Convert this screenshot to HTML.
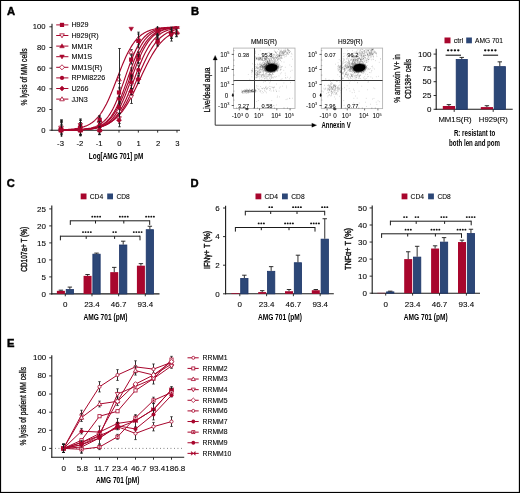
<!DOCTYPE html>
<html><head><meta charset="utf-8"><style>
html,body{margin:0;padding:0;background:#fff;width:520px;height:493px;overflow:hidden}
svg{display:block;will-change:transform;font-family:"Liberation Sans",sans-serif}
</style></head><body>
<svg width="520" height="493" viewBox="0 0 520 493">
<rect width="520" height="493" fill="#fff"/>
<rect x="0" y="0" width="520" height="1" fill="#000"/>
<rect x="0" y="0" width="1.1" height="493" fill="#000"/>
<rect x="518.85" y="0" width="1.15" height="493" fill="#000"/>
<rect x="0" y="491.9" width="520" height="1.1" fill="#000"/>
<text x="7" y="14.9" font-size="11.2" stroke="#000" stroke-width="0.45" font-weight="bold" fill="#000">A</text>
<text x="190.9" y="15.3" font-size="11.2" stroke="#000" stroke-width="0.45" font-weight="bold" fill="#000">B</text>
<text x="6.8" y="187" font-size="11.2" stroke="#000" stroke-width="0.45" font-weight="bold" fill="#000">C</text>
<text x="190.6" y="186.7" font-size="11.2" stroke="#000" stroke-width="0.45" font-weight="bold" fill="#000">D</text>
<text x="7" y="347.3" font-size="11.2" stroke="#000" stroke-width="0.45" font-weight="bold" fill="#000">E</text>
<line x1="52" y1="23.8" x2="52" y2="130.7" stroke="#1a1a1a" stroke-width="1.1"/>
<line x1="51.5" y1="130.2" x2="180" y2="130.2" stroke="#1a1a1a" stroke-width="1.1"/>
<line x1="49.4" y1="130.2" x2="52" y2="130.2" stroke="#1a1a1a" stroke-width="0.9"/>
<text x="45.6" y="132.55" font-size="7.7" stroke="#1a1a1a" stroke-width="0.1" text-anchor="end">0</text>
<line x1="49.4" y1="109.52" x2="52" y2="109.52" stroke="#1a1a1a" stroke-width="0.9"/>
<text x="45.6" y="111.87" font-size="7.7" stroke="#1a1a1a" stroke-width="0.1" text-anchor="end">20</text>
<line x1="49.4" y1="88.84" x2="52" y2="88.84" stroke="#1a1a1a" stroke-width="0.9"/>
<text x="45.6" y="91.19" font-size="7.7" stroke="#1a1a1a" stroke-width="0.1" text-anchor="end">40</text>
<line x1="49.4" y1="68.16" x2="52" y2="68.16" stroke="#1a1a1a" stroke-width="0.9"/>
<text x="45.6" y="70.51" font-size="7.7" stroke="#1a1a1a" stroke-width="0.1" text-anchor="end">60</text>
<line x1="49.4" y1="47.48" x2="52" y2="47.48" stroke="#1a1a1a" stroke-width="0.9"/>
<text x="45.6" y="49.83" font-size="7.7" stroke="#1a1a1a" stroke-width="0.1" text-anchor="end">80</text>
<line x1="49.4" y1="26.8" x2="52" y2="26.8" stroke="#1a1a1a" stroke-width="0.9"/>
<text x="45.6" y="29.15" font-size="7.7" stroke="#1a1a1a" stroke-width="0.1" text-anchor="end">100</text>
<line x1="61.01" y1="130.2" x2="61.01" y2="132.6" stroke="#1a1a1a" stroke-width="0.9"/>
<text x="60.51" y="146.25" font-size="7.7" stroke="#1a1a1a" stroke-width="0.1" text-anchor="middle">-3</text>
<line x1="80.34" y1="130.2" x2="80.34" y2="132.6" stroke="#1a1a1a" stroke-width="0.9"/>
<text x="79.84" y="146.25" font-size="7.7" stroke="#1a1a1a" stroke-width="0.1" text-anchor="middle">-2</text>
<line x1="99.67" y1="130.2" x2="99.67" y2="132.6" stroke="#1a1a1a" stroke-width="0.9"/>
<text x="99.17" y="146.25" font-size="7.7" stroke="#1a1a1a" stroke-width="0.1" text-anchor="middle">-1</text>
<line x1="119" y1="130.2" x2="119" y2="132.6" stroke="#1a1a1a" stroke-width="0.9"/>
<text x="119.4" y="146.25" font-size="7.7" stroke="#1a1a1a" stroke-width="0.1" text-anchor="middle">0</text>
<line x1="138.33" y1="130.2" x2="138.33" y2="132.6" stroke="#1a1a1a" stroke-width="0.9"/>
<text x="138.73" y="146.25" font-size="7.7" stroke="#1a1a1a" stroke-width="0.1" text-anchor="middle">1</text>
<line x1="157.66" y1="130.2" x2="157.66" y2="132.6" stroke="#1a1a1a" stroke-width="0.9"/>
<text x="158.06" y="146.25" font-size="7.7" stroke="#1a1a1a" stroke-width="0.1" text-anchor="middle">2</text>
<line x1="176.99" y1="130.2" x2="176.99" y2="132.6" stroke="#1a1a1a" stroke-width="0.9"/>
<text x="177.39" y="146.25" font-size="7.7" stroke="#1a1a1a" stroke-width="0.1" text-anchor="middle">3</text>
<text x="88.8" y="158.9" font-size="9" font-weight="bold" textLength="54.5" lengthAdjust="spacingAndGlyphs">Log[AMG 701] pM</text>
<text x="26.72" y="77" font-size="8.2" stroke="#1a1a1a" stroke-width="0.3" text-anchor="middle" textLength="57" lengthAdjust="spacingAndGlyphs" transform="rotate(-90 26.72 77)">% lysis of MM cells</text>
<clipPath id="cA"><rect x="52" y="26.3" width="130" height="110"/></clipPath>
<g clip-path="url(#cA)">
<path d="M61.01 129.85L61.98 129.81L62.94 129.77L63.91 129.73L64.88 129.68L65.84 129.63L66.81 129.57L67.78 129.5L68.74 129.43L69.71 129.35L70.68 129.27L71.64 129.17L72.61 129.07L73.57 128.95L74.54 128.82L75.51 128.68L76.47 128.53L77.44 128.36L78.41 128.18L79.37 127.97L80.34 127.75L81.31 127.51L82.27 127.24L83.24 126.94L84.21 126.62L85.17 126.26L86.14 125.88L87.11 125.45L88.07 124.99L89.04 124.48L90 123.93L90.97 123.33L91.94 122.67L92.9 121.96L93.87 121.19L94.84 120.35L95.8 119.44L96.77 118.46L97.74 117.4L98.7 116.26L99.67 115.04L100.64 113.73L101.6 112.33L102.57 110.84L103.54 109.25L104.5 107.57L105.47 105.79L106.44 103.92L107.4 101.95L108.37 99.9L109.34 97.76L110.3 95.55L111.27 93.26L112.23 90.9L113.2 88.49L114.17 86.03L115.13 83.54L116.1 81.03L117.07 78.5L118.03 75.97L119 73.46L119.97 70.97L120.93 68.51L121.9 66.1L122.87 63.74L123.83 61.45L124.8 59.24L125.77 57.1L126.73 55.05L127.7 53.08L128.66 51.21L129.63 49.43L130.6 47.75L131.56 46.16L132.53 44.67L133.5 43.27L134.46 41.96L135.43 40.74L136.4 39.6L137.36 38.54L138.33 37.56L139.3 36.65L140.26 35.81L141.23 35.04L142.2 34.33L143.16 33.67L144.13 33.07L145.1 32.52L146.06 32.01L147.03 31.55L148 31.12L148.96 30.74L149.93 30.38L150.89 30.06L151.86 29.76L152.83 29.49L153.79 29.25L154.76 29.03L155.73 28.82L156.69 28.64L157.66 28.47L158.63 28.32L159.59 28.18L160.56 28.05L161.53 27.93L162.49 27.83L163.46 27.73L164.43 27.65L165.39 27.57L166.36 27.5L167.32 27.43L168.29 27.37L169.26 27.32L170.22 27.27L171.19 27.23L172.16 27.19L173.12 27.15L174.09 27.12L175.06 27.09L176.02 27.06L176.99 27.04" stroke="#a8062d" stroke-width="1.15" fill="none"/>
<path d="M61.01 130.12L61.98 130.12L62.94 130.11L63.91 130.09L64.88 130.08L65.84 130.07L66.81 130.05L67.78 130.04L68.74 130.02L69.71 130L70.68 129.97L71.64 129.95L72.61 129.92L73.57 129.89L74.54 129.85L75.51 129.81L76.47 129.77L77.44 129.72L78.41 129.66L79.37 129.6L80.34 129.53L81.31 129.45L82.27 129.37L83.24 129.27L84.21 129.16L85.17 129.05L86.14 128.91L87.11 128.77L88.07 128.6L89.04 128.42L90 128.22L90.97 128L91.94 127.75L92.9 127.47L93.87 127.17L94.84 126.83L95.8 126.45L96.77 126.04L97.74 125.58L98.7 125.07L99.67 124.51L100.64 123.89L101.6 123.22L102.57 122.47L103.54 121.65L104.5 120.75L105.47 119.77L106.44 118.7L107.4 117.53L108.37 116.26L109.34 114.89L110.3 113.41L111.27 111.81L112.23 110.1L113.2 108.27L114.17 106.32L115.13 104.26L116.1 102.07L117.07 99.78L118.03 97.38L119 94.88L119.97 92.29L120.93 89.63L121.9 86.91L122.87 84.13L123.83 81.32L124.8 78.5L125.77 75.68L126.73 72.87L127.7 70.09L128.66 67.37L129.63 64.71L130.6 62.12L131.56 59.62L132.53 57.22L133.5 54.93L134.46 52.74L135.43 50.68L136.4 48.73L137.36 46.9L138.33 45.19L139.3 43.59L140.26 42.11L141.23 40.74L142.2 39.47L143.16 38.3L144.13 37.23L145.1 36.25L146.06 35.35L147.03 34.53L148 33.78L148.96 33.11L149.93 32.49L150.89 31.93L151.86 31.42L152.83 30.96L153.79 30.55L154.76 30.17L155.73 29.83L156.69 29.53L157.66 29.25L158.63 29L159.59 28.78L160.56 28.58L161.53 28.4L162.49 28.23L163.46 28.09L164.43 27.95L165.39 27.84L166.36 27.73L167.32 27.63L168.29 27.55L169.26 27.47L170.22 27.4L171.19 27.34L172.16 27.28L173.12 27.23L174.09 27.19L175.06 27.15L176.02 27.11L176.99 27.08" stroke="#a8062d" stroke-width="1.15" fill="none"/>
<path d="M61.01 130.15L61.98 130.14L62.94 130.13L63.91 130.12L64.88 130.12L65.84 130.11L66.81 130.09L67.78 130.08L68.74 130.07L69.71 130.05L70.68 130.04L71.64 130.02L72.61 130L73.57 129.97L74.54 129.95L75.51 129.92L76.47 129.89L77.44 129.85L78.41 129.81L79.37 129.77L80.34 129.72L81.31 129.66L82.27 129.6L83.24 129.53L84.21 129.45L85.17 129.37L86.14 129.27L87.11 129.16L88.07 129.05L89.04 128.91L90 128.77L90.97 128.6L91.94 128.42L92.9 128.22L93.87 128L94.84 127.75L95.8 127.47L96.77 127.17L97.74 126.83L98.7 126.45L99.67 126.04L100.64 125.58L101.6 125.07L102.57 124.51L103.54 123.89L104.5 123.22L105.47 122.47L106.44 121.65L107.4 120.75L108.37 119.77L109.34 118.7L110.3 117.53L111.27 116.26L112.23 114.89L113.2 113.41L114.17 111.81L115.13 110.1L116.1 108.27L117.07 106.32L118.03 104.26L119 102.07L119.97 99.78L120.93 97.38L121.9 94.88L122.87 92.29L123.83 89.63L124.8 86.91L125.77 84.13L126.73 81.32L127.7 78.5L128.66 75.68L129.63 72.87L130.6 70.09L131.56 67.37L132.53 64.71L133.5 62.12L134.46 59.62L135.43 57.22L136.4 54.93L137.36 52.74L138.33 50.68L139.3 48.73L140.26 46.9L141.23 45.19L142.2 43.59L143.16 42.11L144.13 40.74L145.1 39.47L146.06 38.3L147.03 37.23L148 36.25L148.96 35.35L149.93 34.53L150.89 33.78L151.86 33.11L152.83 32.49L153.79 31.93L154.76 31.42L155.73 30.96L156.69 30.55L157.66 30.17L158.63 29.83L159.59 29.53L160.56 29.25L161.53 29L162.49 28.78L163.46 28.58L164.43 28.4L165.39 28.23L166.36 28.09L167.32 27.95L168.29 27.84L169.26 27.73L170.22 27.63L171.19 27.55L172.16 27.47L173.12 27.4L174.09 27.34L175.06 27.28L176.02 27.23L176.99 27.19" stroke="#a8062d" stroke-width="1.15" fill="none"/>
<path d="M61.01 130.13L61.98 130.13L62.94 130.12L63.91 130.11L64.88 130.1L65.84 130.09L66.81 130.08L67.78 130.06L68.74 130.05L69.71 130.03L70.68 130.01L71.64 129.99L72.61 129.97L73.57 129.95L74.54 129.92L75.51 129.89L76.47 129.85L77.44 129.82L78.41 129.78L79.37 129.73L80.34 129.68L81.31 129.62L82.27 129.56L83.24 129.49L84.21 129.41L85.17 129.33L86.14 129.23L87.11 129.13L88.07 129.01L89.04 128.88L90 128.74L90.97 128.59L91.94 128.41L92.9 128.22L93.87 128.01L94.84 127.78L95.8 127.52L96.77 127.24L97.74 126.92L98.7 126.58L99.67 126.2L100.64 125.78L101.6 125.32L102.57 124.81L103.54 124.26L104.5 123.65L105.47 122.99L106.44 122.26L107.4 121.47L108.37 120.6L109.34 119.66L110.3 118.64L111.27 117.53L112.23 116.33L113.2 115.04L114.17 113.65L115.13 112.16L116.1 110.56L117.07 108.86L118.03 107.05L119 105.14L119.97 103.12L120.93 101L121.9 98.78L122.87 96.47L123.83 94.07L124.8 91.6L125.77 89.06L126.73 86.47L127.7 83.84L128.66 81.18L129.63 78.5L130.6 75.82L131.56 73.16L132.53 70.53L133.5 67.94L134.46 65.4L135.43 62.93L136.4 60.53L137.36 58.22L138.33 56L139.3 53.88L140.26 51.86L141.23 49.95L142.2 48.14L143.16 46.44L144.13 44.84L145.1 43.35L146.06 41.96L147.03 40.67L148 39.47L148.96 38.36L149.93 37.34L150.89 36.4L151.86 35.53L152.83 34.74L153.79 34.01L154.76 33.35L155.73 32.74L156.69 32.19L157.66 31.68L158.63 31.22L159.59 30.8L160.56 30.42L161.53 30.08L162.49 29.76L163.46 29.48L164.43 29.22L165.39 28.99L166.36 28.78L167.32 28.59L168.29 28.41L169.26 28.26L170.22 28.12L171.19 27.99L172.16 27.87L173.12 27.77L174.09 27.67L175.06 27.59L176.02 27.51L176.99 27.44" stroke="#a8062d" stroke-width="1.15" fill="none"/>
<path d="M61.01 130.15L61.98 130.14L62.94 130.13L63.91 130.13L64.88 130.12L65.84 130.11L66.81 130.1L67.78 130.09L68.74 130.08L69.71 130.06L70.68 130.05L71.64 130.03L72.61 130.01L73.57 129.99L74.54 129.97L75.51 129.95L76.47 129.92L77.44 129.89L78.41 129.85L79.37 129.82L80.34 129.78L81.31 129.73L82.27 129.68L83.24 129.62L84.21 129.56L85.17 129.49L86.14 129.41L87.11 129.33L88.07 129.23L89.04 129.13L90 129.01L90.97 128.88L91.94 128.74L92.9 128.59L93.87 128.41L94.84 128.22L95.8 128.01L96.77 127.78L97.74 127.52L98.7 127.24L99.67 126.92L100.64 126.58L101.6 126.2L102.57 125.78L103.54 125.32L104.5 124.81L105.47 124.26L106.44 123.65L107.4 122.99L108.37 122.26L109.34 121.47L110.3 120.6L111.27 119.66L112.23 118.64L113.2 117.53L114.17 116.33L115.13 115.04L116.1 113.65L117.07 112.16L118.03 110.56L119 108.86L119.97 107.05L120.93 105.14L121.9 103.12L122.87 101L123.83 98.78L124.8 96.47L125.77 94.07L126.73 91.6L127.7 89.06L128.66 86.47L129.63 83.84L130.6 81.18L131.56 78.5L132.53 75.82L133.5 73.16L134.46 70.53L135.43 67.94L136.4 65.4L137.36 62.93L138.33 60.53L139.3 58.22L140.26 56L141.23 53.88L142.2 51.86L143.16 49.95L144.13 48.14L145.1 46.44L146.06 44.84L147.03 43.35L148 41.96L148.96 40.67L149.93 39.47L150.89 38.36L151.86 37.34L152.83 36.4L153.79 35.53L154.76 34.74L155.73 34.01L156.69 33.35L157.66 32.74L158.63 32.19L159.59 31.68L160.56 31.22L161.53 30.8L162.49 30.42L163.46 30.08L164.43 29.76L165.39 29.48L166.36 29.22L167.32 28.99L168.29 28.78L169.26 28.59L170.22 28.41L171.19 28.26L172.16 28.12L173.12 27.99L174.09 27.87L175.06 27.77L176.02 27.67L176.99 27.59" stroke="#a8062d" stroke-width="1.15" fill="none"/>
<path d="M61.01 130.14L61.98 130.13L62.94 130.13L63.91 130.12L64.88 130.11L65.84 130.1L66.81 130.09L67.78 130.08L68.74 130.07L69.71 130.05L70.68 130.04L71.64 130.02L72.61 130L73.57 129.98L74.54 129.96L75.51 129.94L76.47 129.91L77.44 129.88L78.41 129.85L79.37 129.81L80.34 129.77L81.31 129.73L82.27 129.68L83.24 129.63L84.21 129.57L85.17 129.5L86.14 129.43L87.11 129.35L88.07 129.27L89.04 129.17L90 129.07L90.97 128.95L91.94 128.82L92.9 128.68L93.87 128.53L94.84 128.36L95.8 128.18L96.77 127.97L97.74 127.75L98.7 127.51L99.67 127.24L100.64 126.94L101.6 126.62L102.57 126.26L103.54 125.88L104.5 125.45L105.47 124.99L106.44 124.48L107.4 123.93L108.37 123.33L109.34 122.67L110.3 121.96L111.27 121.19L112.23 120.35L113.2 119.44L114.17 118.46L115.13 117.4L116.1 116.26L117.07 115.04L118.03 113.73L119 112.33L119.97 110.84L120.93 109.25L121.9 107.57L122.87 105.79L123.83 103.92L124.8 101.95L125.77 99.9L126.73 97.76L127.7 95.55L128.66 93.26L129.63 90.9L130.6 88.49L131.56 86.03L132.53 83.54L133.5 81.03L134.46 78.5L135.43 75.97L136.4 73.46L137.36 70.97L138.33 68.51L139.3 66.1L140.26 63.74L141.23 61.45L142.2 59.24L143.16 57.1L144.13 55.05L145.1 53.08L146.06 51.21L147.03 49.43L148 47.75L148.96 46.16L149.93 44.67L150.89 43.27L151.86 41.96L152.83 40.74L153.79 39.6L154.76 38.54L155.73 37.56L156.69 36.65L157.66 35.81L158.63 35.04L159.59 34.33L160.56 33.67L161.53 33.07L162.49 32.52L163.46 32.01L164.43 31.55L165.39 31.12L166.36 30.74L167.32 30.38L168.29 30.06L169.26 29.76L170.22 29.49L171.19 29.25L172.16 29.03L173.12 28.82L174.09 28.64L175.06 28.47L176.02 28.32L176.99 28.18" stroke="#a8062d" stroke-width="1.15" fill="none"/>
<path d="M61.01 130.11L61.98 130.11L62.94 130.1L63.91 130.09L64.88 130.08L65.84 130.07L66.81 130.05L67.78 130.04L68.74 130.02L69.71 130.01L70.68 129.99L71.64 129.97L72.61 129.95L73.57 129.92L74.54 129.9L75.51 129.87L76.47 129.84L77.44 129.81L78.41 129.77L79.37 129.73L80.34 129.69L81.31 129.64L82.27 129.58L83.24 129.53L84.21 129.46L85.17 129.4L86.14 129.32L87.11 129.24L88.07 129.15L89.04 129.05L90 128.95L90.97 128.83L91.94 128.7L92.9 128.56L93.87 128.41L94.84 128.25L95.8 128.07L96.77 127.87L97.74 127.66L98.7 127.43L99.67 127.18L100.64 126.9L101.6 126.6L102.57 126.28L103.54 125.92L104.5 125.54L105.47 125.12L106.44 124.67L107.4 124.18L108.37 123.65L109.34 123.08L110.3 122.46L111.27 121.79L112.23 121.07L113.2 120.3L114.17 119.46L115.13 118.57L116.1 117.61L117.07 116.58L118.03 115.48L119 114.31L119.97 113.07L120.93 111.74L121.9 110.34L122.87 108.86L123.83 107.3L124.8 105.66L125.77 103.94L126.73 102.14L127.7 100.27L128.66 98.32L129.63 96.31L130.6 94.23L131.56 92.1L132.53 89.92L133.5 87.69L134.46 85.42L135.43 83.13L136.4 80.82L137.36 78.5L138.33 76.18L139.3 73.87L140.26 71.58L141.23 69.31L142.2 67.08L143.16 64.9L144.13 62.77L145.1 60.69L146.06 58.68L147.03 56.73L148 54.86L148.96 53.06L149.93 51.34L150.89 49.7L151.86 48.14L152.83 46.66L153.79 45.26L154.76 43.93L155.73 42.69L156.69 41.52L157.66 40.42L158.63 39.39L159.59 38.43L160.56 37.54L161.53 36.7L162.49 35.93L163.46 35.21L164.43 34.54L165.39 33.92L166.36 33.35L167.32 32.82L168.29 32.33L169.26 31.88L170.22 31.46L171.19 31.08L172.16 30.72L173.12 30.4L174.09 30.1L175.06 29.82L176.02 29.57L176.99 29.34" stroke="#a8062d" stroke-width="1.15" fill="none"/>
<path d="M61.01 130.06L61.98 130.05L62.94 130.04L63.91 130.02L64.88 130.01L65.84 129.99L66.81 129.97L67.78 129.96L68.74 129.93L69.71 129.91L70.68 129.89L71.64 129.86L72.61 129.83L73.57 129.8L74.54 129.77L75.51 129.73L76.47 129.7L77.44 129.65L78.41 129.61L79.37 129.56L80.34 129.51L81.31 129.45L82.27 129.39L83.24 129.32L84.21 129.24L85.17 129.16L86.14 129.08L87.11 128.99L88.07 128.88L89.04 128.78L90 128.66L90.97 128.53L91.94 128.39L92.9 128.24L93.87 128.08L94.84 127.91L95.8 127.72L96.77 127.52L97.74 127.3L98.7 127.07L99.67 126.81L100.64 126.54L101.6 126.24L102.57 125.92L103.54 125.58L104.5 125.21L105.47 124.81L106.44 124.39L107.4 123.93L108.37 123.44L109.34 122.91L110.3 122.34L111.27 121.74L112.23 121.09L113.2 120.4L114.17 119.66L115.13 118.87L116.1 118.03L117.07 117.14L118.03 116.19L119 115.19L119.97 114.13L120.93 113L121.9 111.81L122.87 110.56L123.83 109.25L124.8 107.87L125.77 106.43L126.73 104.92L127.7 103.35L128.66 101.72L129.63 100.02L130.6 98.27L131.56 96.47L132.53 94.61L133.5 92.71L134.46 90.76L135.43 88.78L136.4 86.76L137.36 84.72L138.33 82.66L139.3 80.58L140.26 78.5L141.23 76.42L142.2 74.34L143.16 72.28L144.13 70.24L145.1 68.22L146.06 66.24L147.03 64.29L148 62.39L148.96 60.53L149.93 58.73L150.89 56.98L151.86 55.28L152.83 53.65L153.79 52.08L154.76 50.57L155.73 49.13L156.69 47.75L157.66 46.44L158.63 45.19L159.59 44L160.56 42.87L161.53 41.81L162.49 40.81L163.46 39.86L164.43 38.97L165.39 38.13L166.36 37.34L167.32 36.6L168.29 35.91L169.26 35.26L170.22 34.66L171.19 34.09L172.16 33.56L173.12 33.07L174.09 32.61L175.06 32.19L176.02 31.79L176.99 31.42" stroke="#a8062d" stroke-width="1.15" fill="none"/>
<line x1="61.5" y1="122.7" x2="61.5" y2="137.44" stroke="#1a1a1a" stroke-width="0.9"/>
<line x1="60.2" y1="122.7" x2="62.8" y2="122.7" stroke="#1a1a1a" stroke-width="0.8"/>
<line x1="60.2" y1="137.44" x2="62.8" y2="137.44" stroke="#1a1a1a" stroke-width="0.8"/>
<path d="M61.01 127.89L63.32 131.88L58.7 131.88Z" stroke="#a8062d" stroke-width="0.8" fill="#fff"/>
<line x1="80.5" y1="124.17" x2="80.5" y2="136.23" stroke="#1a1a1a" stroke-width="0.9"/>
<line x1="79.2" y1="124.17" x2="81.8" y2="124.17" stroke="#1a1a1a" stroke-width="0.8"/>
<line x1="79.2" y1="136.23" x2="81.8" y2="136.23" stroke="#1a1a1a" stroke-width="0.8"/>
<path d="M80.34 127.89L82.65 131.88L78.03 131.88Z" stroke="#a8062d" stroke-width="0.8" fill="#fff"/>
<line x1="99.5" y1="115.83" x2="99.5" y2="125.22" stroke="#1a1a1a" stroke-width="0.9"/>
<line x1="98.2" y1="115.83" x2="100.8" y2="115.83" stroke="#1a1a1a" stroke-width="0.8"/>
<line x1="98.2" y1="125.22" x2="100.8" y2="125.22" stroke="#1a1a1a" stroke-width="0.8"/>
<path d="M99.67 118.22L101.98 122.21L97.36 122.21Z" stroke="#a8062d" stroke-width="0.8" fill="#fff"/>
<line x1="119.5" y1="74.89" x2="119.5" y2="83.51" stroke="#1a1a1a" stroke-width="0.9"/>
<line x1="118.2" y1="74.89" x2="120.8" y2="74.89" stroke="#1a1a1a" stroke-width="0.8"/>
<line x1="118.2" y1="83.51" x2="120.8" y2="83.51" stroke="#1a1a1a" stroke-width="0.8"/>
<path d="M119 76.89L121.31 80.88L116.69 80.88Z" stroke="#a8062d" stroke-width="0.8" fill="#fff"/>
<line x1="131.5" y1="49.59" x2="131.5" y2="54.66" stroke="#1a1a1a" stroke-width="0.9"/>
<line x1="130.2" y1="49.59" x2="132.8" y2="49.59" stroke="#1a1a1a" stroke-width="0.8"/>
<line x1="130.2" y1="54.66" x2="132.8" y2="54.66" stroke="#1a1a1a" stroke-width="0.8"/>
<path d="M131.18 49.81L133.49 53.8L128.87 53.8Z" stroke="#a8062d" stroke-width="0.8" fill="#fff"/>
<line x1="138.5" y1="32.15" x2="138.5" y2="44.84" stroke="#1a1a1a" stroke-width="0.9"/>
<line x1="137.2" y1="32.15" x2="139.8" y2="32.15" stroke="#1a1a1a" stroke-width="0.8"/>
<line x1="137.2" y1="44.84" x2="139.8" y2="44.84" stroke="#1a1a1a" stroke-width="0.8"/>
<path d="M138.33 36.19L140.64 40.18L136.02 40.18Z" stroke="#a8062d" stroke-width="0.8" fill="#fff"/>
<line x1="157.5" y1="29.91" x2="157.5" y2="36.36" stroke="#1a1a1a" stroke-width="0.9"/>
<line x1="156.2" y1="29.91" x2="158.8" y2="29.91" stroke="#1a1a1a" stroke-width="0.8"/>
<line x1="156.2" y1="36.36" x2="158.8" y2="36.36" stroke="#1a1a1a" stroke-width="0.8"/>
<path d="M157.66 30.83L159.97 34.82L155.35 34.82Z" stroke="#a8062d" stroke-width="0.8" fill="#fff"/>
<line x1="176.5" y1="19.83" x2="176.5" y2="33.77" stroke="#1a1a1a" stroke-width="0.9"/>
<line x1="175.2" y1="19.83" x2="177.8" y2="19.83" stroke="#1a1a1a" stroke-width="0.8"/>
<line x1="175.2" y1="33.77" x2="177.8" y2="33.77" stroke="#1a1a1a" stroke-width="0.8"/>
<path d="M176.99 24.49L179.3 28.48L174.68 28.48Z" stroke="#a8062d" stroke-width="0.8" fill="#fff"/>
<line x1="61.5" y1="120.01" x2="61.5" y2="137.44" stroke="#1a1a1a" stroke-width="0.9"/>
<line x1="60.2" y1="120.01" x2="62.8" y2="120.01" stroke="#1a1a1a" stroke-width="0.8"/>
<line x1="60.2" y1="137.44" x2="62.8" y2="137.44" stroke="#1a1a1a" stroke-width="0.8"/>
<path d="M61.01 126.67L63.53 129.19L61.01 131.71L58.49 129.19Z" stroke="#a8062d" stroke-width="0.8" fill="#fff"/>
<line x1="80.5" y1="124.57" x2="80.5" y2="135.83" stroke="#1a1a1a" stroke-width="0.9"/>
<line x1="79.2" y1="124.57" x2="81.8" y2="124.57" stroke="#1a1a1a" stroke-width="0.8"/>
<line x1="79.2" y1="135.83" x2="81.8" y2="135.83" stroke="#1a1a1a" stroke-width="0.8"/>
<path d="M80.34 127.68L82.86 130.2L80.34 132.72L77.82 130.2Z" stroke="#a8062d" stroke-width="0.8" fill="#fff"/>
<line x1="99.5" y1="127.52" x2="99.5" y2="132.88" stroke="#1a1a1a" stroke-width="0.9"/>
<line x1="98.2" y1="127.52" x2="100.8" y2="127.52" stroke="#1a1a1a" stroke-width="0.8"/>
<line x1="98.2" y1="132.88" x2="100.8" y2="132.88" stroke="#1a1a1a" stroke-width="0.8"/>
<path d="M99.67 127.68L102.19 130.2L99.67 132.72L97.15 130.2Z" stroke="#a8062d" stroke-width="0.8" fill="#fff"/>
<line x1="119.5" y1="104.95" x2="119.5" y2="117.53" stroke="#1a1a1a" stroke-width="0.9"/>
<line x1="118.2" y1="104.95" x2="120.8" y2="104.95" stroke="#1a1a1a" stroke-width="0.8"/>
<line x1="118.2" y1="117.53" x2="120.8" y2="117.53" stroke="#1a1a1a" stroke-width="0.8"/>
<path d="M119 108.72L121.52 111.24L119 113.76L116.48 111.24Z" stroke="#a8062d" stroke-width="0.8" fill="#fff"/>
<line x1="131.5" y1="78.46" x2="131.5" y2="88.61" stroke="#1a1a1a" stroke-width="0.9"/>
<line x1="130.2" y1="78.46" x2="132.8" y2="78.46" stroke="#1a1a1a" stroke-width="0.8"/>
<line x1="130.2" y1="88.61" x2="132.8" y2="88.61" stroke="#1a1a1a" stroke-width="0.8"/>
<path d="M131.18 81.01L133.7 83.53L131.18 86.05L128.66 83.53Z" stroke="#a8062d" stroke-width="0.8" fill="#fff"/>
<line x1="138.5" y1="54.81" x2="138.5" y2="62.8" stroke="#1a1a1a" stroke-width="0.9"/>
<line x1="137.2" y1="54.81" x2="139.8" y2="54.81" stroke="#1a1a1a" stroke-width="0.8"/>
<line x1="137.2" y1="62.8" x2="139.8" y2="62.8" stroke="#1a1a1a" stroke-width="0.8"/>
<path d="M138.33 56.29L140.85 58.81L138.33 61.33L135.81 58.81Z" stroke="#a8062d" stroke-width="0.8" fill="#fff"/>
<line x1="157.5" y1="29.76" x2="157.5" y2="34.54" stroke="#1a1a1a" stroke-width="0.9"/>
<line x1="156.2" y1="29.76" x2="158.8" y2="29.76" stroke="#1a1a1a" stroke-width="0.8"/>
<line x1="156.2" y1="34.54" x2="158.8" y2="34.54" stroke="#1a1a1a" stroke-width="0.8"/>
<path d="M157.66 29.63L160.18 32.15L157.66 34.67L155.14 32.15Z" stroke="#a8062d" stroke-width="0.8" fill="#fff"/>
<line x1="176.5" y1="29.92" x2="176.5" y2="36.18" stroke="#1a1a1a" stroke-width="0.9"/>
<line x1="175.2" y1="29.92" x2="177.8" y2="29.92" stroke="#1a1a1a" stroke-width="0.8"/>
<line x1="175.2" y1="36.18" x2="177.8" y2="36.18" stroke="#1a1a1a" stroke-width="0.8"/>
<path d="M176.99 30.53L179.51 33.05L176.99 35.57L174.47 33.05Z" stroke="#a8062d" stroke-width="0.8" fill="#fff"/>
<line x1="61.5" y1="122.06" x2="61.5" y2="133.58" stroke="#1a1a1a" stroke-width="0.9"/>
<line x1="60.2" y1="122.06" x2="62.8" y2="122.06" stroke="#1a1a1a" stroke-width="0.8"/>
<line x1="60.2" y1="133.58" x2="62.8" y2="133.58" stroke="#1a1a1a" stroke-width="0.8"/>
<path d="M61.01 130.13L63.32 126.14L58.7 126.14Z" stroke="#a8062d" stroke-width="0.8" fill="#fff"/>
<line x1="80.5" y1="122.76" x2="80.5" y2="134.13" stroke="#1a1a1a" stroke-width="0.9"/>
<line x1="79.2" y1="122.76" x2="81.8" y2="122.76" stroke="#1a1a1a" stroke-width="0.8"/>
<line x1="79.2" y1="134.13" x2="81.8" y2="134.13" stroke="#1a1a1a" stroke-width="0.8"/>
<path d="M80.34 130.75L82.65 126.76L78.03 126.76Z" stroke="#a8062d" stroke-width="0.8" fill="#fff"/>
<line x1="99.5" y1="117.48" x2="99.5" y2="128.84" stroke="#1a1a1a" stroke-width="0.9"/>
<line x1="98.2" y1="117.48" x2="100.8" y2="117.48" stroke="#1a1a1a" stroke-width="0.8"/>
<line x1="98.2" y1="128.84" x2="100.8" y2="128.84" stroke="#1a1a1a" stroke-width="0.8"/>
<path d="M99.67 125.47L101.98 121.48L97.36 121.48Z" stroke="#a8062d" stroke-width="0.8" fill="#fff"/>
<line x1="119.5" y1="113.33" x2="119.5" y2="123.4" stroke="#1a1a1a" stroke-width="0.9"/>
<line x1="118.2" y1="113.33" x2="120.8" y2="113.33" stroke="#1a1a1a" stroke-width="0.8"/>
<line x1="118.2" y1="123.4" x2="120.8" y2="123.4" stroke="#1a1a1a" stroke-width="0.8"/>
<path d="M119 120.67L121.31 116.68L116.69 116.68Z" stroke="#a8062d" stroke-width="0.8" fill="#fff"/>
<line x1="131.5" y1="90.29" x2="131.5" y2="103.48" stroke="#1a1a1a" stroke-width="0.9"/>
<line x1="130.2" y1="90.29" x2="132.8" y2="90.29" stroke="#1a1a1a" stroke-width="0.8"/>
<line x1="130.2" y1="103.48" x2="132.8" y2="103.48" stroke="#1a1a1a" stroke-width="0.8"/>
<path d="M131.18 99.19L133.49 95.2L128.87 95.2Z" stroke="#a8062d" stroke-width="0.8" fill="#fff"/>
<line x1="138.5" y1="76.25" x2="138.5" y2="83.37" stroke="#1a1a1a" stroke-width="0.9"/>
<line x1="137.2" y1="76.25" x2="139.8" y2="76.25" stroke="#1a1a1a" stroke-width="0.8"/>
<line x1="137.2" y1="83.37" x2="139.8" y2="83.37" stroke="#1a1a1a" stroke-width="0.8"/>
<path d="M138.33 82.12L140.64 78.13L136.02 78.13Z" stroke="#a8062d" stroke-width="0.8" fill="#fff"/>
<line x1="157.5" y1="37.8" x2="157.5" y2="43.16" stroke="#1a1a1a" stroke-width="0.9"/>
<line x1="156.2" y1="37.8" x2="158.8" y2="37.8" stroke="#1a1a1a" stroke-width="0.8"/>
<line x1="156.2" y1="43.16" x2="158.8" y2="43.16" stroke="#1a1a1a" stroke-width="0.8"/>
<path d="M157.66 42.79L159.97 38.8L155.35 38.8Z" stroke="#a8062d" stroke-width="0.8" fill="#fff"/>
<line x1="171.5" y1="29.12" x2="171.5" y2="41.09" stroke="#1a1a1a" stroke-width="0.9"/>
<line x1="170.2" y1="29.12" x2="172.8" y2="29.12" stroke="#1a1a1a" stroke-width="0.8"/>
<line x1="170.2" y1="41.09" x2="172.8" y2="41.09" stroke="#1a1a1a" stroke-width="0.8"/>
<path d="M171.19 37.42L173.5 33.43L168.88 33.43Z" stroke="#a8062d" stroke-width="0.8" fill="#fff"/>
<line x1="61.5" y1="125.86" x2="61.5" y2="134.54" stroke="#1a1a1a" stroke-width="0.9"/>
<line x1="60.2" y1="125.86" x2="62.8" y2="125.86" stroke="#1a1a1a" stroke-width="0.8"/>
<line x1="60.2" y1="134.54" x2="62.8" y2="134.54" stroke="#1a1a1a" stroke-width="0.8"/>
<rect x="58.91" y="128.1" width="4.2" height="4.2" fill="#a8062d"/>
<line x1="80.5" y1="120.34" x2="80.5" y2="134.54" stroke="#1a1a1a" stroke-width="0.9"/>
<line x1="79.2" y1="120.34" x2="81.8" y2="120.34" stroke="#1a1a1a" stroke-width="0.8"/>
<line x1="79.2" y1="134.54" x2="81.8" y2="134.54" stroke="#1a1a1a" stroke-width="0.8"/>
<rect x="78.24" y="125.34" width="4.2" height="4.2" fill="#a8062d"/>
<line x1="99.5" y1="116.16" x2="99.5" y2="123.54" stroke="#1a1a1a" stroke-width="0.9"/>
<line x1="98.2" y1="116.16" x2="100.8" y2="116.16" stroke="#1a1a1a" stroke-width="0.8"/>
<line x1="98.2" y1="123.54" x2="100.8" y2="123.54" stroke="#1a1a1a" stroke-width="0.8"/>
<rect x="97.57" y="117.75" width="4.2" height="4.2" fill="#a8062d"/>
<line x1="119.5" y1="87.32" x2="119.5" y2="97.6" stroke="#1a1a1a" stroke-width="0.9"/>
<line x1="118.2" y1="87.32" x2="120.8" y2="87.32" stroke="#1a1a1a" stroke-width="0.8"/>
<line x1="118.2" y1="97.6" x2="120.8" y2="97.6" stroke="#1a1a1a" stroke-width="0.8"/>
<rect x="116.9" y="90.36" width="4.2" height="4.2" fill="#a8062d"/>
<line x1="131.5" y1="55.19" x2="131.5" y2="64.05" stroke="#1a1a1a" stroke-width="0.9"/>
<line x1="130.2" y1="55.19" x2="132.8" y2="55.19" stroke="#1a1a1a" stroke-width="0.8"/>
<line x1="130.2" y1="64.05" x2="132.8" y2="64.05" stroke="#1a1a1a" stroke-width="0.8"/>
<rect x="129.08" y="57.52" width="4.2" height="4.2" fill="#a8062d"/>
<line x1="138.5" y1="34.02" x2="138.5" y2="47.92" stroke="#1a1a1a" stroke-width="0.9"/>
<line x1="137.2" y1="34.02" x2="139.8" y2="34.02" stroke="#1a1a1a" stroke-width="0.8"/>
<line x1="137.2" y1="47.92" x2="139.8" y2="47.92" stroke="#1a1a1a" stroke-width="0.8"/>
<rect x="136.23" y="38.87" width="4.2" height="4.2" fill="#a8062d"/>
<line x1="157.5" y1="24.07" x2="157.5" y2="35.07" stroke="#1a1a1a" stroke-width="0.9"/>
<line x1="156.2" y1="24.07" x2="158.8" y2="24.07" stroke="#1a1a1a" stroke-width="0.8"/>
<line x1="156.2" y1="35.07" x2="158.8" y2="35.07" stroke="#1a1a1a" stroke-width="0.8"/>
<rect x="155.56" y="27.47" width="4.2" height="4.2" fill="#a8062d"/>
<line x1="171.5" y1="27.1" x2="171.5" y2="38.49" stroke="#1a1a1a" stroke-width="0.9"/>
<line x1="170.2" y1="27.1" x2="172.8" y2="27.1" stroke="#1a1a1a" stroke-width="0.8"/>
<line x1="170.2" y1="38.49" x2="172.8" y2="38.49" stroke="#1a1a1a" stroke-width="0.8"/>
<rect x="169.09" y="30.69" width="4.2" height="4.2" fill="#a8062d"/>
<line x1="61.5" y1="119.93" x2="61.5" y2="136.71" stroke="#1a1a1a" stroke-width="0.9"/>
<line x1="60.2" y1="119.93" x2="62.8" y2="119.93" stroke="#1a1a1a" stroke-width="0.8"/>
<line x1="60.2" y1="136.71" x2="62.8" y2="136.71" stroke="#1a1a1a" stroke-width="0.8"/>
<path d="M61.01 126.01L63.32 130L58.7 130Z" stroke="#a8062d" stroke-width="0.5" fill="#a8062d"/>
<line x1="80.5" y1="122.61" x2="80.5" y2="137.44" stroke="#1a1a1a" stroke-width="0.9"/>
<line x1="79.2" y1="122.61" x2="81.8" y2="122.61" stroke="#1a1a1a" stroke-width="0.8"/>
<line x1="79.2" y1="137.44" x2="81.8" y2="137.44" stroke="#1a1a1a" stroke-width="0.8"/>
<path d="M80.34 127.89L82.65 131.88L78.03 131.88Z" stroke="#a8062d" stroke-width="0.5" fill="#a8062d"/>
<line x1="99.5" y1="125.75" x2="99.5" y2="134.65" stroke="#1a1a1a" stroke-width="0.9"/>
<line x1="98.2" y1="125.75" x2="100.8" y2="125.75" stroke="#1a1a1a" stroke-width="0.8"/>
<line x1="98.2" y1="134.65" x2="100.8" y2="134.65" stroke="#1a1a1a" stroke-width="0.8"/>
<path d="M99.67 127.89L101.98 131.88L97.36 131.88Z" stroke="#a8062d" stroke-width="0.5" fill="#a8062d"/>
<line x1="119.5" y1="103.52" x2="119.5" y2="108.86" stroke="#1a1a1a" stroke-width="0.9"/>
<line x1="118.2" y1="103.52" x2="120.8" y2="103.52" stroke="#1a1a1a" stroke-width="0.8"/>
<line x1="118.2" y1="108.86" x2="120.8" y2="108.86" stroke="#1a1a1a" stroke-width="0.8"/>
<path d="M119 103.88L121.31 107.87L116.69 107.87Z" stroke="#a8062d" stroke-width="0.5" fill="#a8062d"/>
<line x1="131.5" y1="67.88" x2="131.5" y2="79.96" stroke="#1a1a1a" stroke-width="0.9"/>
<line x1="130.2" y1="67.88" x2="132.8" y2="67.88" stroke="#1a1a1a" stroke-width="0.8"/>
<line x1="130.2" y1="79.96" x2="132.8" y2="79.96" stroke="#1a1a1a" stroke-width="0.8"/>
<path d="M131.18 71.61L133.49 75.6L128.87 75.6Z" stroke="#a8062d" stroke-width="0.5" fill="#a8062d"/>
<line x1="138.5" y1="51.93" x2="138.5" y2="58.62" stroke="#1a1a1a" stroke-width="0.9"/>
<line x1="137.2" y1="51.93" x2="139.8" y2="51.93" stroke="#1a1a1a" stroke-width="0.8"/>
<line x1="137.2" y1="58.62" x2="139.8" y2="58.62" stroke="#1a1a1a" stroke-width="0.8"/>
<path d="M138.33 52.97L140.64 56.96L136.02 56.96Z" stroke="#a8062d" stroke-width="0.5" fill="#a8062d"/>
<line x1="157.5" y1="24.95" x2="157.5" y2="38.1" stroke="#1a1a1a" stroke-width="0.9"/>
<line x1="156.2" y1="24.95" x2="158.8" y2="24.95" stroke="#1a1a1a" stroke-width="0.8"/>
<line x1="156.2" y1="38.1" x2="158.8" y2="38.1" stroke="#1a1a1a" stroke-width="0.8"/>
<path d="M157.66 29.21L159.97 33.2L155.35 33.2Z" stroke="#a8062d" stroke-width="0.5" fill="#a8062d"/>
<line x1="176.5" y1="28" x2="176.5" y2="36.78" stroke="#1a1a1a" stroke-width="0.9"/>
<line x1="175.2" y1="28" x2="177.8" y2="28" stroke="#1a1a1a" stroke-width="0.8"/>
<line x1="175.2" y1="36.78" x2="177.8" y2="36.78" stroke="#1a1a1a" stroke-width="0.8"/>
<path d="M176.99 30.08L179.3 34.07L174.68 34.07Z" stroke="#a8062d" stroke-width="0.5" fill="#a8062d"/>
<line x1="61.5" y1="121.15" x2="61.5" y2="137.44" stroke="#1a1a1a" stroke-width="0.9"/>
<line x1="60.2" y1="121.15" x2="62.8" y2="121.15" stroke="#1a1a1a" stroke-width="0.8"/>
<line x1="60.2" y1="137.44" x2="62.8" y2="137.44" stroke="#1a1a1a" stroke-width="0.8"/>
<path d="M61.01 131.83L63.32 127.84L58.7 127.84Z" stroke="#a8062d" stroke-width="0.5" fill="#a8062d"/>
<line x1="80.5" y1="118.88" x2="80.5" y2="131.45" stroke="#1a1a1a" stroke-width="0.9"/>
<line x1="79.2" y1="118.88" x2="81.8" y2="118.88" stroke="#1a1a1a" stroke-width="0.8"/>
<line x1="79.2" y1="131.45" x2="81.8" y2="131.45" stroke="#1a1a1a" stroke-width="0.8"/>
<path d="M80.34 127.47L82.65 123.48L78.03 123.48Z" stroke="#a8062d" stroke-width="0.5" fill="#a8062d"/>
<line x1="99.5" y1="121.31" x2="99.5" y2="134.59" stroke="#1a1a1a" stroke-width="0.9"/>
<line x1="98.2" y1="121.31" x2="100.8" y2="121.31" stroke="#1a1a1a" stroke-width="0.8"/>
<line x1="98.2" y1="134.59" x2="100.8" y2="134.59" stroke="#1a1a1a" stroke-width="0.8"/>
<path d="M99.67 130.26L101.98 126.27L97.36 126.27Z" stroke="#a8062d" stroke-width="0.5" fill="#a8062d"/>
<line x1="119.5" y1="96.61" x2="119.5" y2="102.31" stroke="#1a1a1a" stroke-width="0.9"/>
<line x1="118.2" y1="96.61" x2="120.8" y2="96.61" stroke="#1a1a1a" stroke-width="0.8"/>
<line x1="118.2" y1="102.31" x2="120.8" y2="102.31" stroke="#1a1a1a" stroke-width="0.8"/>
<path d="M119 101.77L121.31 97.78L116.69 97.78Z" stroke="#a8062d" stroke-width="0.5" fill="#a8062d"/>
<line x1="131.5" y1="74.97" x2="131.5" y2="81.51" stroke="#1a1a1a" stroke-width="0.9"/>
<line x1="130.2" y1="74.97" x2="132.8" y2="74.97" stroke="#1a1a1a" stroke-width="0.8"/>
<line x1="130.2" y1="81.51" x2="132.8" y2="81.51" stroke="#1a1a1a" stroke-width="0.8"/>
<path d="M131.18 80.55L133.49 76.56L128.87 76.56Z" stroke="#a8062d" stroke-width="0.5" fill="#a8062d"/>
<line x1="138.5" y1="54.73" x2="138.5" y2="63.89" stroke="#1a1a1a" stroke-width="0.9"/>
<line x1="137.2" y1="54.73" x2="139.8" y2="54.73" stroke="#1a1a1a" stroke-width="0.8"/>
<line x1="137.2" y1="63.89" x2="139.8" y2="63.89" stroke="#1a1a1a" stroke-width="0.8"/>
<path d="M138.33 61.62L140.64 57.63L136.02 57.63Z" stroke="#a8062d" stroke-width="0.5" fill="#a8062d"/>
<line x1="157.5" y1="27.15" x2="157.5" y2="34" stroke="#1a1a1a" stroke-width="0.9"/>
<line x1="156.2" y1="27.15" x2="158.8" y2="27.15" stroke="#1a1a1a" stroke-width="0.8"/>
<line x1="156.2" y1="34" x2="158.8" y2="34" stroke="#1a1a1a" stroke-width="0.8"/>
<path d="M157.66 32.89L159.97 28.9L155.35 28.9Z" stroke="#a8062d" stroke-width="0.5" fill="#a8062d"/>
<line x1="171.5" y1="29.91" x2="171.5" y2="38.37" stroke="#1a1a1a" stroke-width="0.9"/>
<line x1="170.2" y1="29.91" x2="172.8" y2="29.91" stroke="#1a1a1a" stroke-width="0.8"/>
<line x1="170.2" y1="38.37" x2="172.8" y2="38.37" stroke="#1a1a1a" stroke-width="0.8"/>
<path d="M171.19 36.45L173.5 32.46L168.88 32.46Z" stroke="#a8062d" stroke-width="0.5" fill="#a8062d"/>
<line x1="61.5" y1="121.14" x2="61.5" y2="137.44" stroke="#1a1a1a" stroke-width="0.9"/>
<line x1="60.2" y1="121.14" x2="62.8" y2="121.14" stroke="#1a1a1a" stroke-width="0.8"/>
<line x1="60.2" y1="137.44" x2="62.8" y2="137.44" stroke="#1a1a1a" stroke-width="0.8"/>
<circle cx="61.01" cy="130.2" r="2.1" fill="#a8062d"/>
<line x1="80.5" y1="120.08" x2="80.5" y2="134.74" stroke="#1a1a1a" stroke-width="0.9"/>
<line x1="79.2" y1="120.08" x2="81.8" y2="120.08" stroke="#1a1a1a" stroke-width="0.8"/>
<line x1="79.2" y1="134.74" x2="81.8" y2="134.74" stroke="#1a1a1a" stroke-width="0.8"/>
<circle cx="80.34" cy="127.41" r="2.1" fill="#a8062d"/>
<line x1="99.5" y1="122.7" x2="99.5" y2="127.4" stroke="#1a1a1a" stroke-width="0.9"/>
<line x1="98.2" y1="122.7" x2="100.8" y2="122.7" stroke="#1a1a1a" stroke-width="0.8"/>
<line x1="98.2" y1="127.4" x2="100.8" y2="127.4" stroke="#1a1a1a" stroke-width="0.8"/>
<circle cx="99.67" cy="125.05" r="2.1" fill="#a8062d"/>
<line x1="119.5" y1="101.27" x2="119.5" y2="113.47" stroke="#1a1a1a" stroke-width="0.9"/>
<line x1="118.2" y1="101.27" x2="120.8" y2="101.27" stroke="#1a1a1a" stroke-width="0.8"/>
<line x1="118.2" y1="113.47" x2="120.8" y2="113.47" stroke="#1a1a1a" stroke-width="0.8"/>
<circle cx="119" cy="107.37" r="2.1" fill="#a8062d"/>
<line x1="131.5" y1="76.18" x2="131.5" y2="88.57" stroke="#1a1a1a" stroke-width="0.9"/>
<line x1="130.2" y1="76.18" x2="132.8" y2="76.18" stroke="#1a1a1a" stroke-width="0.8"/>
<line x1="130.2" y1="88.57" x2="132.8" y2="88.57" stroke="#1a1a1a" stroke-width="0.8"/>
<circle cx="131.18" cy="82.38" r="2.1" fill="#a8062d"/>
<line x1="138.5" y1="65.71" x2="138.5" y2="73.97" stroke="#1a1a1a" stroke-width="0.9"/>
<line x1="137.2" y1="65.71" x2="139.8" y2="65.71" stroke="#1a1a1a" stroke-width="0.8"/>
<line x1="137.2" y1="73.97" x2="139.8" y2="73.97" stroke="#1a1a1a" stroke-width="0.8"/>
<circle cx="138.33" cy="69.84" r="2.1" fill="#a8062d"/>
<line x1="157.5" y1="35.39" x2="157.5" y2="46.08" stroke="#1a1a1a" stroke-width="0.9"/>
<line x1="156.2" y1="35.39" x2="158.8" y2="35.39" stroke="#1a1a1a" stroke-width="0.8"/>
<line x1="156.2" y1="46.08" x2="158.8" y2="46.08" stroke="#1a1a1a" stroke-width="0.8"/>
<circle cx="157.66" cy="40.73" r="2.1" fill="#a8062d"/>
<line x1="171.5" y1="32.27" x2="171.5" y2="37.1" stroke="#1a1a1a" stroke-width="0.9"/>
<line x1="170.2" y1="32.27" x2="172.8" y2="32.27" stroke="#1a1a1a" stroke-width="0.8"/>
<line x1="170.2" y1="37.1" x2="172.8" y2="37.1" stroke="#1a1a1a" stroke-width="0.8"/>
<circle cx="171.19" cy="34.68" r="2.1" fill="#a8062d"/>
<line x1="61.5" y1="124.31" x2="61.5" y2="136.09" stroke="#1a1a1a" stroke-width="0.9"/>
<line x1="60.2" y1="124.31" x2="62.8" y2="124.31" stroke="#1a1a1a" stroke-width="0.8"/>
<line x1="60.2" y1="136.09" x2="62.8" y2="136.09" stroke="#1a1a1a" stroke-width="0.8"/>
<path d="M61.01 127.68L63.53 130.2L61.01 132.72L58.49 130.2Z" stroke="#a8062d" stroke-width="0.5" fill="#a8062d"/>
<line x1="80.5" y1="125.28" x2="80.5" y2="135.12" stroke="#1a1a1a" stroke-width="0.9"/>
<line x1="79.2" y1="125.28" x2="81.8" y2="125.28" stroke="#1a1a1a" stroke-width="0.8"/>
<line x1="79.2" y1="135.12" x2="81.8" y2="135.12" stroke="#1a1a1a" stroke-width="0.8"/>
<path d="M80.34 127.68L82.86 130.2L80.34 132.72L77.82 130.2Z" stroke="#a8062d" stroke-width="0.5" fill="#a8062d"/>
<line x1="99.5" y1="126.25" x2="99.5" y2="134.15" stroke="#1a1a1a" stroke-width="0.9"/>
<line x1="98.2" y1="126.25" x2="100.8" y2="126.25" stroke="#1a1a1a" stroke-width="0.8"/>
<line x1="98.2" y1="134.15" x2="100.8" y2="134.15" stroke="#1a1a1a" stroke-width="0.8"/>
<path d="M99.67 127.68L102.19 130.2L99.67 132.72L97.15 130.2Z" stroke="#a8062d" stroke-width="0.5" fill="#a8062d"/>
<line x1="119.5" y1="113.61" x2="119.5" y2="126.79" stroke="#1a1a1a" stroke-width="0.9"/>
<line x1="118.2" y1="113.61" x2="120.8" y2="113.61" stroke="#1a1a1a" stroke-width="0.8"/>
<line x1="118.2" y1="126.79" x2="120.8" y2="126.79" stroke="#1a1a1a" stroke-width="0.8"/>
<path d="M119 117.68L121.52 120.2L119 122.72L116.48 120.2Z" stroke="#a8062d" stroke-width="0.5" fill="#a8062d"/>
<line x1="131.5" y1="88.71" x2="131.5" y2="94.38" stroke="#1a1a1a" stroke-width="0.9"/>
<line x1="130.2" y1="88.71" x2="132.8" y2="88.71" stroke="#1a1a1a" stroke-width="0.8"/>
<line x1="130.2" y1="94.38" x2="132.8" y2="94.38" stroke="#1a1a1a" stroke-width="0.8"/>
<path d="M131.18 89.03L133.7 91.55L131.18 94.07L128.66 91.55Z" stroke="#a8062d" stroke-width="0.5" fill="#a8062d"/>
<line x1="138.5" y1="75.39" x2="138.5" y2="83.12" stroke="#1a1a1a" stroke-width="0.9"/>
<line x1="137.2" y1="75.39" x2="139.8" y2="75.39" stroke="#1a1a1a" stroke-width="0.8"/>
<line x1="137.2" y1="83.12" x2="139.8" y2="83.12" stroke="#1a1a1a" stroke-width="0.8"/>
<path d="M138.33 76.73L140.85 79.25L138.33 81.77L135.81 79.25Z" stroke="#a8062d" stroke-width="0.5" fill="#a8062d"/>
<line x1="157.5" y1="39.4" x2="157.5" y2="44.81" stroke="#1a1a1a" stroke-width="0.9"/>
<line x1="156.2" y1="39.4" x2="158.8" y2="39.4" stroke="#1a1a1a" stroke-width="0.8"/>
<line x1="156.2" y1="44.81" x2="158.8" y2="44.81" stroke="#1a1a1a" stroke-width="0.8"/>
<path d="M157.66 39.59L160.18 42.11L157.66 44.63L155.14 42.11Z" stroke="#a8062d" stroke-width="0.5" fill="#a8062d"/>
<line x1="176.5" y1="19.6" x2="176.5" y2="34" stroke="#1a1a1a" stroke-width="0.9"/>
<line x1="175.2" y1="19.6" x2="177.8" y2="19.6" stroke="#1a1a1a" stroke-width="0.8"/>
<line x1="175.2" y1="34" x2="177.8" y2="34" stroke="#1a1a1a" stroke-width="0.8"/>
<path d="M176.99 24.28L179.51 26.8L176.99 29.32L174.47 26.8Z" stroke="#a8062d" stroke-width="0.5" fill="#a8062d"/>
</g>
<line x1="119.5" y1="48.51" x2="119.5" y2="88.84" stroke="#1a1a1a" stroke-width="0.9"/>
<line x1="118.2" y1="48.51" x2="120.8" y2="48.51" stroke="#1a1a1a" stroke-width="0.8"/>
<line x1="118.2" y1="88.84" x2="120.8" y2="88.84" stroke="#1a1a1a" stroke-width="0.8"/>
<path d="M131.18 31.18L133.49 27.19L128.87 27.19Z" stroke="#a8062d" stroke-width="0.5" fill="#a8062d"/>
<line x1="56.2" y1="24.9" x2="68.4" y2="24.9" stroke="#a8062d" stroke-width="1"/>
<rect x="59.9" y="22.8" width="4.2" height="4.2" fill="#a8062d"/>
<text x="71.4" y="27.38" font-size="7.2" stroke="#1a1a1a" stroke-width="0.1">H929</text>
<line x1="56.2" y1="35.5" x2="68.4" y2="35.5" stroke="#a8062d" stroke-width="1"/>
<path d="M62 37.81L64.31 33.82L59.69 33.82Z" stroke="#a8062d" stroke-width="0.8" fill="#fff"/>
<text x="71.4" y="37.98" font-size="7.2" stroke="#1a1a1a" stroke-width="0.1">H929(R)</text>
<line x1="56.2" y1="46.1" x2="68.4" y2="46.1" stroke="#a8062d" stroke-width="1"/>
<path d="M62 43.79L64.31 47.78L59.69 47.78Z" stroke="#a8062d" stroke-width="0.5" fill="#a8062d"/>
<text x="71.4" y="48.58" font-size="7.2" stroke="#1a1a1a" stroke-width="0.1">MM1R</text>
<line x1="56.2" y1="56.7" x2="68.4" y2="56.7" stroke="#a8062d" stroke-width="1"/>
<path d="M62 59.01L64.31 55.02L59.69 55.02Z" stroke="#a8062d" stroke-width="0.5" fill="#a8062d"/>
<text x="71.4" y="59.18" font-size="7.2" stroke="#1a1a1a" stroke-width="0.1">MM1S</text>
<line x1="56.2" y1="67.3" x2="68.4" y2="67.3" stroke="#a8062d" stroke-width="1"/>
<path d="M62 64.78L64.52 67.3L62 69.82L59.48 67.3Z" stroke="#a8062d" stroke-width="0.8" fill="#fff"/>
<text x="71.4" y="69.78" font-size="7.2" stroke="#1a1a1a" stroke-width="0.1">MM1S(R)</text>
<line x1="56.2" y1="77.9" x2="68.4" y2="77.9" stroke="#a8062d" stroke-width="1"/>
<circle cx="62" cy="77.9" r="2.1" fill="#a8062d"/>
<text x="71.4" y="80.38" font-size="7.2" stroke="#1a1a1a" stroke-width="0.1">RPMI8226</text>
<line x1="56.2" y1="88.5" x2="68.4" y2="88.5" stroke="#a8062d" stroke-width="1"/>
<path d="M62 85.98L64.52 88.5L62 91.02L59.48 88.5Z" stroke="#a8062d" stroke-width="0.5" fill="#a8062d"/>
<text x="71.4" y="90.98" font-size="7.2" stroke="#1a1a1a" stroke-width="0.1">U266</text>
<line x1="56.2" y1="99.1" x2="68.4" y2="99.1" stroke="#a8062d" stroke-width="1"/>
<path d="M62 96.79L64.31 100.78L59.69 100.78Z" stroke="#a8062d" stroke-width="0.8" fill="#fff"/>
<text x="71.4" y="101.58" font-size="7.2" stroke="#1a1a1a" stroke-width="0.1">JJN3</text>
<path d="M264.1 68.53h0.55M274.31 65.86h0.55M263.62 67.2h0.55M271.93 70.69h0.55M264.14 63.52h0.55M272.98 68.82h0.55M276.79 70.35h0.55M269.26 66.58h0.55M281.55 66.53h0.55M266.12 63.98h0.55M270.17 67.84h0.55M268.14 67.21h0.55M270.99 69.48h0.55M274.78 68.03h0.55M261.5 69.51h0.55M263.2 66.89h0.55M262.95 67.41h0.55M266.15 68.04h0.55M284.91 67.25h0.55M273.6 63.43h0.55M268.4 69.39h0.55M269.3 68.51h0.55M270.21 64.38h0.55M272.32 64.96h0.55M278.34 65.88h0.55M272.89 67.41h0.55M274.11 65.59h0.55M274.32 67.03h0.55M275.54 69.27h0.55M270.38 65.06h0.55M273.26 68.8h0.55M277.28 66.27h0.55M272.28 68.92h0.55M271.03 68.03h0.55M270.57 65.6h0.55M265.06 66.21h0.55M272.45 71.93h0.55M274.22 70.56h0.55M273.31 69.5h0.55M270.57 69.71h0.55M277.89 66.42h0.55M266.54 73.28h0.55M270.86 70.31h0.55M273.75 63.99h0.55M280.92 72.73h0.55M270.54 69.66h0.55M270.31 64.75h0.55M269.21 68.52h0.55M274.86 69.53h0.55M270 71.46h0.55M266.23 69.78h0.55M274.85 66.52h0.55M261.49 64.68h0.55M270.82 68.98h0.55M276.85 64.39h0.55M269.74 69.35h0.55M269 60.29h0.55M273.44 74.34h0.55M274.35 64.65h0.55M267.83 68.07h0.55M281.18 69.25h0.55M270.25 72.07h0.55M269.35 72.98h0.55M266.58 65.98h0.55M273.05 71.67h0.55M272.74 68.3h0.55M261.35 65.26h0.55M266.92 65.8h0.55M272.43 66.39h0.55M273.35 67.65h0.55M268.2 67.75h0.55M271.7 69.97h0.55M267.53 66.7h0.55M263.46 72.21h0.55M276.41 66.86h0.55M267.53 63.69h0.55M270.51 68.02h0.55M279.77 68.14h0.55M266.15 60.07h0.55M276.21 67.97h0.55M262.33 67.94h0.55M262.33 77.84h0.55M274.88 69.12h0.55M268.92 60.98h0.55M269.15 62.74h0.55M272.47 60.98h0.55M265.55 71.06h0.55M277.29 63.86h0.55M262.67 70.04h0.55M273.65 64.44h0.55M266.54 65.32h0.55M264.26 65.36h0.55M275.48 69.47h0.55M279.19 67.14h0.55M269.11 64.45h0.55M269.16 63.46h0.55M261.55 69.49h0.55M276.35 69.91h0.55M275.86 68.16h0.55M266.43 67.66h0.55M268.01 64.07h0.55M261.94 62.95h0.55M269.7 67.85h0.55M267.55 71.69h0.55M270.55 69.15h0.55M275.34 64.94h0.55M260.67 69.66h0.55M266.56 71.33h0.55M271.28 70.42h0.55M273.24 61.16h0.55M273.04 65.38h0.55M266.25 66.09h0.55M273.26 70.05h0.55M274.38 62.42h0.55M267.01 60.27h0.55M269.26 69.2h0.55M266.22 68.13h0.55M270.79 70.42h0.55M265.95 64.91h0.55M266.22 72.66h0.55M274.75 67.03h0.55M270.77 67.74h0.55M270.66 66.77h0.55M268.19 63.63h0.55M266.78 72.35h0.55M272.2 67.59h0.55M268.74 67.59h0.55M271.36 65.46h0.55M270.63 68.12h0.55M266.29 65.03h0.55M265.13 64.21h0.55M273.82 60.32h0.55M268.5 65.57h0.55M266.88 67.69h0.55M274.92 67.63h0.55M269.08 65.56h0.55M269.14 70.14h0.55M267.92 63.96h0.55M263.91 64.08h0.55M263.34 70.7h0.55M271.36 66.69h0.55M276.44 65.43h0.55M273.19 69.8h0.55M262.62 62.73h0.55M265.46 70.12h0.55M275.69 63.72h0.55M274.55 66.25h0.55M267.92 65.75h0.55M268.24 61.95h0.55M265.12 63.69h0.55M271.99 73.67h0.55M282.3 66.39h0.55M261.81 66.18h0.55M265.41 73.35h0.55M272.36 65.21h0.55M274.03 69.01h0.55M262.25 65.81h0.55M268.63 67.46h0.55M270.34 66.38h0.55M270.6 65.64h0.55M265.61 71.95h0.55M271.39 68.71h0.55M262.39 66.9h0.55M273.5 63.53h0.55M274.78 66.23h0.55M271.58 67h0.55M270.74 71.01h0.55M267.87 72.09h0.55M266.13 64.6h0.55M273 64.2h0.55M268.03 70.12h0.55M275.3 62.08h0.55M272.06 73.05h0.55M275.23 66.68h0.55M266.97 66.51h0.55M264.43 66.61h0.55M268.87 66.96h0.55M275.17 66.71h0.55M263.02 70.55h0.55M264.8 66.06h0.55M269.11 66.37h0.55M265.12 66.65h0.55M279.78 65.58h0.55M269.1 70.77h0.55M273.16 69.69h0.55M273.7 61.5h0.55M265.76 67.79h0.55M272.02 71.28h0.55M271.89 66.69h0.55M269.91 66.77h0.55M270.87 69.42h0.55M268.17 64.96h0.55M265.8 70.69h0.55M275.62 70.38h0.55M273.67 69.9h0.55M269.72 69.39h0.55M264.89 66.79h0.55M266.35 69.58h0.55M267.06 67.08h0.55M271.57 71.46h0.55M266.09 64.58h0.55M273.49 64.08h0.55M271.81 65.69h0.55M269.24 61.94h0.55M273.01 65.9h0.55M265.6 73.63h0.55M273 77.93h0.55M271.61 66.36h0.55M270.23 72.22h0.55M269.61 68.75h0.55M272.11 64.67h0.55M270.32 65.89h0.55M264 70.02h0.55M272.79 67.62h0.55M265.56 61.38h0.55M271.96 67.11h0.55M261.98 67.22h0.55M262.73 67.32h0.55M270.39 68.46h0.55M270.73 67.91h0.55M264.49 66.25h0.55M267.38 66.69h0.55M270.97 69.26h0.55M277.25 59.69h0.55M271.57 66.8h0.55M280.2 70.2h0.55M262.13 68.6h0.55M267.33 70.38h0.55M264.87 67.09h0.55M269.12 67.11h0.55M267.04 61.89h0.55M271.85 70.4h0.55M269.42 64.35h0.55M270.66 69.1h0.55M268.92 67.36h0.55M276.21 64.04h0.55M267.16 61.68h0.55M266.51 65.18h0.55M265.31 65.32h0.55M278 66.81h0.55M269.2 73.99h0.55M269.45 62.2h0.55M271.58 64.59h0.55M277.27 63.66h0.55M267.06 62.58h0.55M270.18 64.35h0.55M269.43 66.27h0.55M266.91 70.23h0.55M274.03 67.59h0.55M265.59 64.19h0.55M270.97 74.57h0.55M267.63 65.05h0.55M266.52 64.11h0.55M265.26 66.78h0.55M276.33 67.4h0.55M267.38 62.56h0.55M270.71 67.32h0.55M264.09 64.14h0.55M269.54 70.44h0.55M272.61 68.02h0.55M268.24 68.36h0.55M269.67 73.92h0.55M264.52 66.29h0.55M275.56 66.6h0.55M276.28 67.27h0.55M270.4 66.29h0.55M263.38 64.49h0.55M279.92 69.34h0.55M272.52 70.26h0.55M272.35 70.47h0.55M268.51 66.73h0.55M274.26 66.34h0.55M263.61 66.72h0.55M267.22 69.24h0.55M266.42 64.22h0.55M268.2 72.06h0.55M269.51 67.88h0.55M269.77 68.29h0.55M274 71.59h0.55M262.17 71.48h0.55M269.71 66.44h0.55M280.76 66.89h0.55M278.68 70.3h0.55M264.99 68.87h0.55M273.12 67.02h0.55M259.02 66.37h0.55M268.85 64.08h0.55M278.13 66.67h0.55M267.92 66.5h0.55M266.13 65.07h0.55M270.16 68.34h0.55M267.4 67.13h0.55M263.34 68.96h0.55M266.28 68.04h0.55M265.56 65.85h0.55M270.72 63.77h0.55M281.09 67.29h0.55M269.4 65.2h0.55M277.07 71.56h0.55M271.11 63.3h0.55M267.41 69.25h0.55M267.37 63.85h0.55M264.27 65.09h0.55M269.79 65.45h0.55M269.81 75.78h0.55M277.89 64.29h0.55M271.31 67.66h0.55M269.09 70.53h0.55M268.2 66.42h0.55M268.01 67.1h0.55M275.64 69.73h0.55M263.56 66.07h0.55M266.06 69.85h0.55M270.76 70.07h0.55M269.44 61.67h0.55M271.8 68.08h0.55M272.07 63.49h0.55M270.1 65.34h0.55M266.57 68.46h0.55M271.35 64.72h0.55M261.85 59.98h0.55M267.08 70.77h0.55M269.48 60.65h0.55M265.76 68.66h0.55M277.42 70.9h0.55M271.42 67.99h0.55M264.86 66.04h0.55M268.2 65.08h0.55M270.02 66.22h0.55M271.28 71.7h0.55M273.14 68.65h0.55M268.62 62.84h0.55M269.21 69.03h0.55M265.09 71.16h0.55M268.19 68.52h0.55M268.22 63.63h0.55M279.24 63.92h0.55M273.95 65.73h0.55M271.01 64.98h0.55M267.81 70.16h0.55M278.68 64.86h0.55M269.78 70.24h0.55M266.83 69.53h0.55M266.12 69.21h0.55M271.74 71.04h0.55M271.4 63.82h0.55M272.79 64.1h0.55M273.18 71.93h0.55M272.47 65.74h0.55M275.21 67.9h0.55M264 66.34h0.55M276.26 66.49h0.55M270.29 66.37h0.55M261.98 65.87h0.55M271.37 68.02h0.55M268.93 61h0.55M275.35 69.56h0.55M274.44 71.3h0.55M267.68 65.59h0.55M271.18 72.42h0.55M261.98 66.71h0.55M266.44 69.08h0.55M276.47 66.51h0.55M264.02 67.55h0.55M268.42 62.77h0.55M273.8 65.83h0.55M272.87 63.45h0.55M274.77 63.08h0.55M274.57 61.97h0.55M276.08 66.28h0.55M262.57 66.7h0.55M271.28 64.43h0.55M267.46 68.21h0.55M268.95 58.2h0.55M267.75 68.68h0.55M271.1 70.43h0.55M266.55 75.06h0.55M273.41 68.34h0.55M274.72 70.26h0.55M270.2 65.54h0.55M274.44 68.67h0.55M261.03 64.09h0.55M271.88 67.73h0.55M271.02 69.33h0.55M270.4 72.15h0.55M267.02 66.2h0.55M271.21 69.64h0.55M273.35 71.86h0.55M267.54 70.9h0.55M271.88 64.27h0.55M269.1 73.66h0.55M273.34 65.99h0.55M258.7 65.19h0.55M266.5 67.63h0.55M280.36 69.64h0.55M271.17 64.6h0.55M264.27 66.78h0.55M267.58 76.42h0.55M267.87 65.55h0.55M274.92 67.63h0.55M264.05 71.27h0.55M268.29 63.41h0.55M271.21 68.86h0.55M268.18 69.49h0.55M273.51 64.75h0.55M260.27 60.22h0.55M269.14 71.09h0.55M274.34 71.58h0.55M278.27 67.45h0.55M274.59 62.81h0.55M272.9 68.58h0.55M269.3 66.07h0.55M264.6 67.82h0.55M275.61 66.3h0.55M272.17 65.41h0.55M270.9 64.38h0.55M271.47 66.75h0.55M271.18 65.58h0.55M264.32 66.41h0.55M274.5 72.14h0.55M264.73 64.77h0.55M265.37 66.14h0.55M270.19 60.78h0.55M276.53 53.84h0.55M255.69 68.47h0.55M288.44 51.25h0.55M282.66 52.52h0.55M267.13 63.16h0.55M278.99 55.74h0.55M272.33 64.55h0.55M255.93 77.72h0.55M260.93 67.59h0.55M275.25 57.12h0.55M274.6 61.75h0.55M263.63 64.21h0.55M278.78 58.54h0.55M263.78 67.72h0.55M268.18 68.34h0.55M264.69 63.14h0.55M283.48 53.9h0.55M257.18 71.6h0.55M277.47 55.86h0.55M267.23 61.4h0.55M282.44 51.7h0.55M261.44 66.73h0.55M260.38 70.87h0.55M256.96 73.22h0.55M277.59 58.23h0.55M281.43 55.2h0.55M264.23 62.49h0.55M270.25 65.01h0.55M278.65 55.97h0.55M288.39 50.14h0.55M273.04 54.49h0.55M252.63 72.11h0.55M278.15 58.79h0.55M255.74 68.5h0.55M282.82 55.66h0.55M281.91 51.77h0.55M280.09 53.29h0.55M283.74 48.94h0.55M271.22 59.8h0.55M257.47 67.96h0.55M267.48 53.26h0.55M279.57 56.18h0.55M285.64 48.76h0.55M276.25 57.76h0.55M263.16 67.77h0.55M273.82 57.95h0.55M265.94 62.68h0.55M287.71 49.75h0.55M260.04 72.19h0.55M272.59 57.32h0.55M273.42 58.55h0.55M291.73 54.24h0.55M281.72 52.04h0.55M282.14 52.12h0.55M265.12 67.11h0.55M273.46 57.64h0.55M283.66 53.89h0.55M257.84 74.16h0.55M256.07 75.73h0.55M290.82 56.59h0.55M276.21 55.45h0.55M282.06 58.18h0.55M265 59.76h0.55M251.63 70.9h0.55M259.91 66.71h0.55M267.86 63.51h0.55M274.99 60.14h0.55M265 68.9h0.55M272.84 57.16h0.55M256.33 75.52h0.55M280.08 60.11h0.55M278.41 62.84h0.55M268.65 58.37h0.55M279.35 57.74h0.55M280.45 54.41h0.55M284.13 54.04h0.55M268.02 60.14h0.55M275.62 61.3h0.55M271.4 58.24h0.55M270.5 63.84h0.55M254.18 70.85h0.55M281.52 58.27h0.55M273.45 55.87h0.55M279.48 53.45h0.55M257.74 74.6h0.55M256.04 67.38h0.55M268.68 63.91h0.55M254.2 71.13h0.55M260.41 64.23h0.55M263.82 63.86h0.55M256.34 72.7h0.55M287.88 54.32h0.55M283.51 51.16h0.55M269.31 62.96h0.55M278.95 53.06h0.55M274.59 59.76h0.55M281.14 52.97h0.55M253.92 64.37h0.55M251.47 72.47h0.55M262.04 66.2h0.55M256.75 73.81h0.55M285.62 52.2h0.55M265.08 61.79h0.55M275.01 59h0.55M285.19 51.33h0.55M260.99 59.66h0.55M287.68 49.43h0.55M271.09 61.67h0.55M287.19 52.53h0.55M286.07 52.73h0.55M269.49 68.33h0.55M272.31 63.45h0.55M291.23 53.3h0.55M260.18 66.9h0.55M283.67 50.43h0.55M256.89 75.19h0.55M266.68 67.45h0.55M286.91 53.69h0.55M256.4 67h0.55M280.01 58.22h0.55M255.36 70.34h0.55M260.8 66.07h0.55M263.14 71.6h0.55M260.33 68.82h0.55M283.94 57.14h0.55M265.37 60.99h0.55M271.84 54.11h0.55M260.74 65.52h0.55M280.97 61.67h0.55M263.25 65.34h0.55M267.58 59.03h0.55M254.24 71.81h0.55M274.83 57.7h0.55M283.16 55.11h0.55M255.77 70.21h0.55M265.27 70.7h0.55M262.78 64.48h0.55M284.7 50.74h0.55M289.78 51.74h0.55M280.57 55.11h0.55M269.37 65.82h0.55M259.23 67.32h0.55M272.64 57.75h0.55M275.85 54.93h0.55M279.31 51h0.55M283.12 52.08h0.55M273.92 50.29h0.55M259.31 67.94h0.55M282.3 55.54h0.55M264.12 69.88h0.55M270 62.52h0.55M278.65 49.48h0.55M261.02 65.37h0.55M274.51 58.67h0.55M273.81 63.63h0.55M279.47 56.1h0.55M274.9 59.78h0.55M258.23 68.21h0.55M251.57 70.66h0.55M269.67 61.95h0.55M263.39 66.63h0.55M284.74 50.08h0.55M271.22 54.76h0.55M261.48 65.87h0.55M258.57 69.18h0.55M265.53 65.69h0.55M274.55 55.74h0.55M274.51 58.05h0.55M256.87 71.68h0.55M261.98 65.24h0.55M258.15 67.43h0.55M278.48 49.54h0.55M253.95 69.93h0.55M262.29 68.77h0.55M289.27 52.2h0.55M281.04 55.03h0.55M289.05 50.79h0.55M281.43 56.76h0.55M254.53 72.81h0.55M262.04 74.56h0.55M267.39 62.34h0.55M257.6 73.79h0.55M256.91 76.71h0.55M279.56 54.84h0.55M261.92 67.15h0.55M264.5 69.92h0.55M271.76 63.47h0.55M265.25 63.54h0.55M287.41 48.77h0.55M267.96 62.4h0.55M278.21 58.95h0.55M278.86 56.64h0.55M268.5 58.7h0.55M268.8 64.37h0.55M279.85 51.9h0.55M260.81 66.72h0.55M274.24 60.52h0.55M259.77 69.43h0.55M271.64 62.84h0.55M259.92 58.07h0.55M279.5 58.68h0.55M284.35 52.64h0.55M257.34 73.75h0.55M277.34 54.69h0.55M254.38 74.63h0.55M260.02 68.29h0.55M287.54 52.97h0.55M278.82 55.12h0.55M260.6 71.48h0.55M281.45 58.32h0.55M286.8 53.05h0.55M267.79 63.56h0.55M257.3 72.76h0.55M279.86 52.67h0.55M273.89 62.25h0.55M262.84 67.8h0.55M255.7 74.33h0.55M255.8 75.35h0.55M263.16 62.45h0.55M259.3 71.09h0.55M278.54 55.33h0.55M280.01 60.35h0.55M259.17 69.95h0.55M280.21 57.29h0.55M265.84 59.17h0.55M263.99 70.43h0.55M263.62 64.68h0.55M255.35 73.84h0.55M252.19 70.88h0.55M280.55 50.97h0.55M288.09 54.08h0.55M260.53 66.25h0.55M284.31 52.18h0.55M258.82 74.36h0.55M268.68 61.57h0.55M267.93 63.84h0.55M264.24 62.77h0.55M259.26 69.14h0.55M267.26 61.43h0.55M277.47 56.77h0.55M263.59 68.77h0.55M269.78 63.56h0.55M256.7 66.1h0.55M272.23 57.36h0.55M280.13 58.08h0.55M267.12 64.14h0.55M254.9 71.13h0.55M271.83 61.03h0.55M273.18 56.34h0.55M263.12 67.01h0.55M251.61 70.13h0.55M276.79 63.01h0.55M262.63 65.63h0.55M269.67 59.88h0.55M277.13 59.89h0.55M273.85 58.01h0.55M286.81 50.62h0.55M273.51 54.27h0.55M267.4 60.99h0.55M283.48 53.71h0.55M256.73 76.08h0.55M256.93 67.68h0.55M266.68 63.8h0.55M288.26 50.3h0.55M262.78 68.51h0.55M277.83 56.21h0.55M273.25 59.52h0.55M268.07 63.24h0.55M278.74 59.67h0.55M271.82 57.15h0.55M281.36 50.55h0.55M285.99 53.34h0.55M264.5 64.29h0.55M275.55 52.46h0.55M287.64 50.31h0.55M274.97 56.32h0.55M269.88 58.59h0.55M263.41 64.88h0.55M278.94 52.88h0.55M262.43 66.34h0.55M266.34 66.03h0.55M259.74 72.56h0.55M256.07 72.79h0.55M278.97 56.08h0.55M254.71 66.45h0.55M271.85 62.16h0.55M261.62 72.2h0.55M252.47 68.5h0.55M259.91 62.34h0.55M267.74 62.9h0.55M278.99 55.32h0.55M268.16 68.51h0.55M265.97 64.82h0.55M271.72 55.58h0.55M277.13 59.32h0.55M283.12 53.09h0.55M266.52 62.31h0.55M277.58 56.63h0.55M254.18 74.85h0.55M278.7 64.32h0.55M256.67 67.49h0.55M276.03 53.08h0.55M269.17 64.62h0.55M286.73 51.12h0.55M278.9 55.37h0.55M258.96 72.09h0.55M279.89 55.52h0.55M289.25 50.56h0.55M254.76 74.38h0.55M271.55 57.16h0.55M265.06 65.42h0.55M282.55 54.43h0.55M266.71 61.46h0.55M276.16 58.31h0.55M263.14 56.5h0.55M275.44 51.77h0.55M257.94 68.2h0.55M262.89 72.99h0.55M265.16 70.11h0.55M272.32 62.29h0.55M254.41 74.6h0.55M275.38 60.96h0.55M265.42 68.69h0.55M260.3 65.01h0.55M263.24 66.7h0.55M258.07 76.77h0.55M266.27 67.15h0.55M256.8 72.47h0.55M290.02 51.43h0.55M262.19 69.78h0.55M267.26 60.52h0.55M281.6 52.6h0.55M273.76 59.76h0.55M276.08 55.37h0.55M285.46 48.91h0.55M285.74 54.51h0.55M282.87 52.55h0.55M279.5 55.4h0.55M259.98 69.32h0.55M259.06 72.2h0.55M280.99 55.5h0.55M264.68 64.81h0.55M261.2 67.7h0.55M289.07 52.7h0.55M282.3 53.39h0.55M281.42 53.37h0.55M280.26 50.95h0.55M283.28 53.55h0.55M252.14 63.78h0.55M264.22 68.82h0.55M287.58 54h0.55M262.18 67.74h0.55M266.09 60.82h0.55M283.95 55.72h0.55M265.9 62.34h0.55M262.61 64.24h0.55M284.97 50.55h0.55M266.48 65.48h0.55M280.54 55.71h0.55M275.91 63.17h0.55M278.17 56.69h0.55M259.33 70.54h0.55M266.17 63.84h0.55M271.85 60.55h0.55M267.38 61.54h0.55M288.67 52.61h0.55M262.07 69.4h0.55M279.31 53.05h0.55M258.99 73h0.55M287.02 49.51h0.55M259.41 64.35h0.55M261.39 70.62h0.55M261.8 63.53h0.55M261.76 59.65h0.55M257.09 63.95h0.55M262.73 75h0.55M274.57 54.79h0.55M262.95 70.04h0.55M278.14 61.27h0.55M273.97 54.36h0.55M271.09 59.29h0.55M282.73 52.07h0.55M275.81 52.6h0.55M269.55 63.45h0.55M267.89 63.69h0.55M276.4 61.93h0.55M274.47 63.38h0.55M270.28 62.43h0.55M271.71 53.67h0.55M256.83 66.19h0.55M273.28 65.12h0.55M264.91 64.91h0.55M281.39 57.29h0.55M283.94 51.71h0.55M259.9 72.74h0.55M262 66.93h0.55M280.85 49.17h0.55M255.06 71.19h0.55M283.84 51.38h0.55M280.84 51.49h0.55M266.84 56.94h0.55M259.93 67.02h0.55M263.41 65.35h0.55M273.06 58.42h0.55M280.17 51.94h0.55M281.89 53.52h0.55M283.91 52.55h0.55M282.63 54.81h0.55M258.21 72.57h0.55M252.34 69.89h0.55M285.67 56.57h0.55M258.29 71.21h0.55M284.94 54.44h0.55M276.21 58.43h0.55M287.61 48.61h0.55M258.76 64.46h0.55M276.96 51.55h0.55M259.86 66.83h0.55M251.68 71.08h0.55M265.06 63.07h0.55M265.91 69.03h0.55M274.86 57.5h0.55M257.05 68.52h0.55M277.43 54.65h0.55M257.74 70.53h0.55M259.69 66.67h0.55M264.22 60.26h0.55M264.15 64.03h0.55M276.68 58.07h0.55M269.76 63.34h0.55M268.62 59.31h0.55M273.32 62.37h0.55M278.06 54.86h0.55M260.96 65.36h0.55M283.57 50.82h0.55M265.58 67.94h0.55M268.12 58.73h0.55M276.92 60.6h0.55M271.45 64.01h0.55M264.55 66.86h0.55M270.92 63.81h0.55M277.93 55.29h0.55M277.61 56.47h0.55M259.9 72.27h0.55M284.95 51.21h0.55M267.79 66.85h0.55M283.81 54.82h0.55M271.47 56.8h0.55M257.45 71.55h0.55M266.43 63.19h0.55M266.83 62.94h0.55M263.72 60.81h0.55M285.39 51.67h0.55M276.12 57.14h0.55M269.4 59.5h0.55M266.55 67.04h0.55M274.05 51.43h0.55M278.71 59.64h0.55M279.14 56.59h0.55M270.34 61.37h0.55M267.56 61.95h0.55M260.56 66.84h0.55M268.64 64.01h0.55M280.75 56.01h0.55M277.27 57.65h0.55M275.83 57.45h0.55M280.93 51.34h0.55M279.66 55.21h0.55M269.75 60.04h0.55M255.77 76.91h0.55M252.42 71.24h0.55M274.48 62.04h0.55M257.7 70.9h0.55M270.56 58.34h0.55M257.1 68.89h0.55M256.07 70.53h0.55M271.31 59.05h0.55M265.35 70.74h0.55M269.74 64.14h0.55M270.37 62.2h0.55M270.55 54.58h0.55M257.9 71.77h0.55M285.95 55.82h0.55M276.16 65.09h0.55M265.87 59.13h0.55M269.58 63.95h0.55M282.5 53.09h0.55M279.42 54.61h0.55M271.8 58.37h0.55M254.92 74.4h0.55M288.17 50.92h0.55M276.86 57.49h0.55M268.31 61.91h0.55M256.17 58.57h0.55M266.26 59.09h0.55M259.18 57.15h0.55M265.87 58.7h0.55M266.59 57.53h0.55M266.08 58.11h0.55M259.96 58.1h0.55M258.33 60.16h0.55M259.64 57.57h0.55M259.53 59.09h0.55M260.4 58.3h0.55M265.26 58.7h0.55M255.97 57.36h0.55M260.03 58.38h0.55M257.9 59.38h0.55M259 59.16h0.55M261.04 58.81h0.55M261.08 60.25h0.55M255.34 56.43h0.55M255.31 60.04h0.55M262.35 59.53h0.55M262.41 58.37h0.55M259.66 58.17h0.55M262.3 59.9h0.55M259.01 57.4h0.55M264.28 58.62h0.55M255.87 59.24h0.55M258.47 59.02h0.55M264.78 56.83h0.55M260.06 59.49h0.55M258.66 58.42h0.55M267.04 58.22h0.55M265.21 58.19h0.55M265.06 59.37h0.55M264.69 58.39h0.55M264.39 58.33h0.55M255.81 57.7h0.55M266.36 57.71h0.55M262.89 60.91h0.55M264.26 58.93h0.55M262.19 60.23h0.55M260.25 58.66h0.55M263.39 60.82h0.55M256.13 58.37h0.55M264.61 57.05h0.55M259.76 59.21h0.55M260.6 58.14h0.55M259.07 58.79h0.55M264.05 59.05h0.55M265.24 58.82h0.55M263.22 58.13h0.55M256.65 58.45h0.55M258.95 59.83h0.55M266.3 58.23h0.55M257.76 57.53h0.55M265.3 59.23h0.55M256.71 59.39h0.55M255.61 57.79h0.55M260.41 57.52h0.55M266.37 59.64h0.55M261.15 58.23h0.55M264.57 57.68h0.55M256.49 58.57h0.55M262.26 58h0.55M257.66 58.26h0.55M259.43 59.09h0.55M262.33 57.62h0.55M262.12 58.48h0.55M265.34 57.77h0.55M261 59.63h0.55M267 57.87h0.55M258.03 59.96h0.55M258.37 58.44h0.55M258.31 57.3h0.55M256 59.04h0.55M263.83 57.73h0.55M260.42 57.65h0.55M266.94 57.74h0.55M266.15 57.49h0.55M258.01 58.92h0.55M264.27 59.28h0.55M265.4 59.11h0.55M255.65 58.19h0.55M261.85 57.37h0.55M259.23 60.02h0.55M264.41 60.6h0.55M264.9 60.03h0.55M257.85 59.61h0.55M257.62 57.26h0.55M256.68 58.3h0.55M280.32 67.22h0.55M287.22 77.26h0.55M276.69 60.8h0.55M290.01 71.23h0.55M261.11 75.31h0.55M278.47 57.88h0.55M259.89 50.7h0.55M270 57.55h0.55M261.18 57.53h0.55M257.02 64.36h0.55M260.57 58.48h0.55M260.71 65.07h0.55M285.86 54.81h0.55M285.12 75.23h0.55M273.07 66.09h0.55M278.81 65.82h0.55M275.33 77.13h0.55M280.83 57.74h0.55M255.7 77.64h0.55M263.42 73.25h0.55M259.46 63.41h0.55M263.69 71.54h0.55M289.6 64.97h0.55M271.2 60.35h0.55M259.43 78.03h0.55M256.6 77.75h0.55M275.21 52.21h0.55M287.34 53.1h0.55M271.17 53.62h0.55M292.1 59.19h0.55M285.77 51.91h0.55M275.63 52.1h0.55M255.42 66.89h0.55M291.77 70.24h0.55M284.89 73.17h0.55M269.34 52.37h0.55M269.58 55.53h0.55M269.56 60.51h0.55M268.45 55.91h0.55M277.43 62.37h0.55M267.93 52.41h0.55M267.97 66.49h0.55M291.2 66.61h0.55M257.09 58.93h0.55M262.52 70.74h0.55M289.35 78.8h0.55M289.95 77.3h0.55M285.07 77.59h0.55M255.34 64.5h0.55M272.25 70.26h0.55M273.22 68.13h0.55M289.04 52.64h0.55M269.26 78.31h0.55M255.44 53.39h0.55M285.61 78.24h0.55M255.37 51.04h0.55M283.57 70.34h0.55M269.28 67.15h0.55M279.95 73.85h0.55M255.23 52.1h0.55M281.77 78.78h0.55M283.76 62.08h0.55M262.52 60.29h0.55M255.3 72.74h0.55M260.27 67.32h0.55M269.54 59.96h0.55M276.02 63.47h0.55M259.49 76.03h0.55M257.99 54.51h0.55M260.01 64.18h0.55M266.36 76.98h0.55M265.88 78.99h0.55M264.76 78.15h0.55M264.85 81.06h0.55M266.97 76.23h0.55M263.52 76.87h0.55M263.9 79.08h0.55M267.1 78.12h0.55M274.2 76.72h0.55M265.38 76.35h0.55M249.63 79.33h0.55M261.35 76.29h0.55M280.74 79.56h0.55M262.77 75.13h0.55M267.81 79.82h0.55M259.65 79.16h0.55M261.64 75.88h0.55M257.01 77.08h0.55M254.28 74.88h0.55M272.26 74.26h0.55M263.62 74.78h0.55M268.1 74.9h0.55M268.62 80.8h0.55M278.7 75.89h0.55M257.66 80.68h0.55M271.2 78.21h0.55M268.93 74.67h0.55M271.18 77.87h0.55M272.38 77.69h0.55M271.5 75.11h0.55M263.12 75.17h0.55M263.19 82.09h0.55M268.68 74.87h0.55M264.13 74.81h0.55M263.89 75.98h0.55M270.49 76.89h0.55M257.71 75.04h0.55M265.8 78.17h0.55M267.57 74.37h0.55M265.64 75.28h0.55M261.53 79.41h0.55M271.54 75.8h0.55M268.1 76.55h0.55M260.68 75.12h0.55M269.5 82.95h0.55M257.33 75.09h0.55M269.04 77.12h0.55M270.47 81.73h0.55M266.55 74.01h0.55M265.71 77.43h0.55M268.62 74.57h0.55M269.79 78.96h0.55M265.52 74.58h0.55M267.26 80.06h0.55M256.5 73.93h0.55M261.51 74.38h0.55M270.32 74.18h0.55M269.73 74.6h0.55M261 76.18h0.55M256.96 74.73h0.55M262.92 76.9h0.55M271.13 76.98h0.55M258.75 76.07h0.55M260 74.68h0.55M268.98 75.22h0.55M276.04 76.59h0.55M267.87 75.31h0.55M247.93 74.46h0.55M264.35 75.98h0.55M264.5 76.43h0.55M262.19 74.93h0.55M269.87 74.83h0.55M272.73 76.95h0.55M260.83 77.57h0.55M251.66 74.04h0.55M259.4 74.2h0.55M272.26 73.94h0.55M264.29 78.44h0.55M260.71 76.77h0.55M271.17 76.1h0.55M256.69 74.47h0.55M270.01 74.43h0.55M262.87 74.42h0.55M266.58 76.33h0.55M270.34 79.4h0.55M264.85 81.45h0.55M258.91 73.99h0.55M251.6 76.77h0.55M258.36 74.16h0.55M262.32 80.4h0.55M248.27 90.87h0.55M244.24 91.94h0.55M252.91 91.74h0.55M254.07 88.49h0.55M250.82 91.46h0.55M252.56 89.58h0.55M252.45 91.69h0.55M245.48 92.84h0.55M244.65 91.58h0.55M248.4 91.1h0.55M246.03 91.65h0.55M253.98 89.66h0.55M254.29 90.63h0.55M250.57 90.8h0.55M242.76 93.34h0.55M245.58 91.16h0.55M243.83 90.94h0.55M255.02 89.37h0.55M249.95 92.12h0.55M242.05 92.6h0.55M253.38 91.08h0.55M253.46 89.32h0.55M249.2 92.35h0.55M248.12 90.76h0.55M246.61 91.18h0.55M243.48 91.64h0.55M252.37 91.13h0.55M252.08 92.27h0.55M250.95 90.26h0.55M245.05 91.31h0.55M243.85 90.64h0.55M254.42 89.73h0.55M245.86 93.12h0.55M245.3 90.5h0.55M254.56 89.13h0.55M252.07 89.4h0.55M245.9 91.14h0.55M248.06 92.29h0.55M241.73 92.31h0.55M247.85 90.38h0.55M251.65 91h0.55M249.36 91.73h0.55M244.61 91.26h0.55M241.96 91.88h0.55M246.2 89.16h0.55M250.18 90.71h0.55M247.03 90.72h0.55M247.86 91.59h0.55M254.66 91.51h0.55M250.83 91.71h0.55M251.9 89.77h0.55M254.37 90.39h0.55M253.87 90.85h0.55M255.19 91.91h0.55M248.62 91.75h0.55M242.03 93h0.55M243.33 90.81h0.55M251.31 90.79h0.55M251.4 90.36h0.55M250.3 92.47h0.55M251.11 90.1h0.55M242.72 91.79h0.55M247.88 93.03h0.55M242.02 91.04h0.55M242.22 91.39h0.55M247.36 92.63h0.55M243.02 90.46h0.55M251.65 91.52h0.55M246.87 90.48h0.55M249.85 90h0.55M241.88 91.47h0.55M242 91.12h0.55M247.86 91.57h0.55M246.7 91.33h0.55M247.79 92.98h0.55M253.16 92.28h0.55M248.04 90.54h0.55M255 90.38h0.55M242.91 91.31h0.55M253.35 91.49h0.55M248.35 90.42h0.55M253.65 91.36h0.55M244.83 91.77h0.55M247.51 89.88h0.55M246.35 90.4h0.55M245.65 91.74h0.55M249.96 90.45h0.55M252.05 91.38h0.55M247.6 89.41h0.55M247.6 91.54h0.55M246.49 93.28h0.55M252.23 89.49h0.55M246.85 90.58h0.55M245.38 90.07h0.55M251.37 92.26h0.55M250.59 90.65h0.55M247.32 90.89h0.55M252.02 90.44h0.55M248.78 91.98h0.55M251.19 90.92h0.55M241.46 90.28h0.55M244.86 92.17h0.55M249.82 91.27h0.55M255.14 91.68h0.55M243.98 91.72h0.55M249.39 90.97h0.55M252.73 91.4h0.55M249.49 90.36h0.55M251.2 91.13h0.55M249.33 89.65h0.55M244.75 91.09h0.55M248.85 90.05h0.55M255.05 91.82h0.55M245.78 92.53h0.55M251.4 91.7h0.55M249.17 90.92h0.55M248.63 90.63h0.55M249.99 91.11h0.55M253.74 90.48h0.55M252.51 90.31h0.55M247.11 92.02h0.55M247.68 92.2h0.55M248.65 92.34h0.55M254.58 90.75h0.55M246.17 91.34h0.55M245.44 91.01h0.55M250.92 90.42h0.55M246.55 89.73h0.55M245.06 90.69h0.55M241.57 92.47h0.55M246.47 91.02h0.55M245.59 90.93h0.55M253.45 91.51h0.55M243.72 91.19h0.55M242.88 92.89h0.55M251.58 91.82h0.55M244.93 90.01h0.55M241.62 91.69h0.55M252.69 91.33h0.55M251.08 90.55h0.55M251.02 90.07h0.55M244.29 93.01h0.55M247.86 90.84h0.55M252.6 91.83h0.55M249.21 89.09h0.55M244.36 89.75h0.55M244.35 91.06h0.55M254.73 90.46h0.55M246.01 90.44h0.55M252.82 91.28h0.55M274.37 87.17h0.55M262.04 88.6h0.55M269.77 88.93h0.55M273.42 90.76h0.55M259.21 89.14h0.55M270.04 89.04h0.55M255.27 90.26h0.55M272.73 87.32h0.55M266.18 88.23h0.55M255.2 90.12h0.55M262 91.46h0.55M273.2 87.56h0.55M255.61 90.64h0.55M269.56 88.48h0.55M258.11 89.7h0.55M269.53 90.51h0.55M261.32 88.32h0.55M266.58 89h0.55M262.06 88.7h0.55M260.66 90.51h0.55M259.97 91.03h0.55M267.25 88.78h0.55M260.14 91.91h0.55M264.55 90.94h0.55M265.49 87.72h0.55M270.82 91.01h0.55M267.93 87.3h0.55M265.24 87.01h0.55M263.32 87.87h0.55M264.54 90.19h0.55M265.87 86.27h0.55M273.87 87.11h0.55M259.16 91.12h0.55M254.93 90.67h0.55M271.75 87.08h0.55M258.44 89.12h0.55M273.34 88.91h0.55M269.45 86.37h0.55M270.61 86.69h0.55M266.39 89.2h0.55M273.6 91.04h0.55M272.61 87.66h0.55M255.87 90.43h0.55M266.19 92.8h0.55M265.56 87.81h0.55M265.6 91.67h0.55M276.02 91.55h0.55M254.52 92.72h0.55M257.49 88.46h0.55M256.66 91.61h0.55M276.32 104.98h0.55M271.56 100.56h0.55M277.43 96.06h0.55M261.73 93.1h0.55M288.99 98.35h0.55M263.36 92.67h0.55M275.61 89.92h0.55M276.9 97.29h0.55M255.9 87h0.55M279.86 86.86h0.55M257.96 100.55h0.55M267.75 105.45h0.55M276.18 84.03h0.55M279.11 88.06h0.55M285.77 99.6h0.55M283.67 82.93h0.55M256.51 101.45h0.55M260.5 86.54h0.55M256.35 85.59h0.55M272.99 105.45h0.55M267.28 87.98h0.55M286.28 86.11h0.55M279.05 96.88h0.55M290.3 82.59h0.55M276.35 91.07h0.55M286.12 87.81h0.55M282.04 86.13h0.55M273.8 105.71h0.55M264.23 88.47h0.55M289.64 98.36h0.55M257.7 86.16h0.55M264.12 88.75h0.55M286.9 99.01h0.55M291.97 98.24h0.55M278.77 91.08h0.55" stroke="#000" stroke-width="0.55" fill="none" stroke-opacity="0.45"/>
<ellipse cx="271.5" cy="67.9" rx="6.3" ry="3.9" fill="#000" transform="rotate(-8 271.5 67.9)"/>
<ellipse cx="271.5" cy="67.9" rx="7.8" ry="5.0" fill="#000" fill-opacity="0.35" transform="rotate(-8 271.5 67.9)"/>
<rect x="233.5" y="48.1" width="61.5" height="60.4" fill="none" stroke="#b4b4b4" stroke-width="0.9"/>
<line x1="254.5" y1="48.1" x2="254.5" y2="108.5" stroke="#3a3a3a" stroke-width="1"/>
<line x1="233.5" y1="80.5" x2="295" y2="80.5" stroke="#3a3a3a" stroke-width="1"/>
<line x1="236.5" y1="107.5" x2="236.5" y2="108.9" stroke="#888" stroke-width="0.6"/>
<line x1="242" y1="107.5" x2="242" y2="108.9" stroke="#888" stroke-width="0.6"/>
<line x1="253.5" y1="107.5" x2="253.5" y2="108.9" stroke="#888" stroke-width="0.6"/>
<line x1="257.5" y1="107.5" x2="257.5" y2="108.9" stroke="#888" stroke-width="0.6"/>
<line x1="271" y1="107.5" x2="271" y2="108.9" stroke="#888" stroke-width="0.6"/>
<line x1="274.5" y1="107.5" x2="274.5" y2="108.9" stroke="#888" stroke-width="0.6"/>
<line x1="284" y1="107.5" x2="284" y2="108.9" stroke="#888" stroke-width="0.6"/>
<line x1="287.5" y1="107.5" x2="287.5" y2="108.9" stroke="#888" stroke-width="0.6"/>
<line x1="233.1" y1="50.6" x2="234.5" y2="50.6" stroke="#888" stroke-width="0.6"/>
<line x1="233.1" y1="60.1" x2="234.5" y2="60.1" stroke="#888" stroke-width="0.6"/>
<line x1="233.1" y1="65.6" x2="234.5" y2="65.6" stroke="#888" stroke-width="0.6"/>
<line x1="233.1" y1="75.1" x2="234.5" y2="75.1" stroke="#888" stroke-width="0.6"/>
<line x1="233.1" y1="81.1" x2="234.5" y2="81.1" stroke="#888" stroke-width="0.6"/>
<line x1="233.1" y1="91.1" x2="234.5" y2="91.1" stroke="#888" stroke-width="0.6"/>
<line x1="233.1" y1="100.1" x2="234.5" y2="100.1" stroke="#888" stroke-width="0.6"/>
<text x="263.9" y="43.84" font-size="6.5" stroke="#1a1a1a" stroke-width="0.1" text-anchor="middle">MMIS(R)</text>
<text x="243.6" y="57.16" font-size="5.7" stroke="#1a1a1a" stroke-width="0.05" text-anchor="middle">0.38</text>
<text x="267" y="57.16" font-size="5.7" stroke="#1a1a1a" stroke-width="0.05" text-anchor="middle">95.8</text>
<text x="243.6" y="107.76" font-size="5.7" stroke="#1a1a1a" stroke-width="0.05" text-anchor="middle">3.27</text>
<text x="267" y="107.76" font-size="5.7" stroke="#1a1a1a" stroke-width="0.05" text-anchor="middle">0.58</text>
<line x1="231.7" y1="54.4" x2="233.9" y2="54.4" stroke="#333" stroke-width="0.8"/>
<text x="227.2" y="56.6" font-size="6.3" stroke="#1a1a1a" stroke-width="0.04" text-anchor="end">10</text>
<text x="229.3" y="54.1" font-size="3.9" stroke="#1a1a1a" stroke-width="0.03" text-anchor="end">5</text>
<line x1="231.7" y1="69.5" x2="233.9" y2="69.5" stroke="#333" stroke-width="0.8"/>
<text x="227.2" y="71.7" font-size="6.3" stroke="#1a1a1a" stroke-width="0.04" text-anchor="end">10</text>
<text x="229.3" y="69.2" font-size="3.9" stroke="#1a1a1a" stroke-width="0.03" text-anchor="end">4</text>
<line x1="231.7" y1="84.5" x2="233.9" y2="84.5" stroke="#333" stroke-width="0.8"/>
<text x="227.2" y="86.7" font-size="6.3" stroke="#1a1a1a" stroke-width="0.04" text-anchor="end">10</text>
<text x="229.3" y="84.2" font-size="3.9" stroke="#1a1a1a" stroke-width="0.03" text-anchor="end">3</text>
<line x1="231.7" y1="95.3" x2="233.9" y2="95.3" stroke="#333" stroke-width="0.8"/>
<text x="228.2" y="97.5" font-size="6.3" stroke="#1a1a1a" stroke-width="0.04" text-anchor="end">0</text>
<line x1="231.7" y1="105.5" x2="233.9" y2="105.5" stroke="#333" stroke-width="0.8"/>
<text x="227.2" y="107.7" font-size="6.3" stroke="#1a1a1a" stroke-width="0.04" text-anchor="end">-10</text>
<text x="229.3" y="105.2" font-size="3.9" stroke="#1a1a1a" stroke-width="0.03" text-anchor="end">3</text>
<line x1="239.3" y1="108.5" x2="239.3" y2="110.3" stroke="#333" stroke-width="0.7"/>
<text x="240.8" y="118.4" font-size="6.3" stroke="#1a1a1a" stroke-width="0.04" text-anchor="end">-10</text>
<text x="241" y="115.6" font-size="3.9" stroke="#1a1a1a" stroke-width="0.03">3</text>
<line x1="247.1" y1="108.5" x2="247.1" y2="110.3" stroke="#333" stroke-width="0.7"/>
<text x="247.1" y="118.4" font-size="6.3" stroke="#1a1a1a" stroke-width="0.04" text-anchor="middle">0</text>
<line x1="259.5" y1="108.5" x2="259.5" y2="110.3" stroke="#333" stroke-width="0.7"/>
<text x="261" y="118.4" font-size="6.3" stroke="#1a1a1a" stroke-width="0.04" text-anchor="end">10</text>
<text x="261.2" y="115.6" font-size="3.9" stroke="#1a1a1a" stroke-width="0.03">3</text>
<line x1="276.8" y1="108.5" x2="276.8" y2="110.3" stroke="#333" stroke-width="0.7"/>
<text x="278.3" y="118.4" font-size="6.3" stroke="#1a1a1a" stroke-width="0.04" text-anchor="end">10</text>
<text x="278.5" y="115.6" font-size="3.9" stroke="#1a1a1a" stroke-width="0.03">4</text>
<line x1="290.1" y1="108.5" x2="290.1" y2="110.3" stroke="#333" stroke-width="0.7"/>
<text x="291.6" y="118.4" font-size="6.3" stroke="#1a1a1a" stroke-width="0.04" text-anchor="end">10</text>
<text x="291.8" y="115.6" font-size="3.9" stroke="#1a1a1a" stroke-width="0.03">5</text>
<rect x="232.2" y="93.6" width="1.3" height="3" fill="#000"/>
<rect x="245.3" y="108.3" width="3.2" height="1.2" fill="#000"/>
<path d="M359.97 66.97h0.55M374.05 69.01h0.55M358.47 68.79h0.55M355.07 65.15h0.55M360.1 66.01h0.55M361.44 66.74h0.55M348.94 63.27h0.55M353.4 61.15h0.55M357.15 66.49h0.55M362.04 64.68h0.55M356.42 69.21h0.55M361.1 64.19h0.55M364.87 65.43h0.55M363.3 66.46h0.55M355.51 63.49h0.55M356.92 74.91h0.55M354.46 72.23h0.55M363.93 66.18h0.55M362.91 71.77h0.55M356.07 65.73h0.55M362.93 68.52h0.55M367.79 68.78h0.55M351.98 67.26h0.55M351.83 69.78h0.55M360.94 66.11h0.55M353.26 70.23h0.55M355.72 71.26h0.55M352.81 66.54h0.55M354.91 64.14h0.55M370.68 72.7h0.55M354.52 69.91h0.55M348.85 71.36h0.55M362.79 66.34h0.55M355.85 68.19h0.55M359.76 66.28h0.55M353.45 66.6h0.55M355.49 69.89h0.55M357.99 68.17h0.55M349.53 66.22h0.55M355.67 65.79h0.55M357.01 66.48h0.55M350.22 70.39h0.55M362.02 65.81h0.55M360.61 64.5h0.55M351.5 66.8h0.55M365.11 67.13h0.55M350.22 68.22h0.55M354.86 65.2h0.55M359.34 61.97h0.55M348.98 62.88h0.55M362.91 67.8h0.55M354.75 65.35h0.55M360.88 71.45h0.55M354.19 68.35h0.55M369.14 69.44h0.55M356.15 68.6h0.55M358.27 69.65h0.55M359.47 65.99h0.55M357.19 68.74h0.55M354.45 67.78h0.55M353.35 71.46h0.55M365.3 64.82h0.55M361.88 68.1h0.55M358.22 66.77h0.55M359.08 70.73h0.55M351.86 70.76h0.55M356.51 64.11h0.55M357.55 69.57h0.55M357.36 68.5h0.55M356.17 65.88h0.55M362.62 64.63h0.55M362.6 68.63h0.55M356.46 66.87h0.55M356.4 67.46h0.55M357.57 67.13h0.55M348.49 60.96h0.55M359.44 65.6h0.55M355.06 67.05h0.55M352.5 72.41h0.55M357.79 67.03h0.55M352.74 70.34h0.55M361.27 72.22h0.55M362.09 65.04h0.55M351.74 71.84h0.55M354.57 67.24h0.55M357.06 69.14h0.55M360.44 64.36h0.55M354.74 62.18h0.55M360.48 67.08h0.55M349.76 70.81h0.55M357.86 64.44h0.55M355.84 65.76h0.55M358.31 68.22h0.55M355.07 68.91h0.55M345.45 66.52h0.55M360.9 70.54h0.55M361.63 64.35h0.55M349.78 66.53h0.55M368.63 68.4h0.55M354.29 62.39h0.55M358.48 66.18h0.55M360.16 68.16h0.55M346.68 67.19h0.55M361.52 65.73h0.55M352.11 63.98h0.55M351.49 74.32h0.55M364.45 65.67h0.55M364.26 64.27h0.55M355.2 65.24h0.55M356.86 69.57h0.55M367.35 69.81h0.55M357.23 68.03h0.55M356.66 68.68h0.55M353.64 68.31h0.55M359.89 70.45h0.55M353.83 68.83h0.55M359.05 65.03h0.55M348.41 65.82h0.55M361.84 66.66h0.55M368.44 69.25h0.55M354.32 67.21h0.55M359.89 69h0.55M356.6 68.92h0.55M371.65 70.33h0.55M358.49 66.07h0.55M349.32 68.05h0.55M355.79 67.37h0.55M355.13 69.88h0.55M362.76 65.37h0.55M351.25 68.48h0.55M364.21 68.77h0.55M359.97 63.22h0.55M355.11 69.29h0.55M359.43 67.48h0.55M360.38 70.12h0.55M358.1 65.33h0.55M351.09 68.14h0.55M356.89 66.96h0.55M362.89 65.49h0.55M356.41 69.5h0.55M353.53 60.94h0.55M355.11 69.98h0.55M354.86 66.75h0.55M349 71.14h0.55M349.5 65.46h0.55M356.84 73.43h0.55M358.2 65.3h0.55M350.69 66.55h0.55M351.93 65.6h0.55M357.89 71.2h0.55M352.51 71.65h0.55M348.59 73.4h0.55M354.64 66.35h0.55M355.45 68.19h0.55M357.41 66.48h0.55M354.41 65.82h0.55M357.94 65.86h0.55M354.45 63.1h0.55M357.79 68.98h0.55M352.9 70.52h0.55M357.49 67.8h0.55M349.72 69.36h0.55M363.52 73.37h0.55M354.81 67.31h0.55M361.11 69.1h0.55M354.7 67.68h0.55M362.22 69.18h0.55M357.4 70.65h0.55M350.76 68.81h0.55M354.6 66.39h0.55M361.42 72.76h0.55M359.77 67.88h0.55M365.32 69.79h0.55M347.44 65.67h0.55M354.61 65.47h0.55M350.76 69.46h0.55M358.51 72.77h0.55M356.4 67.88h0.55M354.26 70.6h0.55M363.57 72.59h0.55M362.45 65.79h0.55M363.34 64.81h0.55M354.91 66.98h0.55M367.41 65.43h0.55M353.2 68.28h0.55M363.25 69.26h0.55M360.33 65.05h0.55M356 71.41h0.55M358.28 65.64h0.55M356.2 71.61h0.55M365.72 68.82h0.55M354.05 72.59h0.55M354.87 67.91h0.55M359.77 67.58h0.55M357.03 72.44h0.55M359.3 63.32h0.55M355.14 71.55h0.55M357.05 64.55h0.55M362.04 69.05h0.55M358.05 69.31h0.55M356.13 68.15h0.55M360.52 65.94h0.55M363.57 64.48h0.55M367.36 67.84h0.55M359.58 63.99h0.55M361.45 65.13h0.55M360.12 67.67h0.55M354.15 72.9h0.55M358.63 66.08h0.55M356.22 68.58h0.55M358.11 70.17h0.55M355.28 68.28h0.55M355.65 65.53h0.55M361.59 65.21h0.55M350.45 69.59h0.55M355.54 69.31h0.55M360.29 69.15h0.55M358.26 72.27h0.55M353.12 71.11h0.55M357.25 68.53h0.55M355.98 70.22h0.55M360.12 66.33h0.55M358.17 69.1h0.55M357.29 75.02h0.55M360.54 66.51h0.55M362.58 68.47h0.55M355.6 66.66h0.55M350.68 69.93h0.55M364.86 67.44h0.55M354.32 62.56h0.55M352.41 67.68h0.55M355.06 67.21h0.55M354.14 67.21h0.55M356.93 68.22h0.55M358.37 68.25h0.55M354.26 66.84h0.55M352.42 66.18h0.55M357.79 68.96h0.55M351.84 64.84h0.55M355.52 64.08h0.55M356.63 67.08h0.55M354.67 72.45h0.55M355.98 68.38h0.55M349.87 70.11h0.55M359.36 68.24h0.55M348.19 67.46h0.55M354.85 68.84h0.55M357.76 66.07h0.55M355.78 71.29h0.55M362.88 62.57h0.55M355.87 69.5h0.55M356 68.56h0.55M356.42 72.47h0.55M361.15 67.09h0.55M364.31 69.56h0.55M365.52 66.27h0.55M351.05 69.98h0.55M358.03 62.46h0.55M340.49 67.9h0.55M358.18 65.24h0.55M355.73 67.95h0.55M351.55 71.32h0.55M351.94 67.72h0.55M357.89 66.14h0.55M354.32 70.14h0.55M350.55 67.58h0.55M365.16 65.32h0.55M350.83 66.12h0.55M344.45 65.3h0.55M352.45 65.1h0.55M353.72 69.3h0.55M357.92 64.51h0.55M363.64 64.65h0.55M364.45 66.09h0.55M353.55 66.18h0.55M364.26 67.9h0.55M357.59 62.59h0.55M357.6 66.59h0.55M356.03 65.17h0.55M350.44 71.29h0.55M353.26 69.29h0.55M360.29 67.99h0.55M358.32 69.42h0.55M356.11 67.27h0.55M359.19 68.08h0.55M356.27 59.48h0.55M357.53 63.79h0.55M363.02 71.24h0.55M358.79 68.27h0.55M348.39 66.97h0.55M354.12 72.96h0.55M351.61 74.2h0.55M356.87 61.41h0.55M365.97 66.86h0.55M359.37 70.81h0.55M350.45 66.07h0.55M358.3 71.3h0.55M356.91 69.27h0.55M349.64 69.08h0.55M353.47 66.47h0.55M358.19 70.2h0.55M354.58 68.82h0.55M356.29 69.4h0.55M355.65 71.72h0.55M352.97 64.42h0.55M363.58 65.36h0.55M360.73 69.62h0.55M350 66.65h0.55M355.54 67.15h0.55M350.89 68.06h0.55M358.63 64.22h0.55M357.8 68.17h0.55M349.87 67.3h0.55M361.83 69.73h0.55M352.69 65.2h0.55M357.76 68.71h0.55M361.42 67.75h0.55M361.35 65.51h0.55M366.08 66.94h0.55M353.25 65.78h0.55M349.39 65.21h0.55M356.18 68.91h0.55M362.75 64.88h0.55M354.19 69.51h0.55M362.32 69.7h0.55M358.75 63.96h0.55M355.08 62.75h0.55M354.34 71.13h0.55M364.71 66.57h0.55M360.3 71.44h0.55M352.64 63.31h0.55M354.51 61.08h0.55M360.65 67.09h0.55M356.14 67.52h0.55M359.71 67.28h0.55M351.83 69.25h0.55M354.98 68.19h0.55M354.26 67.37h0.55M350.25 67.7h0.55M356.01 70.51h0.55M353.7 64.68h0.55M360.58 61.4h0.55M360.23 67.03h0.55M355.24 67.56h0.55M356.06 64.54h0.55M360.62 64.6h0.55M357.87 66.68h0.55M353.93 65.38h0.55M358.6 66.19h0.55M363.48 69.83h0.55M355.26 70.24h0.55M346.51 72.34h0.55M351.33 63.42h0.55M362.36 62.38h0.55M353.93 68.21h0.55M347.82 66.8h0.55M361.43 65.11h0.55M364.03 64.59h0.55M363.84 68.47h0.55M357.9 66.54h0.55M352.77 70.41h0.55M351.88 67.24h0.55M360.55 68.65h0.55M360.42 65.36h0.55M351.44 67.93h0.55M356.56 70.44h0.55M348.26 67.19h0.55M359.1 65.83h0.55M349.85 67.3h0.55M362.03 65.17h0.55M353.04 64.22h0.55M352.71 61.88h0.55M371.65 66.56h0.55M362.71 70.76h0.55M354.69 68.97h0.55M365.72 71.27h0.55M361.96 65.12h0.55M354.41 67.43h0.55M364.48 65.17h0.55M360.52 70.8h0.55M361.12 67.34h0.55M354.47 69.44h0.55M355.94 68.48h0.55M355.14 65.78h0.55M355.34 64.35h0.55M361.73 63.25h0.55M359.21 66.05h0.55M359.73 62.42h0.55M357.48 67.52h0.55M363.95 70.41h0.55M359.21 67.18h0.55M357.73 70.44h0.55M363.52 69.19h0.55M363.07 62.91h0.55M361.91 73.34h0.55M358.12 65.7h0.55M363.95 61.88h0.55M363.09 63.96h0.55M359.85 64.01h0.55M364.45 67.65h0.55M354.92 67.4h0.55M363.93 72.04h0.55M358.76 66.85h0.55M364.6 67.95h0.55M355.13 73.25h0.55M350.47 68.51h0.55M365.15 68.9h0.55M359.05 70.42h0.55M353.47 67.63h0.55M357.74 70.67h0.55M360.08 67.96h0.55M363.7 71.7h0.55M352.52 75.38h0.55M359.77 66.34h0.55M365.89 60.45h0.55M352.58 68.61h0.55M355.08 64.3h0.55M356.92 72.26h0.55M358.39 70.3h0.55M361.56 67.78h0.55M367.87 54.16h0.55M354.37 63.36h0.55M350.62 65.13h0.55M346.49 66.46h0.55M367.2 54.08h0.55M359.91 49.89h0.55M372.99 48.65h0.55M358.34 65.36h0.55M367.17 55.24h0.55M372.23 49.85h0.55M360.18 53.59h0.55M368.11 55.21h0.55M364.03 53.67h0.55M364.84 55.53h0.55M359.88 59.42h0.55M358.96 55.37h0.55M346.88 71.41h0.55M355.75 52.38h0.55M363.45 53.51h0.55M340.83 68.02h0.55M357.49 58.39h0.55M362.81 55.51h0.55M357.78 58.42h0.55M343.18 63.56h0.55M356.47 59.63h0.55M365 52.79h0.55M350.27 68.6h0.55M345.56 65.3h0.55M365.98 51.73h0.55M355.3 66.35h0.55M341.57 74.59h0.55M349.68 63.87h0.55M363.34 54.69h0.55M360.74 60.72h0.55M367.52 52.02h0.55M351.51 63.11h0.55M370.08 57h0.55M357.66 59.07h0.55M361.73 49.47h0.55M346.55 73.71h0.55M353.25 60.06h0.55M349.44 69.64h0.55M348.85 55.59h0.55M341.01 73.05h0.55M351.35 67.3h0.55M368.42 57.45h0.55M339.91 72.56h0.55M351.72 54.27h0.55M361.36 59.24h0.55M343 59.19h0.55M365.51 57.51h0.55M371.28 52.07h0.55M359.13 53.52h0.55M355.03 59.81h0.55M335.38 64.19h0.55M341.58 65.81h0.55M337.3 66.77h0.55M351.98 57.14h0.55M340.19 66.67h0.55M345.33 62.19h0.55M346.8 64.19h0.55M350.71 60.3h0.55M371.36 49.95h0.55M355.53 59.87h0.55M362.81 56.37h0.55M339.31 67.44h0.55M360.49 59.02h0.55M349.76 69.12h0.55M371.84 55.15h0.55M369.84 52.1h0.55M363.23 58.71h0.55M369.64 55.49h0.55M364.36 61.24h0.55M350.93 59.09h0.55M342.72 67.1h0.55M365.3 49.44h0.55M354.88 60.43h0.55M364.33 52.32h0.55M370.19 53.57h0.55M359.48 50.94h0.55M344.57 65.99h0.55M351.17 66.39h0.55M357.91 54.79h0.55M371.96 54.46h0.55M375.71 53.11h0.55M359.69 57.87h0.55M354.27 60.45h0.55M344.02 59.19h0.55M362.65 58.31h0.55M353.75 65.52h0.55M370.86 57.75h0.55M355.58 55.79h0.55M362.49 52.75h0.55M342.02 64.97h0.55M351.51 68.68h0.55M342.49 67.47h0.55M352.7 63.81h0.55M353.64 63.36h0.55M352.06 67.75h0.55M371.23 50.74h0.55M354.13 57.97h0.55M349.99 66.59h0.55M351.72 64.52h0.55M372.5 53.6h0.55M354.06 65.12h0.55M359.92 54.11h0.55M353.15 55.05h0.55M362.59 61.44h0.55M345.38 65.63h0.55M361.03 60.88h0.55M352.6 62.03h0.55M374.68 51.53h0.55M367.63 58.51h0.55M341.07 63.06h0.55M357.8 58.16h0.55M355.71 55.44h0.55M360.56 55.36h0.55M339.84 68.79h0.55M350.73 67.23h0.55M340.46 71.18h0.55M342.09 67.73h0.55M362.96 53.22h0.55M355.51 63.31h0.55M350.45 55.17h0.55M365.33 58.87h0.55M356.73 64.48h0.55M359.48 52.84h0.55M340.3 72.04h0.55M338.48 70.35h0.55M351.93 63.93h0.55M357.85 61.94h0.55M355.39 56.88h0.55M359.84 49.82h0.55M367.95 50.09h0.55M364.4 55.66h0.55M374.38 50.96h0.55M355.48 65.69h0.55M374.88 52.55h0.55M352.57 63.41h0.55M352.48 62.46h0.55M349.11 64.54h0.55M371.85 49.04h0.55M361 57.05h0.55M365.89 61.72h0.55M347.52 62.97h0.55M354.45 67.23h0.55M353.98 64.26h0.55M344.25 68.58h0.55M352.21 61.79h0.55M348.37 62.47h0.55M339.72 66.07h0.55M361.79 59.51h0.55M358.87 51.79h0.55M366.17 51.96h0.55M372.69 59.13h0.55M356.29 60.01h0.55M373.15 49.25h0.55M338.18 67.08h0.55M342.53 69.08h0.55M340.35 69.94h0.55M361.23 51.66h0.55M339.45 66.99h0.55M371.89 49.71h0.55M359 57.52h0.55M351.28 63.9h0.55M375.38 53.33h0.55M341.31 73.18h0.55M337.78 62.72h0.55M371.69 53.63h0.55M339.55 71.3h0.55M346.79 68.81h0.55M357.01 64.37h0.55M372.21 49.56h0.55M340.64 68.55h0.55M350.71 66.71h0.55M368.65 51.18h0.55M369.26 55.09h0.55M354.33 53.18h0.55M339.91 65.98h0.55M368.59 59.42h0.55M348.37 59.37h0.55M354.19 59.41h0.55M354.13 55.47h0.55M350.11 67.56h0.55M351.7 56.25h0.55M356.76 55.18h0.55M372.87 53.55h0.55M337.91 69.38h0.55M367.1 55.16h0.55M366.73 62.28h0.55M353.91 61.69h0.55M344.74 68.9h0.55M348.63 65.96h0.55M341.6 68.97h0.55M353.63 59.46h0.55M360.67 53.75h0.55M355.97 61.46h0.55M353.29 56.87h0.55M349.37 61.78h0.55M366.11 60.35h0.55M356.84 50.68h0.55M351.94 67.39h0.55M372.89 49.07h0.55M345.28 64.46h0.55M340.29 60.79h0.55M348.73 69.26h0.55M365.88 50.42h0.55M354.92 59.84h0.55M337.88 65.86h0.55M347.7 58.64h0.55M371.8 48.8h0.55M365.23 57.99h0.55M349.21 69.55h0.55M357.18 60.55h0.55M345.46 68.05h0.55M346.93 67.99h0.55M342.12 63.97h0.55M356.87 52.23h0.55M342.82 58.66h0.55M350.55 60.29h0.55M367.92 59.66h0.55M368.86 51.95h0.55M360.53 61.78h0.55M364.64 50.94h0.55M355.46 57.97h0.55M360.06 59.79h0.55M368.79 58.02h0.55M340.49 71.74h0.55M360.81 54.94h0.55M357.74 49.62h0.55M360.79 54.36h0.55M360.7 51.19h0.55M364.05 57.19h0.55M346.77 67.56h0.55M358.77 58.72h0.55M371.6 56.32h0.55M359.81 63.91h0.55M365.58 60.76h0.55M361.07 68.47h0.55M347.46 64.82h0.55M361.55 55.59h0.55M369.16 53.84h0.55M350.19 66.28h0.55M343.61 62.54h0.55M353.03 56.68h0.55M366.49 59.9h0.55M350.84 59.17h0.55M371.28 53.2h0.55M345.41 74.51h0.55M352.77 66.69h0.55M344.6 71h0.55M362.03 59.4h0.55M359.37 63.51h0.55M352.59 67.01h0.55M348.74 70.52h0.55M354.74 68.73h0.55M362.34 51.65h0.55M363.62 59.66h0.55M362.43 49.67h0.55M355.04 64.46h0.55M360.22 59.86h0.55M362.93 56h0.55M345.3 74.32h0.55M372.28 54.57h0.55M372.76 50.02h0.55M358.87 54.73h0.55M358.53 60.69h0.55M361.32 57.91h0.55M350.39 55.17h0.55M339.47 66.58h0.55M345.83 68.96h0.55M352.32 62.27h0.55M358.57 58.04h0.55M347.08 70.24h0.55M367.62 53.57h0.55M358.7 65.19h0.55M360.74 64.91h0.55M340.98 74.34h0.55M370.9 54.56h0.55M355.31 61.1h0.55M360.03 56.09h0.55M358.32 73.23h0.55M346.9 65.57h0.55M357.67 52.77h0.55M372.99 51.71h0.55M368.78 49.28h0.55M372.01 54.48h0.55M369.83 52.84h0.55M352.45 59.92h0.55M370.21 55.07h0.55M337.15 68.82h0.55M361.53 55.85h0.55M367.44 58.84h0.55M344.27 68.99h0.55M357.37 53.53h0.55M361.09 55h0.55M343.72 66.57h0.55M337.8 70.87h0.55M361.41 59.35h0.55M344.12 71.52h0.55M368.16 55.96h0.55M360.67 66.34h0.55M360.55 60.64h0.55M370.54 50.67h0.55M367.13 57.13h0.55M371.73 52.29h0.55M373.43 52.95h0.55M361.34 53.36h0.55M340.55 67.27h0.55M355.6 63.01h0.55M355.63 60.52h0.55M353.29 58.09h0.55M363.69 50.81h0.55M359.41 58.24h0.55M355.19 59.55h0.55M371.19 49.91h0.55M340.82 61.18h0.55M351.02 63.91h0.55M357.82 59.6h0.55M371.04 51.82h0.55M365.54 55.51h0.55M354.73 51.99h0.55M368.56 52.75h0.55M353.73 56.96h0.55M343.04 60.96h0.55M341.24 72.91h0.55M372.22 50.98h0.55M352.19 67.54h0.55M339.03 69.31h0.55M352.91 60.33h0.55M366.18 49.69h0.55M344.56 68.86h0.55M339.97 72.51h0.55M348.09 60.73h0.55M364.09 51.78h0.55M371.75 49.26h0.55M351.15 57.37h0.55M359.01 68.71h0.55M357.26 62.41h0.55M345.78 61.46h0.55M341.55 71.86h0.55M365.43 54.91h0.55M351.08 59.92h0.55M339.87 70.06h0.55M358.7 52.72h0.55M342.33 73h0.55M344 60.23h0.55M369.89 53.6h0.55M370.13 50.27h0.55M340.31 70.41h0.55M338.84 59.65h0.55M357.57 64.4h0.55M341.05 70.63h0.55M357.18 60.44h0.55M363.74 57.65h0.55M348.77 66.93h0.55M354.12 64.3h0.55M360.49 52.25h0.55M362.13 53.36h0.55M348.72 64.28h0.55M341.72 68.13h0.55M358.24 56.63h0.55M344.12 70.01h0.55M357.86 53.94h0.55M356.42 64.17h0.55M363.79 56.79h0.55M365.67 55.32h0.55M355.86 56.93h0.55M341.49 65.59h0.55M367.46 54.46h0.55M345 73.12h0.55M367.43 54.48h0.55M341.07 68.99h0.55M367.54 50.31h0.55M362.08 57.36h0.55M369.86 55.07h0.55M373.67 53.01h0.55M343.7 69.26h0.55M374.04 52.57h0.55M367.77 51.01h0.55M349.05 66.23h0.55M349.27 62.3h0.55M357.84 58.73h0.55M340.67 65.36h0.55M340.72 72.11h0.55M363.34 58.28h0.55M348.39 70.42h0.55M348.88 61.5h0.55M360.28 59.22h0.55M361.21 53.99h0.55M362.98 58.48h0.55M338.46 66.04h0.55M369.52 52.63h0.55M346.01 72.47h0.55M368.1 55.78h0.55M360.41 50.32h0.55M348.57 63.3h0.55M344.24 68.38h0.55M368.12 56.52h0.55M364.85 51.93h0.55M373.17 55.88h0.55M352.7 60.98h0.55M351.77 59.61h0.55M346.33 65.77h0.55M353.92 63.11h0.55M367.28 53.94h0.55M371.42 52.76h0.55M351.78 62.99h0.55M341.13 72.53h0.55M368.51 50.24h0.55M362.54 58.96h0.55M363.95 53.87h0.55M369.79 56.71h0.55M376.01 54.94h0.55M347.53 66.75h0.55M346.86 67.93h0.55M351.95 63.75h0.55M346.14 63.74h0.55M363.03 55.68h0.55M366.32 53h0.55M362.05 54.32h0.55M342.94 73.21h0.55M358.18 65.88h0.55M357.59 59.22h0.55M346.08 68.01h0.55M352.25 68.18h0.55M362.71 49.43h0.55M341.55 65.83h0.55M349.55 70.83h0.55M353.31 59.5h0.55M375.7 52.7h0.55M344.72 69.65h0.55M350.89 64.66h0.55M342.6 73.1h0.55M345.12 66.16h0.55M355.58 58.07h0.55M372.56 49.64h0.55M363.85 53.06h0.55M356.28 52.51h0.55M352.82 63.53h0.55M357.56 56.52h0.55M369.95 51.86h0.55M362.48 61.92h0.55M352.97 57.25h0.55M354.69 67.08h0.55M346.72 72.88h0.55M341.52 68.88h0.55M348.64 67.18h0.55M361.73 52.6h0.55M356.52 67.39h0.55M369.71 52.69h0.55M357.8 55.99h0.55M363.1 56.03h0.55M369.6 52.26h0.55M339.35 71.94h0.55M369.07 53.69h0.55M359.66 52.68h0.55M371.9 49.41h0.55M347.55 67.41h0.55M347.32 62.71h0.55M361.04 51.98h0.55M364.71 57.35h0.55M339.2 67.84h0.55M368.87 54.52h0.55M364.38 50.65h0.55M366.9 54.64h0.55M368.24 59.66h0.55M369.82 53.22h0.55M348.41 62.79h0.55M346.64 61.98h0.55M338.05 65.2h0.55M353.13 60.25h0.55M363.24 58.78h0.55M368.22 59.5h0.55M356.9 59.76h0.55M353.79 61.76h0.55M349.85 67.84h0.55M371.43 50.93h0.55M356.72 57.82h0.55M348.26 61.07h0.55M342.32 63.08h0.55M356.49 57.22h0.55M354.61 58.62h0.55M370.44 49.11h0.55M370.94 54.83h0.55M367.14 60.09h0.55M340.4 71.53h0.55M346.42 58.63h0.55M345.8 65.66h0.55M344.54 67.8h0.55M362.25 52.9h0.55M371.75 52.8h0.55M366.59 52.8h0.55M340.74 71.52h0.55M356.32 55.74h0.55M361.41 58.1h0.55M354.62 56.13h0.55M349.05 58h0.55M356.64 59.96h0.55M363.18 51.14h0.55M356.05 64.32h0.55M359.18 58.34h0.55M338.86 69.35h0.55M347.22 66.2h0.55M360.23 59.77h0.55M352.17 55.63h0.55M344.35 70h0.55M371.08 50.92h0.55M363.85 51.76h0.55M370.47 54.62h0.55M363.98 54.94h0.55M352.03 64.44h0.55M351.08 66.5h0.55M362.45 51.93h0.55M372.57 49.16h0.55M347.47 56.88h0.55M352.28 58.15h0.55M359.75 61.64h0.55M357.21 56.68h0.55M344.79 66.65h0.55M359.2 58.62h0.55M342.24 73.96h0.55M353.3 64.56h0.55M372.11 53.81h0.55M345.77 67.84h0.55M351.38 66.96h0.55M344.86 73.1h0.55M370.04 54.15h0.55M339.02 71.93h0.55M361.48 48.89h0.55M366.72 56.09h0.55M369.41 53.37h0.55M357.83 59.54h0.55M366.92 49.73h0.55M371.45 53.46h0.55M375.96 53.13h0.55M340.92 70.87h0.55M367.86 61.7h0.55M354.16 65.87h0.55M344.07 76.08h0.55M374.81 51.55h0.55M357.3 60.19h0.55M360.74 58.91h0.55M347.14 57.79h0.55M355.67 70.8h0.55M360.01 64.54h0.55M359.13 61.32h0.55M367.84 50.32h0.55M338.75 67.53h0.55M349.86 59.98h0.55M355.45 60.88h0.55M348.57 66.65h0.55M371.04 59.82h0.55M352.88 63.01h0.55M360.99 55.29h0.55M348.7 63.72h0.55M361.73 61.31h0.55M349.89 64.17h0.55M369.59 55.51h0.55M373.13 54.22h0.55M341.57 72.61h0.55M338.57 68.78h0.55M348.61 69.09h0.55M339.77 65.94h0.55M356.39 72.43h0.55M373.48 56.68h0.55M354.06 57.56h0.55M347.9 64.3h0.55M358.47 58.18h0.55M349.81 65.37h0.55M364.57 58.94h0.55M360.57 66.22h0.55M350.74 71.38h0.55M361.18 60.11h0.55M352.38 56.95h0.55M371.64 54.3h0.55M344.97 70.38h0.55M355.98 57.76h0.55M358.94 65.99h0.55M346.31 67.54h0.55M357.79 60.98h0.55M371.67 56.06h0.55M340.17 66.9h0.55M361.46 56.54h0.55M343.99 70.29h0.55M369.61 59.13h0.55M352.56 65.9h0.55M353.64 63.93h0.55M353.73 60.12h0.55M367.59 50.42h0.55M341.52 67.29h0.55M342.4 61.91h0.55M348.93 63.64h0.55M351.87 66.55h0.55M343.68 71.66h0.55M355.63 66.18h0.55M353.45 59.35h0.55M362.75 56.39h0.55M371.28 48.82h0.55M368.96 49.16h0.55M364.67 55.98h0.55M360.66 61.5h0.55M359.01 62.03h0.55M362.64 61.13h0.55M355.59 61.26h0.55M368.19 50.71h0.55M356.24 53.3h0.55M348.34 66.82h0.55M356.28 56.31h0.55M357.04 61.76h0.55M358.25 61.14h0.55M341.92 73.11h0.55M360.08 59.77h0.55M340.37 72.47h0.55M359.47 62.7h0.55M362.78 56.7h0.55M342.68 66.99h0.55M356.55 62.88h0.55M348.8 60.99h0.55M372.71 50.69h0.55M375.94 76.74h0.55M361.58 72.45h0.55M366.03 62.51h0.55M344.71 53.41h0.55M360.05 70.07h0.55M365.1 79.04h0.55M348.21 67.74h0.55M347.65 75.69h0.55M342.76 67.89h0.55M373.14 57.04h0.55M378.89 62.33h0.55M380.09 59.04h0.55M375.05 60.65h0.55M370.65 76.93h0.55M358.79 72.02h0.55M367.07 76.77h0.55M370.16 68.65h0.55M365.47 67.3h0.55M347.06 50.68h0.55M376.14 53.57h0.55M352.62 55.58h0.55M346.34 55.23h0.55M357.42 53.75h0.55M372.69 67.93h0.55M343.91 56.03h0.55M366.51 78.42h0.55M352.09 50.71h0.55M346.98 66.81h0.55M350.66 71.53h0.55M342.63 79.02h0.55M343.06 69.09h0.55M355.83 75.71h0.55M352.85 60.73h0.55M350.11 77.12h0.55M363.78 60.42h0.55M352.47 61.06h0.55M343.36 78.26h0.55M372.47 78.19h0.55M356.3 51.69h0.55M343.21 56.55h0.55M354.71 59.18h0.55M378.27 76.35h0.55M353.42 59.42h0.55M350.53 62.9h0.55M352.93 53h0.55M371.37 71.08h0.55M380.27 58.78h0.55M353.11 73.15h0.55M352.47 76.26h0.55M366.58 58.6h0.55M365.42 63.12h0.55M376.65 56.59h0.55M346.69 59.39h0.55M342.97 53.69h0.55M372.15 66.07h0.55M369.18 72.53h0.55M361.57 61.72h0.55M373.33 59.36h0.55M374.39 52.13h0.55M360.41 78.55h0.55M356.87 60.73h0.55M354.73 62.82h0.55M344.66 62.61h0.55M345.61 64.44h0.55M357.35 66.77h0.55M364.59 50.57h0.55M342.96 60.95h0.55M342.94 72.46h0.55M352.14 76.24h0.55M348.35 74.68h0.55M348.15 78.08h0.55M350.46 74.01h0.55M360.46 75.51h0.55M357.83 77.89h0.55M345.81 74.78h0.55M342.97 74.04h0.55M347.06 74.94h0.55M352.61 77.34h0.55M345.72 74.54h0.55M358.71 75.08h0.55M358.74 75.44h0.55M353.73 78.88h0.55M360.55 74.79h0.55M359.31 76.56h0.55M368.25 76.46h0.55M349.74 76.65h0.55M351.46 75.11h0.55M355.82 79.85h0.55M348.78 79.44h0.55M363.41 77.9h0.55M358.18 78.38h0.55M345.58 73.94h0.55M348.14 74.72h0.55M350.52 74.17h0.55M344.16 75.3h0.55M350.1 80.87h0.55M364.05 79.02h0.55M342.35 77.14h0.55M355.82 75.2h0.55M357.42 76.06h0.55M358.62 74.21h0.55M358.49 76.65h0.55M359.18 76.4h0.55M346.07 77.34h0.55M355.69 76.16h0.55M347.44 76.65h0.55M356.2 77.48h0.55M349.91 77.86h0.55M350.96 74.95h0.55M364.54 76.69h0.55M351.58 78.48h0.55M354.6 76.16h0.55M359.75 75.34h0.55M351.08 75.57h0.55M349.15 82.98h0.55M353.14 75.06h0.55M352.01 79.96h0.55M350.78 76.22h0.55M341.38 76.88h0.55M367.2 74.47h0.55M351.83 76.2h0.55M346.3 74.51h0.55M356.03 75.87h0.55M351.69 76.62h0.55M358.9 75.61h0.55M341.36 74.77h0.55M348.15 78.12h0.55M359.2 77.11h0.55M345.68 76.1h0.55M344.03 76.68h0.55M339.04 76.4h0.55M341.95 78.31h0.55M359.12 78.29h0.55M354.71 78.01h0.55M352 74.51h0.55M355.74 78.28h0.55M350.03 78.25h0.55M355.05 75.12h0.55M350.24 80.34h0.55M365.04 74.11h0.55M351.06 76.44h0.55M354.46 75.32h0.55M356.07 77.53h0.55M352.82 74.16h0.55M355.22 80.03h0.55M353.82 76.67h0.55M357.04 74.35h0.55M355 77.18h0.55M337.57 74.74h0.55M354.55 80.84h0.55M342.63 78.53h0.55M361.35 80.35h0.55M347.16 77.58h0.55M347.39 74.29h0.55M351.4 75.55h0.55M356.99 82.89h0.55M347.18 75.65h0.55M349.03 76.01h0.55M333.59 94.19h0.55M326.53 93.52h0.55M329.2 88.04h0.55M328.76 92.18h0.55M340.72 92.81h0.55M336.24 93.2h0.55M338.57 89.1h0.55M335.61 93.72h0.55M323.11 91.93h0.55M334.39 96.96h0.55M333.41 84.92h0.55M334.24 84.99h0.55M328.33 92.82h0.55M334.71 85.27h0.55M332.42 86.72h0.55M339.34 82.02h0.55M337.2 87.91h0.55M331.97 83.3h0.55M333.96 89.95h0.55M326.56 80.52h0.55M331.19 84.21h0.55M335.67 87.88h0.55M334.96 88.21h0.55M334.33 86.2h0.55M333.14 85.06h0.55M337.88 87.04h0.55M333.27 86.65h0.55M335.42 86.55h0.55M333.34 86h0.55M335.1 89.49h0.55M332.56 88.66h0.55M333.1 89.7h0.55M334.03 92.57h0.55M336.09 93.14h0.55M332.48 92.03h0.55M327.36 89.1h0.55M331.55 88.92h0.55M330.53 84.99h0.55M335.74 92.66h0.55M338.79 88.74h0.55M331.18 93.5h0.55M337.93 91.23h0.55M332.86 88.67h0.55M331.04 88.38h0.55M335.25 86.28h0.55M334.65 91.92h0.55M329.75 85.28h0.55M331.51 83.72h0.55M338.89 88.36h0.55M327.81 95.59h0.55M329.69 89.29h0.55M339.65 88.81h0.55M331.22 87.49h0.55M335.3 87.96h0.55M328.35 86.08h0.55M329.29 90.01h0.55M329.61 85.37h0.55M330.91 91.3h0.55M328.61 88.58h0.55M328.79 94.9h0.55M325.74 79.06h0.55M335.78 94.27h0.55M330.19 86.59h0.55M325.56 88.15h0.55M330.03 87.95h0.55M331.3 94.72h0.55M334.83 89.64h0.55M330.57 84.13h0.55M335.89 85.68h0.55M327.61 96.82h0.55M331.07 93.83h0.55M336.72 90.52h0.55M328.05 89.31h0.55M340.87 90.23h0.55M339.68 87.29h0.55M336.65 81.41h0.55M341.04 87.4h0.55M331.32 89.32h0.55M332.02 89.44h0.55M323.61 88.32h0.55M335.29 86.96h0.55M331.13 86.3h0.55M333.83 86.43h0.55M337.23 91.4h0.55M337.44 87.77h0.55M324.86 88.51h0.55M327.36 85.56h0.55M329.23 87.42h0.55M328.15 89.79h0.55M335.11 90.68h0.55M336.66 92.77h0.55M327.62 89.96h0.55M327.78 92.25h0.55M333.36 87.21h0.55M340.6 90.63h0.55M335.4 99.01h0.55M331.35 91.07h0.55M338.31 89.88h0.55M331.87 87.98h0.55M332.89 87.49h0.55M323.87 89.8h0.55M341.37 90.16h0.55M333.35 85.57h0.55M331.19 87.2h0.55M328.76 79.63h0.55M332.59 89.21h0.55M337.01 89.01h0.55M325.15 78.93h0.55M339.54 84.96h0.55M327.98 84.76h0.55M331.53 87.23h0.55M334.39 85.34h0.55M339.15 96.29h0.55M333.75 87.1h0.55M331.95 88.44h0.55M334.53 85.72h0.55M326.94 90.35h0.55M332.84 87.53h0.55M329.76 86.61h0.55M329.47 94.94h0.55M330.41 83.34h0.55M332.79 92.04h0.55M328.06 88.16h0.55M324.87 89.52h0.55M333.74 90.29h0.55M327.55 88.2h0.55M334.95 86.19h0.55M335.67 88.48h0.55M329.56 89.67h0.55M334.57 90.87h0.55M330.87 90.24h0.55M334.88 94.11h0.55M330.16 95.91h0.55M332.4 89.37h0.55M336.86 94.75h0.55M324.27 85.33h0.55M329.58 89.96h0.55M329.07 90.61h0.55M332.81 79.77h0.55M331.13 82.5h0.55M330.81 92.04h0.55M341.9 88.84h0.55M338.58 85.54h0.55M330.96 91.33h0.55M329.69 87h0.55M330.27 88.93h0.55M336.72 81.31h0.55M330.34 81.48h0.55M337.5 86.88h0.55M339.31 89.78h0.55M329.38 89.84h0.55M332.58 93.14h0.55M335.42 86.26h0.55M329 86.79h0.55M335.51 84.98h0.55M334.57 88.3h0.55M336.63 87.77h0.55M333.84 84.93h0.55M331.16 95.71h0.55M331.09 87.3h0.55M329.22 85.76h0.55M338.03 88.06h0.55M328.01 85.42h0.55M337.64 88.86h0.55M337.88 87.18h0.55M332.91 91.24h0.55M330.85 92.09h0.55M331.89 92.73h0.55M333.99 89.91h0.55M336.95 90.04h0.55M348.84 88.43h0.55M349.74 91.09h0.55M368.23 81.92h0.55M353.59 102.95h0.55M343.83 105.38h0.55M346.34 89.82h0.55M377.78 100.84h0.55M351.83 92.64h0.55M355.15 96h0.55M343.56 100.55h0.55M358.87 103.03h0.55M346.82 85.79h0.55M373.71 98.43h0.55M356.83 98.13h0.55M344.06 87.73h0.55M348.33 105.79h0.55M376.64 104.36h0.55M366.09 106.55h0.55M353.39 89.14h0.55M375.87 102.2h0.55M372.28 99.06h0.55M367.64 82.09h0.55M353.84 90.4h0.55M374.63 88.73h0.55M365.9 98.35h0.55M358.78 91.22h0.55M354.18 92.26h0.55M361.55 86.2h0.55M373.55 87.87h0.55M357.49 82.4h0.55M353.64 98.31h0.55M365.02 102.26h0.55M367.13 89.77h0.55M379.51 101.66h0.55M370.17 104.25h0.55" stroke="#000" stroke-width="0.55" fill="none" stroke-opacity="0.45"/>
<ellipse cx="359.3" cy="67.9" rx="6.3" ry="3.9" fill="#000" transform="rotate(-8 359.3 67.9)"/>
<ellipse cx="359.3" cy="67.9" rx="7.8" ry="5.0" fill="#000" fill-opacity="0.35" transform="rotate(-8 359.3 67.9)"/>
<rect x="321.3" y="48.1" width="61.3" height="60.5" fill="none" stroke="#b4b4b4" stroke-width="0.9"/>
<line x1="341.4" y1="48.1" x2="341.4" y2="108.6" stroke="#3a3a3a" stroke-width="1"/>
<line x1="321.3" y1="80.5" x2="382.6" y2="80.5" stroke="#3a3a3a" stroke-width="1"/>
<line x1="324.3" y1="107.6" x2="324.3" y2="109" stroke="#888" stroke-width="0.6"/>
<line x1="329.8" y1="107.6" x2="329.8" y2="109" stroke="#888" stroke-width="0.6"/>
<line x1="341.3" y1="107.6" x2="341.3" y2="109" stroke="#888" stroke-width="0.6"/>
<line x1="345.3" y1="107.6" x2="345.3" y2="109" stroke="#888" stroke-width="0.6"/>
<line x1="358.8" y1="107.6" x2="358.8" y2="109" stroke="#888" stroke-width="0.6"/>
<line x1="362.3" y1="107.6" x2="362.3" y2="109" stroke="#888" stroke-width="0.6"/>
<line x1="371.8" y1="107.6" x2="371.8" y2="109" stroke="#888" stroke-width="0.6"/>
<line x1="375.3" y1="107.6" x2="375.3" y2="109" stroke="#888" stroke-width="0.6"/>
<line x1="320.9" y1="50.6" x2="322.3" y2="50.6" stroke="#888" stroke-width="0.6"/>
<line x1="320.9" y1="60.1" x2="322.3" y2="60.1" stroke="#888" stroke-width="0.6"/>
<line x1="320.9" y1="65.6" x2="322.3" y2="65.6" stroke="#888" stroke-width="0.6"/>
<line x1="320.9" y1="75.1" x2="322.3" y2="75.1" stroke="#888" stroke-width="0.6"/>
<line x1="320.9" y1="81.1" x2="322.3" y2="81.1" stroke="#888" stroke-width="0.6"/>
<line x1="320.9" y1="91.1" x2="322.3" y2="91.1" stroke="#888" stroke-width="0.6"/>
<line x1="320.9" y1="100.1" x2="322.3" y2="100.1" stroke="#888" stroke-width="0.6"/>
<text x="350.4" y="43.84" font-size="6.5" stroke="#1a1a1a" stroke-width="0.1" text-anchor="middle">H929(R)</text>
<text x="330.1" y="57.16" font-size="5.7" stroke="#1a1a1a" stroke-width="0.05" text-anchor="middle">0.07</text>
<text x="352.8" y="57.16" font-size="5.7" stroke="#1a1a1a" stroke-width="0.05" text-anchor="middle">96.2</text>
<text x="330.1" y="107.76" font-size="5.7" stroke="#1a1a1a" stroke-width="0.05" text-anchor="middle">2.96</text>
<text x="352.8" y="107.76" font-size="5.7" stroke="#1a1a1a" stroke-width="0.05" text-anchor="middle">0.77</text>
<line x1="319.5" y1="54.4" x2="321.7" y2="54.4" stroke="#333" stroke-width="0.8"/>
<text x="315" y="56.6" font-size="6.3" stroke="#1a1a1a" stroke-width="0.04" text-anchor="end">10</text>
<text x="317.1" y="54.1" font-size="3.9" stroke="#1a1a1a" stroke-width="0.03" text-anchor="end">5</text>
<line x1="319.5" y1="69.5" x2="321.7" y2="69.5" stroke="#333" stroke-width="0.8"/>
<text x="315" y="71.7" font-size="6.3" stroke="#1a1a1a" stroke-width="0.04" text-anchor="end">10</text>
<text x="317.1" y="69.2" font-size="3.9" stroke="#1a1a1a" stroke-width="0.03" text-anchor="end">4</text>
<line x1="319.5" y1="84.5" x2="321.7" y2="84.5" stroke="#333" stroke-width="0.8"/>
<text x="315" y="86.7" font-size="6.3" stroke="#1a1a1a" stroke-width="0.04" text-anchor="end">10</text>
<text x="317.1" y="84.2" font-size="3.9" stroke="#1a1a1a" stroke-width="0.03" text-anchor="end">3</text>
<line x1="319.5" y1="95.3" x2="321.7" y2="95.3" stroke="#333" stroke-width="0.8"/>
<text x="316" y="97.5" font-size="6.3" stroke="#1a1a1a" stroke-width="0.04" text-anchor="end">0</text>
<line x1="319.5" y1="105.5" x2="321.7" y2="105.5" stroke="#333" stroke-width="0.8"/>
<text x="315" y="107.7" font-size="6.3" stroke="#1a1a1a" stroke-width="0.04" text-anchor="end">-10</text>
<text x="317.1" y="105.2" font-size="3.9" stroke="#1a1a1a" stroke-width="0.03" text-anchor="end">3</text>
<line x1="327.1" y1="108.6" x2="327.1" y2="110.4" stroke="#333" stroke-width="0.7"/>
<text x="328.6" y="118.4" font-size="6.3" stroke="#1a1a1a" stroke-width="0.04" text-anchor="end">-10</text>
<text x="328.8" y="115.6" font-size="3.9" stroke="#1a1a1a" stroke-width="0.03">3</text>
<line x1="334.9" y1="108.6" x2="334.9" y2="110.4" stroke="#333" stroke-width="0.7"/>
<text x="334.9" y="118.4" font-size="6.3" stroke="#1a1a1a" stroke-width="0.04" text-anchor="middle">0</text>
<line x1="347.3" y1="108.6" x2="347.3" y2="110.4" stroke="#333" stroke-width="0.7"/>
<text x="348.8" y="118.4" font-size="6.3" stroke="#1a1a1a" stroke-width="0.04" text-anchor="end">10</text>
<text x="349" y="115.6" font-size="3.9" stroke="#1a1a1a" stroke-width="0.03">3</text>
<line x1="364.6" y1="108.6" x2="364.6" y2="110.4" stroke="#333" stroke-width="0.7"/>
<text x="366.1" y="118.4" font-size="6.3" stroke="#1a1a1a" stroke-width="0.04" text-anchor="end">10</text>
<text x="366.3" y="115.6" font-size="3.9" stroke="#1a1a1a" stroke-width="0.03">4</text>
<line x1="377.9" y1="108.6" x2="377.9" y2="110.4" stroke="#333" stroke-width="0.7"/>
<text x="379.4" y="118.4" font-size="6.3" stroke="#1a1a1a" stroke-width="0.04" text-anchor="end">10</text>
<text x="379.6" y="115.6" font-size="3.9" stroke="#1a1a1a" stroke-width="0.03">5</text>
<rect x="320" y="93.6" width="1.3" height="3" fill="#000"/>
<rect x="333.1" y="108.4" width="3.2" height="1.2" fill="#000"/>
<line x1="215.2" y1="125.2" x2="215.2" y2="58.5" stroke="#222" stroke-width="0.9"/>
<path d="M215.2 55.4L217.3 59.9L213.1 59.9Z" stroke="#000" stroke-width="0.3" fill="#000"/>
<line x1="215.2" y1="125.2" x2="313.5" y2="125.2" stroke="#222" stroke-width="0.9"/>
<path d="M316.6 125.2L311.9 123.2L311.9 127.2Z" stroke="#000" stroke-width="0.3" fill="#000"/>
<text x="210.03" y="90" font-size="9.4" stroke="#1a1a1a" stroke-width="0.3" text-anchor="middle" textLength="44.8" lengthAdjust="spacingAndGlyphs" transform="rotate(-90 210.03 90)">Live/dead aqua</text>
<text x="321.4" y="127.9" font-size="9.8" font-weight="bold" textLength="29.3" lengthAdjust="spacingAndGlyphs">Annexin V</text>
<line x1="436.2" y1="48.8" x2="436.2" y2="109.8" stroke="#1a1a1a" stroke-width="1.1"/>
<line x1="435.7" y1="109.3" x2="512.7" y2="109.3" stroke="#1a1a1a" stroke-width="1.1"/>
<line x1="433.6" y1="109.3" x2="436.2" y2="109.3" stroke="#1a1a1a" stroke-width="0.9"/>
<text x="431.4" y="112.05" font-size="8" stroke="#1a1a1a" stroke-width="0.1" text-anchor="end">0</text>
<line x1="433.6" y1="95.5" x2="436.2" y2="95.5" stroke="#1a1a1a" stroke-width="0.9"/>
<text x="431.4" y="98.25" font-size="8" stroke="#1a1a1a" stroke-width="0.1" text-anchor="end">25</text>
<line x1="433.6" y1="81.7" x2="436.2" y2="81.7" stroke="#1a1a1a" stroke-width="0.9"/>
<text x="431.4" y="84.45" font-size="8" stroke="#1a1a1a" stroke-width="0.1" text-anchor="end">50</text>
<line x1="433.6" y1="67.9" x2="436.2" y2="67.9" stroke="#1a1a1a" stroke-width="0.9"/>
<text x="431.4" y="70.65" font-size="8" stroke="#1a1a1a" stroke-width="0.1" text-anchor="end">75</text>
<line x1="433.6" y1="54.1" x2="436.2" y2="54.1" stroke="#1a1a1a" stroke-width="0.9"/>
<text x="431.4" y="56.85" font-size="8" stroke="#1a1a1a" stroke-width="0.1" text-anchor="end">100</text>
<line x1="454.2" y1="109.3" x2="454.2" y2="111.9" stroke="#1a1a1a" stroke-width="0.9"/>
<line x1="493.2" y1="109.3" x2="493.2" y2="111.9" stroke="#1a1a1a" stroke-width="0.9"/>
<rect x="442.8" y="105.99" width="12.2" height="3.31" fill="#a8062d"/>
<line x1="448.9" y1="104.61" x2="448.9" y2="105.99" stroke="#1a1a1a" stroke-width="0.9"/>
<line x1="446.7" y1="104.61" x2="451.1" y2="104.61" stroke="#1a1a1a" stroke-width="0.9"/>
<rect x="456.2" y="59.47" width="11.1" height="49.83" fill="#2c4777" stroke="#1c3467" stroke-width="0.8"/>
<line x1="461.75" y1="57.41" x2="461.75" y2="59.07" stroke="#1a1a1a" stroke-width="0.9"/>
<line x1="459.55" y1="57.41" x2="463.95" y2="57.41" stroke="#1a1a1a" stroke-width="0.9"/>
<rect x="480.8" y="107.09" width="12.2" height="2.21" fill="#a8062d"/>
<line x1="486.9" y1="105.71" x2="486.9" y2="107.09" stroke="#1a1a1a" stroke-width="0.9"/>
<line x1="484.7" y1="105.71" x2="489.1" y2="105.71" stroke="#1a1a1a" stroke-width="0.9"/>
<rect x="494.2" y="66.64" width="11.2" height="42.66" fill="#2c4777" stroke="#1c3467" stroke-width="0.8"/>
<line x1="499.8" y1="61.83" x2="499.8" y2="66.24" stroke="#1a1a1a" stroke-width="0.9"/>
<line x1="497.6" y1="61.83" x2="502" y2="61.83" stroke="#1a1a1a" stroke-width="0.9"/>
<line x1="445.6" y1="55.2" x2="461" y2="55.2" stroke="#1a1a1a" stroke-width="1.1"/>
<line x1="483.1" y1="55.2" x2="498.1" y2="55.2" stroke="#1a1a1a" stroke-width="1.1"/>
<ellipse cx="448.1" cy="50.3" rx="1.21" ry="1.1" fill="#111"/>
<ellipse cx="451.5" cy="50.3" rx="1.21" ry="1.1" fill="#111"/>
<ellipse cx="454.9" cy="50.3" rx="1.21" ry="1.1" fill="#111"/>
<ellipse cx="458.3" cy="50.3" rx="1.21" ry="1.1" fill="#111"/>
<ellipse cx="485.2" cy="50.3" rx="1.21" ry="1.1" fill="#111"/>
<ellipse cx="488.6" cy="50.3" rx="1.21" ry="1.1" fill="#111"/>
<ellipse cx="492" cy="50.3" rx="1.21" ry="1.1" fill="#111"/>
<ellipse cx="495.4" cy="50.3" rx="1.21" ry="1.1" fill="#111"/>
<rect x="444.5" y="37.5" width="6" height="5.8" fill="#a8062d"/>
<text x="453.7" y="42.88" font-size="7.2" stroke="#1a1a1a" stroke-width="0.1">ctrl</text>
<rect x="466.2" y="37.5" width="5.7" height="5.8" fill="#2c4777"/>
<text x="475" y="42.88" font-size="7.2" stroke="#1a1a1a" stroke-width="0.1" textLength="28" lengthAdjust="spacingAndGlyphs">AMG 701</text>
<text x="399.96" y="78.5" font-size="9.2" stroke="#1a1a1a" stroke-width="0.3" text-anchor="middle" textLength="48.7" lengthAdjust="spacingAndGlyphs" transform="rotate(-90 399.96 78.5)">% annexin V+ in</text>
<text x="410.76" y="78.8" font-size="9.2" stroke="#1a1a1a" stroke-width="0.3" text-anchor="middle" textLength="40" lengthAdjust="spacingAndGlyphs" transform="rotate(-90 410.76 78.8)">CD138+ cells</text>
<text x="455" y="122.31" font-size="7.6" stroke="#1a1a1a" stroke-width="0.1" text-anchor="middle" textLength="33.2" lengthAdjust="spacingAndGlyphs">MM1S(R)</text>
<text x="493.4" y="122.31" font-size="7.6" stroke="#1a1a1a" stroke-width="0.1" text-anchor="middle" textLength="29.1" lengthAdjust="spacingAndGlyphs">H929(R)</text>
<text x="453.9" y="135.5" font-size="8.8" font-weight="bold" textLength="41.5" lengthAdjust="spacingAndGlyphs">R: resistant to</text>
<text x="449" y="146.1" font-size="8.8" font-weight="bold" textLength="51" lengthAdjust="spacingAndGlyphs">both len and pom</text>
<line x1="51.8" y1="205.5" x2="51.8" y2="294.4" stroke="#1a1a1a" stroke-width="1.1"/>
<line x1="51.3" y1="293.9" x2="159.5" y2="293.9" stroke="#1a1a1a" stroke-width="1.1"/>
<line x1="49.2" y1="293.9" x2="51.8" y2="293.9" stroke="#1a1a1a" stroke-width="0.9"/>
<text x="46" y="296.65" font-size="8" stroke="#1a1a1a" stroke-width="0.1" text-anchor="end">0</text>
<line x1="49.2" y1="276.9" x2="51.8" y2="276.9" stroke="#1a1a1a" stroke-width="0.9"/>
<text x="46" y="279.65" font-size="8" stroke="#1a1a1a" stroke-width="0.1" text-anchor="end">5</text>
<line x1="49.2" y1="259.9" x2="51.8" y2="259.9" stroke="#1a1a1a" stroke-width="0.9"/>
<text x="46" y="262.65" font-size="8" stroke="#1a1a1a" stroke-width="0.1" text-anchor="end">10</text>
<line x1="49.2" y1="242.9" x2="51.8" y2="242.9" stroke="#1a1a1a" stroke-width="0.9"/>
<text x="46" y="245.65" font-size="8" stroke="#1a1a1a" stroke-width="0.1" text-anchor="end">15</text>
<line x1="49.2" y1="225.9" x2="51.8" y2="225.9" stroke="#1a1a1a" stroke-width="0.9"/>
<text x="46" y="228.65" font-size="8" stroke="#1a1a1a" stroke-width="0.1" text-anchor="end">20</text>
<line x1="49.2" y1="208.9" x2="51.8" y2="208.9" stroke="#1a1a1a" stroke-width="0.9"/>
<text x="46" y="211.65" font-size="8" stroke="#1a1a1a" stroke-width="0.1" text-anchor="end">25</text>
<line x1="65.3" y1="293.9" x2="65.3" y2="296.3" stroke="#1a1a1a" stroke-width="0.9"/>
<text x="65.3" y="306.75" font-size="8" stroke="#1a1a1a" stroke-width="0.1" text-anchor="middle">0</text>
<rect x="56.9" y="290.84" width="8" height="3.06" fill="#a8062d"/>
<line x1="60.9" y1="290.16" x2="60.9" y2="290.84" stroke="#1a1a1a" stroke-width="0.9"/>
<line x1="58.7" y1="290.16" x2="63.1" y2="290.16" stroke="#1a1a1a" stroke-width="0.9"/>
<rect x="66.2" y="289.54" width="7.3" height="4.36" fill="#2c4777" stroke="#1c3467" stroke-width="0.8"/>
<line x1="69.85" y1="287.1" x2="69.85" y2="289.14" stroke="#1a1a1a" stroke-width="0.9"/>
<line x1="67.65" y1="287.1" x2="72.05" y2="287.1" stroke="#1a1a1a" stroke-width="0.9"/>
<line x1="91.97" y1="293.9" x2="91.97" y2="296.3" stroke="#1a1a1a" stroke-width="0.9"/>
<text x="91.97" y="306.75" font-size="8" stroke="#1a1a1a" stroke-width="0.1" text-anchor="middle">23.4</text>
<rect x="83.57" y="275.88" width="8" height="18.02" fill="#a8062d"/>
<line x1="87.57" y1="274.52" x2="87.57" y2="275.88" stroke="#1a1a1a" stroke-width="0.9"/>
<line x1="85.37" y1="274.52" x2="89.77" y2="274.52" stroke="#1a1a1a" stroke-width="0.9"/>
<rect x="92.87" y="254.18" width="7.3" height="39.72" fill="#2c4777" stroke="#1c3467" stroke-width="0.8"/>
<line x1="96.52" y1="253.1" x2="96.52" y2="253.78" stroke="#1a1a1a" stroke-width="0.9"/>
<line x1="94.32" y1="253.1" x2="98.72" y2="253.1" stroke="#1a1a1a" stroke-width="0.9"/>
<line x1="118.64" y1="293.9" x2="118.64" y2="296.3" stroke="#1a1a1a" stroke-width="0.9"/>
<text x="118.64" y="306.75" font-size="8" stroke="#1a1a1a" stroke-width="0.1" text-anchor="middle">46.7</text>
<rect x="110.24" y="272.14" width="8" height="21.76" fill="#a8062d"/>
<line x1="114.24" y1="267.38" x2="114.24" y2="272.14" stroke="#1a1a1a" stroke-width="0.9"/>
<line x1="112.04" y1="267.38" x2="116.44" y2="267.38" stroke="#1a1a1a" stroke-width="0.9"/>
<rect x="119.54" y="245" width="7.3" height="48.9" fill="#2c4777" stroke="#1c3467" stroke-width="0.8"/>
<line x1="123.19" y1="241.2" x2="123.19" y2="244.6" stroke="#1a1a1a" stroke-width="0.9"/>
<line x1="120.99" y1="241.2" x2="125.39" y2="241.2" stroke="#1a1a1a" stroke-width="0.9"/>
<line x1="145.31" y1="293.9" x2="145.31" y2="296.3" stroke="#1a1a1a" stroke-width="0.9"/>
<text x="145.31" y="306.75" font-size="8" stroke="#1a1a1a" stroke-width="0.1" text-anchor="middle">93.4</text>
<rect x="136.91" y="265.68" width="8" height="28.22" fill="#a8062d"/>
<line x1="140.91" y1="263.64" x2="140.91" y2="265.68" stroke="#1a1a1a" stroke-width="0.9"/>
<line x1="138.71" y1="263.64" x2="143.11" y2="263.64" stroke="#1a1a1a" stroke-width="0.9"/>
<rect x="146.21" y="229.7" width="7.3" height="64.2" fill="#2c4777" stroke="#1c3467" stroke-width="0.8"/>
<line x1="149.86" y1="226.24" x2="149.86" y2="229.3" stroke="#1a1a1a" stroke-width="0.9"/>
<line x1="147.66" y1="226.24" x2="152.06" y2="226.24" stroke="#1a1a1a" stroke-width="0.9"/>
<rect x="80.7" y="193.5" width="5.8" height="5.8" fill="#a8062d"/>
<text x="89.7" y="199.01" font-size="7.6" stroke="#1a1a1a" stroke-width="0.1" textLength="13.5" lengthAdjust="spacingAndGlyphs">CD4</text>
<rect x="107.2" y="193.5" width="5.8" height="5.8" fill="#2c4777"/>
<text x="116.5" y="199.01" font-size="7.6" stroke="#1a1a1a" stroke-width="0.1" textLength="13.3" lengthAdjust="spacingAndGlyphs">CD8</text>
<line x1="70.3" y1="220.8" x2="149.7" y2="220.8" stroke="#1a1a1a" stroke-width="1"/>
<line x1="70.3" y1="220.3" x2="70.3" y2="224.9" stroke="#1a1a1a" stroke-width="1"/>
<line x1="149.7" y1="220.3" x2="149.7" y2="224.9" stroke="#1a1a1a" stroke-width="1"/>
<line x1="95.5" y1="220.8" x2="95.5" y2="223.5" stroke="#1a1a1a" stroke-width="1"/>
<line x1="123.8" y1="220.8" x2="123.8" y2="223.5" stroke="#1a1a1a" stroke-width="1"/>
<ellipse cx="92.3" cy="216.7" rx="0.99" ry="0.9" fill="#111"/>
<ellipse cx="94.9" cy="216.7" rx="0.99" ry="0.9" fill="#111"/>
<ellipse cx="97.5" cy="216.7" rx="0.99" ry="0.9" fill="#111"/>
<ellipse cx="100.1" cy="216.7" rx="0.99" ry="0.9" fill="#111"/>
<ellipse cx="119.9" cy="216.7" rx="0.99" ry="0.9" fill="#111"/>
<ellipse cx="122.5" cy="216.7" rx="0.99" ry="0.9" fill="#111"/>
<ellipse cx="125.1" cy="216.7" rx="0.99" ry="0.9" fill="#111"/>
<ellipse cx="127.7" cy="216.7" rx="0.99" ry="0.9" fill="#111"/>
<ellipse cx="146.1" cy="216.7" rx="0.99" ry="0.9" fill="#111"/>
<ellipse cx="148.7" cy="216.7" rx="0.99" ry="0.9" fill="#111"/>
<ellipse cx="151.3" cy="216.7" rx="0.99" ry="0.9" fill="#111"/>
<ellipse cx="153.9" cy="216.7" rx="0.99" ry="0.9" fill="#111"/>
<line x1="60.4" y1="236.2" x2="140" y2="236.2" stroke="#1a1a1a" stroke-width="1"/>
<line x1="60.4" y1="235.7" x2="60.4" y2="240.3" stroke="#1a1a1a" stroke-width="1"/>
<line x1="140" y1="235.7" x2="140" y2="240.3" stroke="#1a1a1a" stroke-width="1"/>
<line x1="86.2" y1="236.2" x2="86.2" y2="238.9" stroke="#1a1a1a" stroke-width="1"/>
<line x1="114.6" y1="236.2" x2="114.6" y2="238.9" stroke="#1a1a1a" stroke-width="1"/>
<ellipse cx="83" cy="232.1" rx="0.99" ry="0.9" fill="#111"/>
<ellipse cx="85.6" cy="232.1" rx="0.99" ry="0.9" fill="#111"/>
<ellipse cx="88.2" cy="232.1" rx="0.99" ry="0.9" fill="#111"/>
<ellipse cx="90.8" cy="232.1" rx="0.99" ry="0.9" fill="#111"/>
<ellipse cx="113.3" cy="232.1" rx="0.99" ry="0.9" fill="#111"/>
<ellipse cx="115.9" cy="232.1" rx="0.99" ry="0.9" fill="#111"/>
<ellipse cx="133.8" cy="232.1" rx="0.99" ry="0.9" fill="#111"/>
<ellipse cx="136.4" cy="232.1" rx="0.99" ry="0.9" fill="#111"/>
<ellipse cx="139" cy="232.1" rx="0.99" ry="0.9" fill="#111"/>
<ellipse cx="141.6" cy="232.1" rx="0.99" ry="0.9" fill="#111"/>
<text x="26.9" y="249.3" font-size="9" stroke="#1a1a1a" stroke-width="0.45" text-anchor="middle" textLength="45" lengthAdjust="spacingAndGlyphs" transform="rotate(-90 26.9 249.3)">CD107a+ T (%)</text>
<text x="105.4" y="320.36" font-size="8.6" text-anchor="middle" font-weight="bold" textLength="44" lengthAdjust="spacingAndGlyphs">AMG 701 (pM)</text>
<line x1="225.6" y1="205.7" x2="225.6" y2="294.3" stroke="#1a1a1a" stroke-width="1.1"/>
<line x1="225.1" y1="293.8" x2="333.8" y2="293.8" stroke="#1a1a1a" stroke-width="1.1"/>
<line x1="223" y1="293.8" x2="225.6" y2="293.8" stroke="#1a1a1a" stroke-width="0.9"/>
<text x="219.6" y="296.55" font-size="8" stroke="#1a1a1a" stroke-width="0.1" text-anchor="end">0</text>
<line x1="223" y1="265.2" x2="225.6" y2="265.2" stroke="#1a1a1a" stroke-width="0.9"/>
<text x="219.6" y="267.95" font-size="8" stroke="#1a1a1a" stroke-width="0.1" text-anchor="end">2</text>
<line x1="223" y1="236.6" x2="225.6" y2="236.6" stroke="#1a1a1a" stroke-width="0.9"/>
<text x="219.6" y="239.35" font-size="8" stroke="#1a1a1a" stroke-width="0.1" text-anchor="end">4</text>
<line x1="223" y1="208" x2="225.6" y2="208" stroke="#1a1a1a" stroke-width="0.9"/>
<text x="219.6" y="210.75" font-size="8" stroke="#1a1a1a" stroke-width="0.1" text-anchor="end">6</text>
<line x1="239.8" y1="293.8" x2="239.8" y2="296.2" stroke="#1a1a1a" stroke-width="0.9"/>
<text x="239.8" y="306.75" font-size="8" stroke="#1a1a1a" stroke-width="0.1" text-anchor="middle">0</text>
<rect x="231.4" y="293.09" width="8" height="0.71" fill="#a8062d"/>
<rect x="240.7" y="278.47" width="7.3" height="15.33" fill="#2c4777" stroke="#1c3467" stroke-width="0.8"/>
<line x1="244.35" y1="275.21" x2="244.35" y2="278.07" stroke="#1a1a1a" stroke-width="0.9"/>
<line x1="242.15" y1="275.21" x2="246.55" y2="275.21" stroke="#1a1a1a" stroke-width="0.9"/>
<line x1="266.6" y1="293.8" x2="266.6" y2="296.2" stroke="#1a1a1a" stroke-width="0.9"/>
<text x="266.6" y="306.75" font-size="8" stroke="#1a1a1a" stroke-width="0.1" text-anchor="middle">23.4</text>
<rect x="258.2" y="292.08" width="8" height="1.72" fill="#a8062d"/>
<line x1="262.2" y1="290.65" x2="262.2" y2="292.08" stroke="#1a1a1a" stroke-width="0.9"/>
<line x1="260" y1="290.65" x2="264.4" y2="290.65" stroke="#1a1a1a" stroke-width="0.9"/>
<rect x="267.5" y="271.32" width="7.3" height="22.48" fill="#2c4777" stroke="#1c3467" stroke-width="0.8"/>
<line x1="271.15" y1="266.63" x2="271.15" y2="270.92" stroke="#1a1a1a" stroke-width="0.9"/>
<line x1="268.95" y1="266.63" x2="273.35" y2="266.63" stroke="#1a1a1a" stroke-width="0.9"/>
<line x1="293.4" y1="293.8" x2="293.4" y2="296.2" stroke="#1a1a1a" stroke-width="0.9"/>
<text x="293.4" y="306.75" font-size="8" stroke="#1a1a1a" stroke-width="0.1" text-anchor="middle">46.7</text>
<rect x="285" y="291.23" width="8" height="2.57" fill="#a8062d"/>
<line x1="289" y1="289.51" x2="289" y2="291.23" stroke="#1a1a1a" stroke-width="0.9"/>
<line x1="286.8" y1="289.51" x2="291.2" y2="289.51" stroke="#1a1a1a" stroke-width="0.9"/>
<rect x="294.3" y="262.74" width="7.3" height="31.06" fill="#2c4777" stroke="#1c3467" stroke-width="0.8"/>
<line x1="297.95" y1="255.19" x2="297.95" y2="262.34" stroke="#1a1a1a" stroke-width="0.9"/>
<line x1="295.75" y1="255.19" x2="300.15" y2="255.19" stroke="#1a1a1a" stroke-width="0.9"/>
<line x1="320.2" y1="293.8" x2="320.2" y2="296.2" stroke="#1a1a1a" stroke-width="0.9"/>
<text x="320.2" y="306.75" font-size="8" stroke="#1a1a1a" stroke-width="0.1" text-anchor="middle">93.4</text>
<rect x="311.8" y="290.23" width="8" height="3.57" fill="#a8062d"/>
<line x1="315.8" y1="289.51" x2="315.8" y2="290.23" stroke="#1a1a1a" stroke-width="0.9"/>
<line x1="313.6" y1="289.51" x2="318" y2="289.51" stroke="#1a1a1a" stroke-width="0.9"/>
<rect x="321.1" y="239.15" width="7.3" height="54.66" fill="#2c4777" stroke="#1c3467" stroke-width="0.8"/>
<line x1="324.75" y1="218.73" x2="324.75" y2="238.75" stroke="#1a1a1a" stroke-width="0.9"/>
<line x1="322.55" y1="218.73" x2="326.95" y2="218.73" stroke="#1a1a1a" stroke-width="0.9"/>
<rect x="255.5" y="193.5" width="5.8" height="5.8" fill="#a8062d"/>
<text x="264.5" y="199.01" font-size="7.6" stroke="#1a1a1a" stroke-width="0.1" textLength="13.5" lengthAdjust="spacingAndGlyphs">CD4</text>
<rect x="282" y="193.5" width="5.8" height="5.8" fill="#2c4777"/>
<text x="291.3" y="199.01" font-size="7.6" stroke="#1a1a1a" stroke-width="0.1" textLength="13.3" lengthAdjust="spacingAndGlyphs">CD8</text>
<line x1="245.3" y1="211.3" x2="324.7" y2="211.3" stroke="#1a1a1a" stroke-width="1"/>
<line x1="245.3" y1="210.8" x2="245.3" y2="215.4" stroke="#1a1a1a" stroke-width="1"/>
<line x1="324.7" y1="210.8" x2="324.7" y2="215.4" stroke="#1a1a1a" stroke-width="1"/>
<line x1="270.7" y1="211.3" x2="270.7" y2="214" stroke="#1a1a1a" stroke-width="1"/>
<line x1="297" y1="211.3" x2="297" y2="214" stroke="#1a1a1a" stroke-width="1"/>
<ellipse cx="269.4" cy="207.2" rx="0.99" ry="0.9" fill="#111"/>
<ellipse cx="272" cy="207.2" rx="0.99" ry="0.9" fill="#111"/>
<ellipse cx="293.1" cy="207.2" rx="0.99" ry="0.9" fill="#111"/>
<ellipse cx="295.7" cy="207.2" rx="0.99" ry="0.9" fill="#111"/>
<ellipse cx="298.3" cy="207.2" rx="0.99" ry="0.9" fill="#111"/>
<ellipse cx="300.9" cy="207.2" rx="0.99" ry="0.9" fill="#111"/>
<ellipse cx="322.1" cy="207.2" rx="0.99" ry="0.9" fill="#111"/>
<ellipse cx="324.7" cy="207.2" rx="0.99" ry="0.9" fill="#111"/>
<ellipse cx="327.3" cy="207.2" rx="0.99" ry="0.9" fill="#111"/>
<line x1="235.4" y1="227.5" x2="315" y2="227.5" stroke="#1a1a1a" stroke-width="1"/>
<line x1="235.4" y1="227" x2="235.4" y2="231.6" stroke="#1a1a1a" stroke-width="1"/>
<line x1="315" y1="227" x2="315" y2="231.6" stroke="#1a1a1a" stroke-width="1"/>
<line x1="261.3" y1="227.5" x2="261.3" y2="230.2" stroke="#1a1a1a" stroke-width="1"/>
<line x1="289" y1="227.5" x2="289" y2="230.2" stroke="#1a1a1a" stroke-width="1"/>
<ellipse cx="258.7" cy="223.4" rx="0.99" ry="0.9" fill="#111"/>
<ellipse cx="261.3" cy="223.4" rx="0.99" ry="0.9" fill="#111"/>
<ellipse cx="263.9" cy="223.4" rx="0.99" ry="0.9" fill="#111"/>
<ellipse cx="285.1" cy="223.4" rx="0.99" ry="0.9" fill="#111"/>
<ellipse cx="287.7" cy="223.4" rx="0.99" ry="0.9" fill="#111"/>
<ellipse cx="290.3" cy="223.4" rx="0.99" ry="0.9" fill="#111"/>
<ellipse cx="292.9" cy="223.4" rx="0.99" ry="0.9" fill="#111"/>
<ellipse cx="311.1" cy="223.4" rx="0.99" ry="0.9" fill="#111"/>
<ellipse cx="313.7" cy="223.4" rx="0.99" ry="0.9" fill="#111"/>
<ellipse cx="316.3" cy="223.4" rx="0.99" ry="0.9" fill="#111"/>
<ellipse cx="318.9" cy="223.4" rx="0.99" ry="0.9" fill="#111"/>
<text x="210" y="250" font-size="9" stroke="#1a1a1a" stroke-width="0.45" text-anchor="middle" textLength="38" lengthAdjust="spacingAndGlyphs" transform="rotate(-90 210 250)">IFNγ+ T (%)</text>
<text x="279.9" y="320.36" font-size="8.6" text-anchor="middle" font-weight="bold" textLength="44" lengthAdjust="spacingAndGlyphs">AMG 701 (pM)</text>
<line x1="372.2" y1="205.5" x2="372.2" y2="293.7" stroke="#1a1a1a" stroke-width="1.1"/>
<line x1="371.7" y1="293.2" x2="480" y2="293.2" stroke="#1a1a1a" stroke-width="1.1"/>
<line x1="369.6" y1="293.2" x2="372.2" y2="293.2" stroke="#1a1a1a" stroke-width="0.9"/>
<text x="367" y="295.95" font-size="8" stroke="#1a1a1a" stroke-width="0.1" text-anchor="end">0</text>
<line x1="369.6" y1="276.15" x2="372.2" y2="276.15" stroke="#1a1a1a" stroke-width="0.9"/>
<text x="367" y="278.9" font-size="8" stroke="#1a1a1a" stroke-width="0.1" text-anchor="end">10</text>
<line x1="369.6" y1="259.1" x2="372.2" y2="259.1" stroke="#1a1a1a" stroke-width="0.9"/>
<text x="367" y="261.85" font-size="8" stroke="#1a1a1a" stroke-width="0.1" text-anchor="end">20</text>
<line x1="369.6" y1="242.05" x2="372.2" y2="242.05" stroke="#1a1a1a" stroke-width="0.9"/>
<text x="367" y="244.8" font-size="8" stroke="#1a1a1a" stroke-width="0.1" text-anchor="end">30</text>
<line x1="369.6" y1="225" x2="372.2" y2="225" stroke="#1a1a1a" stroke-width="0.9"/>
<text x="367" y="227.75" font-size="8" stroke="#1a1a1a" stroke-width="0.1" text-anchor="end">40</text>
<line x1="369.6" y1="207.95" x2="372.2" y2="207.95" stroke="#1a1a1a" stroke-width="0.9"/>
<text x="367" y="210.7" font-size="8" stroke="#1a1a1a" stroke-width="0.1" text-anchor="end">50</text>
<line x1="385.7" y1="293.2" x2="385.7" y2="295.6" stroke="#1a1a1a" stroke-width="0.9"/>
<text x="385.7" y="306.75" font-size="8" stroke="#1a1a1a" stroke-width="0.1" text-anchor="middle">0</text>
<rect x="377.3" y="292.86" width="8" height="0.34" fill="#a8062d"/>
<rect x="386.6" y="291.89" width="7.3" height="1.3" fill="#2c4777" stroke="#1c3467" stroke-width="0.8"/>
<line x1="390.25" y1="291.15" x2="390.25" y2="291.5" stroke="#1a1a1a" stroke-width="0.9"/>
<line x1="388.05" y1="291.15" x2="392.45" y2="291.15" stroke="#1a1a1a" stroke-width="0.9"/>
<line x1="412.6" y1="293.2" x2="412.6" y2="295.6" stroke="#1a1a1a" stroke-width="0.9"/>
<text x="412.6" y="306.75" font-size="8" stroke="#1a1a1a" stroke-width="0.1" text-anchor="middle">23.4</text>
<rect x="404.2" y="259.1" width="8" height="34.1" fill="#a8062d"/>
<line x1="408.2" y1="251.77" x2="408.2" y2="259.1" stroke="#1a1a1a" stroke-width="0.9"/>
<line x1="406" y1="251.77" x2="410.4" y2="251.77" stroke="#1a1a1a" stroke-width="0.9"/>
<rect x="413.5" y="257.11" width="7.3" height="36.09" fill="#2c4777" stroke="#1c3467" stroke-width="0.8"/>
<line x1="417.15" y1="246.31" x2="417.15" y2="256.71" stroke="#1a1a1a" stroke-width="0.9"/>
<line x1="414.95" y1="246.31" x2="419.35" y2="246.31" stroke="#1a1a1a" stroke-width="0.9"/>
<line x1="439.5" y1="293.2" x2="439.5" y2="295.6" stroke="#1a1a1a" stroke-width="0.9"/>
<text x="439.5" y="306.75" font-size="8" stroke="#1a1a1a" stroke-width="0.1" text-anchor="middle">46.7</text>
<rect x="431.1" y="248.53" width="8" height="44.67" fill="#a8062d"/>
<line x1="435.1" y1="245.8" x2="435.1" y2="248.53" stroke="#1a1a1a" stroke-width="0.9"/>
<line x1="432.9" y1="245.8" x2="437.3" y2="245.8" stroke="#1a1a1a" stroke-width="0.9"/>
<rect x="440.4" y="242.11" width="7.3" height="51.09" fill="#2c4777" stroke="#1c3467" stroke-width="0.8"/>
<line x1="444.05" y1="237.62" x2="444.05" y2="241.71" stroke="#1a1a1a" stroke-width="0.9"/>
<line x1="441.85" y1="237.62" x2="446.25" y2="237.62" stroke="#1a1a1a" stroke-width="0.9"/>
<line x1="466.4" y1="293.2" x2="466.4" y2="295.6" stroke="#1a1a1a" stroke-width="0.9"/>
<text x="466.4" y="306.75" font-size="8" stroke="#1a1a1a" stroke-width="0.1" text-anchor="middle">93.4</text>
<rect x="458" y="242.05" width="8" height="51.15" fill="#a8062d"/>
<line x1="462" y1="240.17" x2="462" y2="242.05" stroke="#1a1a1a" stroke-width="0.9"/>
<line x1="459.8" y1="240.17" x2="464.2" y2="240.17" stroke="#1a1a1a" stroke-width="0.9"/>
<rect x="467.3" y="233.58" width="7.3" height="59.62" fill="#2c4777" stroke="#1c3467" stroke-width="0.8"/>
<line x1="470.95" y1="229.26" x2="470.95" y2="233.18" stroke="#1a1a1a" stroke-width="0.9"/>
<line x1="468.75" y1="229.26" x2="473.15" y2="229.26" stroke="#1a1a1a" stroke-width="0.9"/>
<rect x="401.6" y="193.5" width="5.8" height="5.8" fill="#a8062d"/>
<text x="410.6" y="199.01" font-size="7.6" stroke="#1a1a1a" stroke-width="0.1" textLength="13.5" lengthAdjust="spacingAndGlyphs">CD4</text>
<rect x="428.1" y="193.5" width="5.8" height="5.8" fill="#2c4777"/>
<text x="437.4" y="199.01" font-size="7.6" stroke="#1a1a1a" stroke-width="0.1" textLength="13.3" lengthAdjust="spacingAndGlyphs">CD8</text>
<line x1="390.4" y1="221.2" x2="471.2" y2="221.2" stroke="#1a1a1a" stroke-width="1"/>
<line x1="390.4" y1="220.7" x2="390.4" y2="225.3" stroke="#1a1a1a" stroke-width="1"/>
<line x1="471.2" y1="220.7" x2="471.2" y2="225.3" stroke="#1a1a1a" stroke-width="1"/>
<line x1="416.2" y1="221.2" x2="416.2" y2="223.9" stroke="#1a1a1a" stroke-width="1"/>
<line x1="444.6" y1="221.2" x2="444.6" y2="223.9" stroke="#1a1a1a" stroke-width="1"/>
<ellipse cx="404.1" cy="217.1" rx="0.99" ry="0.9" fill="#111"/>
<ellipse cx="406.7" cy="217.1" rx="0.99" ry="0.9" fill="#111"/>
<ellipse cx="415.6" cy="217.1" rx="0.99" ry="0.9" fill="#111"/>
<ellipse cx="418.2" cy="217.1" rx="0.99" ry="0.9" fill="#111"/>
<ellipse cx="441.3" cy="217.1" rx="0.99" ry="0.9" fill="#111"/>
<ellipse cx="443.9" cy="217.1" rx="0.99" ry="0.9" fill="#111"/>
<ellipse cx="446.5" cy="217.1" rx="0.99" ry="0.9" fill="#111"/>
<ellipse cx="466.8" cy="217.1" rx="0.99" ry="0.9" fill="#111"/>
<ellipse cx="469.4" cy="217.1" rx="0.99" ry="0.9" fill="#111"/>
<ellipse cx="472" cy="217.1" rx="0.99" ry="0.9" fill="#111"/>
<ellipse cx="474.6" cy="217.1" rx="0.99" ry="0.9" fill="#111"/>
<line x1="381.6" y1="233.8" x2="461.5" y2="233.8" stroke="#1a1a1a" stroke-width="1"/>
<line x1="381.6" y1="233.3" x2="381.6" y2="237.9" stroke="#1a1a1a" stroke-width="1"/>
<line x1="461.5" y1="233.3" x2="461.5" y2="237.9" stroke="#1a1a1a" stroke-width="1"/>
<line x1="407.7" y1="233.8" x2="407.7" y2="236.5" stroke="#1a1a1a" stroke-width="1"/>
<line x1="435.4" y1="233.8" x2="435.4" y2="236.5" stroke="#1a1a1a" stroke-width="1"/>
<ellipse cx="405.6" cy="229.7" rx="0.99" ry="0.9" fill="#111"/>
<ellipse cx="408.2" cy="229.7" rx="0.99" ry="0.9" fill="#111"/>
<ellipse cx="410.8" cy="229.7" rx="0.99" ry="0.9" fill="#111"/>
<ellipse cx="431.5" cy="229.7" rx="0.99" ry="0.9" fill="#111"/>
<ellipse cx="434.1" cy="229.7" rx="0.99" ry="0.9" fill="#111"/>
<ellipse cx="436.7" cy="229.7" rx="0.99" ry="0.9" fill="#111"/>
<ellipse cx="439.3" cy="229.7" rx="0.99" ry="0.9" fill="#111"/>
<ellipse cx="457.6" cy="229.7" rx="0.99" ry="0.9" fill="#111"/>
<ellipse cx="460.2" cy="229.7" rx="0.99" ry="0.9" fill="#111"/>
<ellipse cx="462.8" cy="229.7" rx="0.99" ry="0.9" fill="#111"/>
<ellipse cx="465.4" cy="229.7" rx="0.99" ry="0.9" fill="#111"/>
<text x="350.6" y="249" font-size="9" stroke="#1a1a1a" stroke-width="0.45" text-anchor="middle" textLength="42" lengthAdjust="spacingAndGlyphs" transform="rotate(-90 350.6 249)">TNFα+ T (%)</text>
<text x="425.8" y="320.36" font-size="8.6" text-anchor="middle" font-weight="bold" textLength="44" lengthAdjust="spacingAndGlyphs">AMG 701 (pM)</text>
<line x1="51.8" y1="355.3" x2="51.8" y2="457.8" stroke="#1a1a1a" stroke-width="1.1"/>
<line x1="51.3" y1="457.3" x2="184.2" y2="457.3" stroke="#1a1a1a" stroke-width="1.1"/>
<line x1="49.2" y1="448.4" x2="51.8" y2="448.4" stroke="#1a1a1a" stroke-width="0.9"/>
<text x="46.2" y="450.72" font-size="7.9" stroke="#1a1a1a" stroke-width="0.1" text-anchor="end">0</text>
<line x1="49.2" y1="430.28" x2="51.8" y2="430.28" stroke="#1a1a1a" stroke-width="0.9"/>
<text x="46.2" y="432.6" font-size="7.9" stroke="#1a1a1a" stroke-width="0.1" text-anchor="end">20</text>
<line x1="49.2" y1="412.16" x2="51.8" y2="412.16" stroke="#1a1a1a" stroke-width="0.9"/>
<text x="46.2" y="414.48" font-size="7.9" stroke="#1a1a1a" stroke-width="0.1" text-anchor="end">40</text>
<line x1="49.2" y1="394.04" x2="51.8" y2="394.04" stroke="#1a1a1a" stroke-width="0.9"/>
<text x="46.2" y="396.36" font-size="7.9" stroke="#1a1a1a" stroke-width="0.1" text-anchor="end">60</text>
<line x1="49.2" y1="375.92" x2="51.8" y2="375.92" stroke="#1a1a1a" stroke-width="0.9"/>
<text x="46.2" y="378.24" font-size="7.9" stroke="#1a1a1a" stroke-width="0.1" text-anchor="end">80</text>
<line x1="49.2" y1="357.8" x2="51.8" y2="357.8" stroke="#1a1a1a" stroke-width="0.9"/>
<text x="46.2" y="360.12" font-size="7.9" stroke="#1a1a1a" stroke-width="0.1" text-anchor="end">100</text>
<line x1="63.5" y1="457.3" x2="63.5" y2="459.7" stroke="#1a1a1a" stroke-width="0.9"/>
<text x="63.75" y="470.55" font-size="8" stroke="#1a1a1a" stroke-width="0.1" text-anchor="middle">0</text>
<line x1="81.5" y1="457.3" x2="81.5" y2="459.7" stroke="#1a1a1a" stroke-width="0.9"/>
<text x="82.4" y="470.55" font-size="8" stroke="#1a1a1a" stroke-width="0.1" text-anchor="middle">5.8</text>
<line x1="99.5" y1="457.3" x2="99.5" y2="459.7" stroke="#1a1a1a" stroke-width="0.9"/>
<text x="101.4" y="470.55" font-size="8" stroke="#1a1a1a" stroke-width="0.1" text-anchor="middle">11.7</text>
<line x1="117.5" y1="457.3" x2="117.5" y2="459.7" stroke="#1a1a1a" stroke-width="0.9"/>
<text x="119.9" y="470.55" font-size="8" stroke="#1a1a1a" stroke-width="0.1" text-anchor="middle">23.4</text>
<line x1="135.5" y1="457.3" x2="135.5" y2="459.7" stroke="#1a1a1a" stroke-width="0.9"/>
<text x="138.7" y="470.55" font-size="8" stroke="#1a1a1a" stroke-width="0.1" text-anchor="middle">46.7</text>
<line x1="153.5" y1="457.3" x2="153.5" y2="459.7" stroke="#1a1a1a" stroke-width="0.9"/>
<text x="157.4" y="470.55" font-size="8" stroke="#1a1a1a" stroke-width="0.1" text-anchor="middle">93.4</text>
<line x1="171.5" y1="457.3" x2="171.5" y2="459.7" stroke="#1a1a1a" stroke-width="0.9"/>
<text x="175.3" y="470.55" font-size="8" stroke="#1a1a1a" stroke-width="0.1" text-anchor="middle">186.8</text>
<line x1="55" y1="448.4" x2="183" y2="448.4" stroke="#555" stroke-width="0.8" stroke-dasharray="0.9 2.6"/>
<text x="95.9" y="483.4" font-size="8.4" font-weight="bold" textLength="43.5" lengthAdjust="spacingAndGlyphs">AMG 701 (pM)</text>
<text x="25.59" y="406.2" font-size="8.4" stroke="#1a1a1a" stroke-width="0.3" text-anchor="middle" textLength="78.5" lengthAdjust="spacingAndGlyphs" transform="rotate(-90 25.59 406.2)">% lysis of patient MM cells</text>
<path d="M63.5 448.4L81.5 414.88L99.5 386.79L117.5 375.01L135.5 366.86L153.5 369.12L171.5 362.33" stroke="#a8062d" stroke-width="1" fill="none"/>
<path d="M63.5 448.4L81.5 440.25L99.5 416.24L117.5 411.25L135.5 390.42L153.5 378.64L171.5 359.61" stroke="#a8062d" stroke-width="1" fill="none"/>
<path d="M63.5 448.4L81.5 417.6L99.5 404.01L117.5 401.29L135.5 370.67L153.5 375.01L171.5 364.14" stroke="#a8062d" stroke-width="1" fill="none"/>
<path d="M63.5 448.4L81.5 444.78L99.5 435.72L117.5 394.04L135.5 386.34L153.5 378.64L171.5 365.95" stroke="#a8062d" stroke-width="1" fill="none"/>
<path d="M63.5 448.4L81.5 442.51L99.5 433.54L117.5 401.29L135.5 384.07L153.5 375.01L171.5 361.7" stroke="#a8062d" stroke-width="1" fill="none"/>
<path d="M63.5 448.4L81.5 447.04L99.5 437.98L117.5 426.66L135.5 433.45L153.5 426.66L171.5 421.58" stroke="#a8062d" stroke-width="1" fill="none"/>
<path d="M63.5 448.4L81.5 431.19L99.5 432.09L117.5 423.39L135.5 420.77L153.5 409.44L171.5 389.69" stroke="#a8062d" stroke-width="1" fill="none"/>
<path d="M63.5 448.4L81.5 449.31L99.5 447.04L117.5 436.8L135.5 417.78L153.5 400.38L171.5 392.41" stroke="#a8062d" stroke-width="1" fill="none"/>
<path d="M63.5 448.4L81.5 444.78L99.5 437.98L117.5 425.75L135.5 429.01L153.5 414.42L171.5 395.31" stroke="#a8062d" stroke-width="1" fill="none"/>
<path d="M63.5 448.4L81.5 442.51L99.5 435.72L117.5 427.83L135.5 420.77L153.5 409.44L171.5 389.69" stroke="#a8062d" stroke-width="1" fill="none"/>
<line x1="63.5" y1="444.32" x2="63.5" y2="452.48" stroke="#1a1a1a" stroke-width="0.9"/>
<line x1="62.2" y1="444.32" x2="64.8" y2="444.32" stroke="#1a1a1a" stroke-width="0.7"/>
<line x1="62.2" y1="452.48" x2="64.8" y2="452.48" stroke="#1a1a1a" stroke-width="0.7"/>
<circle cx="63.5" cy="448.4" r="1.6" fill="#fff" stroke="#a8062d" stroke-width="0.8"/>
<line x1="81.5" y1="410.24" x2="81.5" y2="419.51" stroke="#1a1a1a" stroke-width="0.9"/>
<line x1="80.2" y1="410.24" x2="82.8" y2="410.24" stroke="#1a1a1a" stroke-width="0.7"/>
<line x1="80.2" y1="419.51" x2="82.8" y2="419.51" stroke="#1a1a1a" stroke-width="0.7"/>
<circle cx="81.5" cy="414.88" r="1.6" fill="#fff" stroke="#a8062d" stroke-width="0.8"/>
<line x1="99.5" y1="381.62" x2="99.5" y2="391.96" stroke="#1a1a1a" stroke-width="0.9"/>
<line x1="98.2" y1="381.62" x2="100.8" y2="381.62" stroke="#1a1a1a" stroke-width="0.7"/>
<line x1="98.2" y1="391.96" x2="100.8" y2="391.96" stroke="#1a1a1a" stroke-width="0.7"/>
<circle cx="99.5" cy="386.79" r="1.6" fill="#fff" stroke="#a8062d" stroke-width="0.8"/>
<line x1="117.5" y1="369.6" x2="117.5" y2="380.43" stroke="#1a1a1a" stroke-width="0.9"/>
<line x1="116.2" y1="369.6" x2="118.8" y2="369.6" stroke="#1a1a1a" stroke-width="0.7"/>
<line x1="116.2" y1="380.43" x2="118.8" y2="380.43" stroke="#1a1a1a" stroke-width="0.7"/>
<circle cx="117.5" cy="375.01" r="1.6" fill="#fff" stroke="#a8062d" stroke-width="0.8"/>
<line x1="135.5" y1="360.78" x2="135.5" y2="372.94" stroke="#1a1a1a" stroke-width="0.9"/>
<line x1="134.2" y1="360.78" x2="136.8" y2="360.78" stroke="#1a1a1a" stroke-width="0.7"/>
<line x1="134.2" y1="372.94" x2="136.8" y2="372.94" stroke="#1a1a1a" stroke-width="0.7"/>
<circle cx="135.5" cy="366.86" r="1.6" fill="#fff" stroke="#a8062d" stroke-width="0.8"/>
<line x1="153.5" y1="363.96" x2="153.5" y2="374.29" stroke="#1a1a1a" stroke-width="0.9"/>
<line x1="152.2" y1="363.96" x2="154.8" y2="363.96" stroke="#1a1a1a" stroke-width="0.7"/>
<line x1="152.2" y1="374.29" x2="154.8" y2="374.29" stroke="#1a1a1a" stroke-width="0.7"/>
<circle cx="153.5" cy="369.12" r="1.6" fill="#fff" stroke="#a8062d" stroke-width="0.8"/>
<line x1="171.5" y1="356.34" x2="171.5" y2="368.32" stroke="#1a1a1a" stroke-width="0.9"/>
<line x1="170.2" y1="356.34" x2="172.8" y2="356.34" stroke="#1a1a1a" stroke-width="0.7"/>
<line x1="170.2" y1="368.32" x2="172.8" y2="368.32" stroke="#1a1a1a" stroke-width="0.7"/>
<circle cx="171.5" cy="362.33" r="1.6" fill="#fff" stroke="#a8062d" stroke-width="0.8"/>
<line x1="63.5" y1="444.32" x2="63.5" y2="452.48" stroke="#1a1a1a" stroke-width="0.9"/>
<line x1="62.2" y1="444.32" x2="64.8" y2="444.32" stroke="#1a1a1a" stroke-width="0.7"/>
<line x1="62.2" y1="452.48" x2="64.8" y2="452.48" stroke="#1a1a1a" stroke-width="0.7"/>
<rect x="61.9" y="446.8" width="3.2" height="3.2" fill="#fff" stroke="#a8062d" stroke-width="0.8"/>
<rect x="79.9" y="438.65" width="3.2" height="3.2" fill="#fff" stroke="#a8062d" stroke-width="0.8"/>
<rect x="97.9" y="414.64" width="3.2" height="3.2" fill="#fff" stroke="#a8062d" stroke-width="0.8"/>
<rect x="115.9" y="409.65" width="3.2" height="3.2" fill="#fff" stroke="#a8062d" stroke-width="0.8"/>
<rect x="133.9" y="388.82" width="3.2" height="3.2" fill="#fff" stroke="#a8062d" stroke-width="0.8"/>
<rect x="151.9" y="377.04" width="3.2" height="3.2" fill="#fff" stroke="#a8062d" stroke-width="0.8"/>
<rect x="169.9" y="358.01" width="3.2" height="3.2" fill="#fff" stroke="#a8062d" stroke-width="0.8"/>
<line x1="63.5" y1="444.32" x2="63.5" y2="452.48" stroke="#1a1a1a" stroke-width="0.9"/>
<line x1="62.2" y1="444.32" x2="64.8" y2="444.32" stroke="#1a1a1a" stroke-width="0.7"/>
<line x1="62.2" y1="452.48" x2="64.8" y2="452.48" stroke="#1a1a1a" stroke-width="0.7"/>
<path d="M63.5 446.2L65.7 450L61.3 450Z" stroke="#a8062d" stroke-width="0.8" fill="#fff"/>
<line x1="81.5" y1="413.66" x2="81.5" y2="421.53" stroke="#1a1a1a" stroke-width="0.9"/>
<line x1="80.2" y1="413.66" x2="82.8" y2="413.66" stroke="#1a1a1a" stroke-width="0.7"/>
<line x1="80.2" y1="421.53" x2="82.8" y2="421.53" stroke="#1a1a1a" stroke-width="0.7"/>
<path d="M81.5 415.4L83.7 419.2L79.3 419.2Z" stroke="#a8062d" stroke-width="0.8" fill="#fff"/>
<line x1="99.5" y1="401.08" x2="99.5" y2="406.93" stroke="#1a1a1a" stroke-width="0.9"/>
<line x1="98.2" y1="401.08" x2="100.8" y2="401.08" stroke="#1a1a1a" stroke-width="0.7"/>
<line x1="98.2" y1="406.93" x2="100.8" y2="406.93" stroke="#1a1a1a" stroke-width="0.7"/>
<path d="M99.5 401.81L101.7 405.61L97.3 405.61Z" stroke="#a8062d" stroke-width="0.8" fill="#fff"/>
<line x1="117.5" y1="397.01" x2="117.5" y2="405.56" stroke="#1a1a1a" stroke-width="0.9"/>
<line x1="116.2" y1="397.01" x2="118.8" y2="397.01" stroke="#1a1a1a" stroke-width="0.7"/>
<line x1="116.2" y1="405.56" x2="118.8" y2="405.56" stroke="#1a1a1a" stroke-width="0.7"/>
<path d="M117.5 399.09L119.7 402.89L115.3 402.89Z" stroke="#a8062d" stroke-width="0.8" fill="#fff"/>
<line x1="135.5" y1="366.25" x2="135.5" y2="375.08" stroke="#1a1a1a" stroke-width="0.9"/>
<line x1="134.2" y1="366.25" x2="136.8" y2="366.25" stroke="#1a1a1a" stroke-width="0.7"/>
<line x1="134.2" y1="375.08" x2="136.8" y2="375.08" stroke="#1a1a1a" stroke-width="0.7"/>
<path d="M135.5 368.47L137.7 372.27L133.3 372.27Z" stroke="#a8062d" stroke-width="0.8" fill="#fff"/>
<line x1="153.5" y1="373.14" x2="153.5" y2="376.89" stroke="#1a1a1a" stroke-width="0.9"/>
<line x1="152.2" y1="373.14" x2="154.8" y2="373.14" stroke="#1a1a1a" stroke-width="0.7"/>
<line x1="152.2" y1="376.89" x2="154.8" y2="376.89" stroke="#1a1a1a" stroke-width="0.7"/>
<path d="M153.5 372.81L155.7 376.61L151.3 376.61Z" stroke="#a8062d" stroke-width="0.8" fill="#fff"/>
<line x1="171.5" y1="361.35" x2="171.5" y2="366.94" stroke="#1a1a1a" stroke-width="0.9"/>
<line x1="170.2" y1="361.35" x2="172.8" y2="361.35" stroke="#1a1a1a" stroke-width="0.7"/>
<line x1="170.2" y1="366.94" x2="172.8" y2="366.94" stroke="#1a1a1a" stroke-width="0.7"/>
<path d="M171.5 361.94L173.7 365.74L169.3 365.74Z" stroke="#a8062d" stroke-width="0.8" fill="#fff"/>
<line x1="63.5" y1="444.32" x2="63.5" y2="452.48" stroke="#1a1a1a" stroke-width="0.9"/>
<line x1="62.2" y1="444.32" x2="64.8" y2="444.32" stroke="#1a1a1a" stroke-width="0.7"/>
<line x1="62.2" y1="452.48" x2="64.8" y2="452.48" stroke="#1a1a1a" stroke-width="0.7"/>
<path d="M63.5 450.6L65.7 446.8L61.3 446.8Z" stroke="#a8062d" stroke-width="0.8" fill="#fff"/>
<path d="M81.5 446.98L83.7 443.18L79.3 443.18Z" stroke="#a8062d" stroke-width="0.8" fill="#fff"/>
<path d="M99.5 437.92L101.7 434.12L97.3 434.12Z" stroke="#a8062d" stroke-width="0.8" fill="#fff"/>
<line x1="117.5" y1="388.76" x2="117.5" y2="399.32" stroke="#1a1a1a" stroke-width="0.9"/>
<line x1="116.2" y1="388.76" x2="118.8" y2="388.76" stroke="#1a1a1a" stroke-width="0.7"/>
<line x1="116.2" y1="399.32" x2="118.8" y2="399.32" stroke="#1a1a1a" stroke-width="0.7"/>
<path d="M117.5 396.24L119.7 392.44L115.3 392.44Z" stroke="#a8062d" stroke-width="0.8" fill="#fff"/>
<path d="M135.5 388.54L137.7 384.74L133.3 384.74Z" stroke="#a8062d" stroke-width="0.8" fill="#fff"/>
<line x1="153.5" y1="373.21" x2="153.5" y2="384.06" stroke="#1a1a1a" stroke-width="0.9"/>
<line x1="152.2" y1="373.21" x2="154.8" y2="373.21" stroke="#1a1a1a" stroke-width="0.7"/>
<line x1="152.2" y1="384.06" x2="154.8" y2="384.06" stroke="#1a1a1a" stroke-width="0.7"/>
<path d="M153.5 380.84L155.7 377.04L151.3 377.04Z" stroke="#a8062d" stroke-width="0.8" fill="#fff"/>
<path d="M171.5 368.15L173.7 364.35L169.3 364.35Z" stroke="#a8062d" stroke-width="0.8" fill="#fff"/>
<line x1="63.5" y1="444.32" x2="63.5" y2="452.48" stroke="#1a1a1a" stroke-width="0.9"/>
<line x1="62.2" y1="444.32" x2="64.8" y2="444.32" stroke="#1a1a1a" stroke-width="0.7"/>
<line x1="62.2" y1="452.48" x2="64.8" y2="452.48" stroke="#1a1a1a" stroke-width="0.7"/>
<path d="M63.5 446L65.9 448.4L63.5 450.8L61.1 448.4Z" stroke="#a8062d" stroke-width="0.8" fill="#fff"/>
<path d="M81.5 440.11L83.9 442.51L81.5 444.91L79.1 442.51Z" stroke="#a8062d" stroke-width="0.8" fill="#fff"/>
<path d="M99.5 431.14L101.9 433.54L99.5 435.94L97.1 433.54Z" stroke="#a8062d" stroke-width="0.8" fill="#fff"/>
<path d="M117.5 398.89L119.9 401.29L117.5 403.69L115.1 401.29Z" stroke="#a8062d" stroke-width="0.8" fill="#fff"/>
<path d="M135.5 381.67L137.9 384.07L135.5 386.47L133.1 384.07Z" stroke="#a8062d" stroke-width="0.8" fill="#fff"/>
<path d="M153.5 372.61L155.9 375.01L153.5 377.41L151.1 375.01Z" stroke="#a8062d" stroke-width="0.8" fill="#fff"/>
<path d="M171.5 359.3L173.9 361.7L171.5 364.1L169.1 361.7Z" stroke="#a8062d" stroke-width="0.8" fill="#fff"/>
<line x1="63.5" y1="444.32" x2="63.5" y2="452.48" stroke="#1a1a1a" stroke-width="0.9"/>
<line x1="62.2" y1="444.32" x2="64.8" y2="444.32" stroke="#1a1a1a" stroke-width="0.7"/>
<line x1="62.2" y1="452.48" x2="64.8" y2="452.48" stroke="#1a1a1a" stroke-width="0.7"/>
<circle cx="63.5" cy="448.4" r="1.6" fill="#fff" stroke="#a8062d" stroke-width="0.8"/>
<line x1="81.5" y1="440.78" x2="81.5" y2="453.3" stroke="#1a1a1a" stroke-width="0.9"/>
<line x1="80.2" y1="440.78" x2="82.8" y2="440.78" stroke="#1a1a1a" stroke-width="0.7"/>
<line x1="80.2" y1="453.3" x2="82.8" y2="453.3" stroke="#1a1a1a" stroke-width="0.7"/>
<circle cx="81.5" cy="447.04" r="1.6" fill="#fff" stroke="#a8062d" stroke-width="0.8"/>
<line x1="99.5" y1="432.22" x2="99.5" y2="443.75" stroke="#1a1a1a" stroke-width="0.9"/>
<line x1="98.2" y1="432.22" x2="100.8" y2="432.22" stroke="#1a1a1a" stroke-width="0.7"/>
<line x1="98.2" y1="443.75" x2="100.8" y2="443.75" stroke="#1a1a1a" stroke-width="0.7"/>
<circle cx="99.5" cy="437.98" r="1.6" fill="#fff" stroke="#a8062d" stroke-width="0.8"/>
<line x1="117.5" y1="423.53" x2="117.5" y2="429.78" stroke="#1a1a1a" stroke-width="0.9"/>
<line x1="116.2" y1="423.53" x2="118.8" y2="423.53" stroke="#1a1a1a" stroke-width="0.7"/>
<line x1="116.2" y1="429.78" x2="118.8" y2="429.78" stroke="#1a1a1a" stroke-width="0.7"/>
<circle cx="117.5" cy="426.66" r="1.6" fill="#fff" stroke="#a8062d" stroke-width="0.8"/>
<line x1="135.5" y1="427.28" x2="135.5" y2="439.62" stroke="#1a1a1a" stroke-width="0.9"/>
<line x1="134.2" y1="427.28" x2="136.8" y2="427.28" stroke="#1a1a1a" stroke-width="0.7"/>
<line x1="134.2" y1="439.62" x2="136.8" y2="439.62" stroke="#1a1a1a" stroke-width="0.7"/>
<circle cx="135.5" cy="433.45" r="1.6" fill="#fff" stroke="#a8062d" stroke-width="0.8"/>
<line x1="153.5" y1="422.4" x2="153.5" y2="430.91" stroke="#1a1a1a" stroke-width="0.9"/>
<line x1="152.2" y1="422.4" x2="154.8" y2="422.4" stroke="#1a1a1a" stroke-width="0.7"/>
<line x1="152.2" y1="430.91" x2="154.8" y2="430.91" stroke="#1a1a1a" stroke-width="0.7"/>
<circle cx="153.5" cy="426.66" r="1.6" fill="#fff" stroke="#a8062d" stroke-width="0.8"/>
<line x1="171.5" y1="416.7" x2="171.5" y2="426.46" stroke="#1a1a1a" stroke-width="0.9"/>
<line x1="170.2" y1="416.7" x2="172.8" y2="416.7" stroke="#1a1a1a" stroke-width="0.7"/>
<line x1="170.2" y1="426.46" x2="172.8" y2="426.46" stroke="#1a1a1a" stroke-width="0.7"/>
<circle cx="171.5" cy="421.58" r="1.6" fill="#fff" stroke="#a8062d" stroke-width="0.8"/>
<line x1="63.5" y1="444.32" x2="63.5" y2="452.48" stroke="#1a1a1a" stroke-width="0.9"/>
<line x1="62.2" y1="444.32" x2="64.8" y2="444.32" stroke="#1a1a1a" stroke-width="0.7"/>
<line x1="62.2" y1="452.48" x2="64.8" y2="452.48" stroke="#1a1a1a" stroke-width="0.7"/>
<circle cx="63.5" cy="448.4" r="2" fill="#a8062d"/>
<line x1="81.5" y1="428.45" x2="81.5" y2="433.93" stroke="#1a1a1a" stroke-width="0.9"/>
<line x1="80.2" y1="428.45" x2="82.8" y2="428.45" stroke="#1a1a1a" stroke-width="0.7"/>
<line x1="80.2" y1="433.93" x2="82.8" y2="433.93" stroke="#1a1a1a" stroke-width="0.7"/>
<circle cx="81.5" cy="431.19" r="2" fill="#a8062d"/>
<line x1="99.5" y1="426.02" x2="99.5" y2="438.17" stroke="#1a1a1a" stroke-width="0.9"/>
<line x1="98.2" y1="426.02" x2="100.8" y2="426.02" stroke="#1a1a1a" stroke-width="0.7"/>
<line x1="98.2" y1="438.17" x2="100.8" y2="438.17" stroke="#1a1a1a" stroke-width="0.7"/>
<circle cx="99.5" cy="432.09" r="2" fill="#a8062d"/>
<line x1="117.5" y1="418.45" x2="117.5" y2="428.34" stroke="#1a1a1a" stroke-width="0.9"/>
<line x1="116.2" y1="418.45" x2="118.8" y2="418.45" stroke="#1a1a1a" stroke-width="0.7"/>
<line x1="116.2" y1="428.34" x2="118.8" y2="428.34" stroke="#1a1a1a" stroke-width="0.7"/>
<circle cx="117.5" cy="423.39" r="2" fill="#a8062d"/>
<line x1="135.5" y1="414.58" x2="135.5" y2="426.96" stroke="#1a1a1a" stroke-width="0.9"/>
<line x1="134.2" y1="414.58" x2="136.8" y2="414.58" stroke="#1a1a1a" stroke-width="0.7"/>
<line x1="134.2" y1="426.96" x2="136.8" y2="426.96" stroke="#1a1a1a" stroke-width="0.7"/>
<circle cx="135.5" cy="420.77" r="2" fill="#a8062d"/>
<line x1="153.5" y1="403.58" x2="153.5" y2="415.3" stroke="#1a1a1a" stroke-width="0.9"/>
<line x1="152.2" y1="403.58" x2="154.8" y2="403.58" stroke="#1a1a1a" stroke-width="0.7"/>
<line x1="152.2" y1="415.3" x2="154.8" y2="415.3" stroke="#1a1a1a" stroke-width="0.7"/>
<circle cx="153.5" cy="409.44" r="2" fill="#a8062d"/>
<line x1="171.5" y1="386.53" x2="171.5" y2="392.86" stroke="#1a1a1a" stroke-width="0.9"/>
<line x1="170.2" y1="386.53" x2="172.8" y2="386.53" stroke="#1a1a1a" stroke-width="0.7"/>
<line x1="170.2" y1="392.86" x2="172.8" y2="392.86" stroke="#1a1a1a" stroke-width="0.7"/>
<circle cx="171.5" cy="389.69" r="2" fill="#a8062d"/>
<line x1="63.5" y1="444.32" x2="63.5" y2="452.48" stroke="#1a1a1a" stroke-width="0.9"/>
<line x1="62.2" y1="444.32" x2="64.8" y2="444.32" stroke="#1a1a1a" stroke-width="0.7"/>
<line x1="62.2" y1="452.48" x2="64.8" y2="452.48" stroke="#1a1a1a" stroke-width="0.7"/>
<rect x="61.9" y="446.8" width="3.2" height="3.2" fill="#fff" stroke="#a8062d" stroke-width="0.8"/>
<circle cx="63.5" cy="448.4" r="0.8" fill="#a8062d"/>
<line x1="81.5" y1="445.86" x2="81.5" y2="452.75" stroke="#1a1a1a" stroke-width="0.9"/>
<line x1="80.2" y1="445.86" x2="82.8" y2="445.86" stroke="#1a1a1a" stroke-width="0.7"/>
<line x1="80.2" y1="452.75" x2="82.8" y2="452.75" stroke="#1a1a1a" stroke-width="0.7"/>
<rect x="79.9" y="447.71" width="3.2" height="3.2" fill="#fff" stroke="#a8062d" stroke-width="0.8"/>
<circle cx="81.5" cy="449.31" r="0.8" fill="#a8062d"/>
<line x1="99.5" y1="444.48" x2="99.5" y2="449.6" stroke="#1a1a1a" stroke-width="0.9"/>
<line x1="98.2" y1="444.48" x2="100.8" y2="444.48" stroke="#1a1a1a" stroke-width="0.7"/>
<line x1="98.2" y1="449.6" x2="100.8" y2="449.6" stroke="#1a1a1a" stroke-width="0.7"/>
<rect x="97.9" y="445.44" width="3.2" height="3.2" fill="#fff" stroke="#a8062d" stroke-width="0.8"/>
<circle cx="99.5" cy="447.04" r="0.8" fill="#a8062d"/>
<line x1="117.5" y1="434.33" x2="117.5" y2="439.28" stroke="#1a1a1a" stroke-width="0.9"/>
<line x1="116.2" y1="434.33" x2="118.8" y2="434.33" stroke="#1a1a1a" stroke-width="0.7"/>
<line x1="116.2" y1="439.28" x2="118.8" y2="439.28" stroke="#1a1a1a" stroke-width="0.7"/>
<rect x="115.9" y="435.2" width="3.2" height="3.2" fill="#fff" stroke="#a8062d" stroke-width="0.8"/>
<circle cx="117.5" cy="436.8" r="0.8" fill="#a8062d"/>
<line x1="135.5" y1="415.67" x2="135.5" y2="419.88" stroke="#1a1a1a" stroke-width="0.9"/>
<line x1="134.2" y1="415.67" x2="136.8" y2="415.67" stroke="#1a1a1a" stroke-width="0.7"/>
<line x1="134.2" y1="419.88" x2="136.8" y2="419.88" stroke="#1a1a1a" stroke-width="0.7"/>
<rect x="133.9" y="416.18" width="3.2" height="3.2" fill="#fff" stroke="#a8062d" stroke-width="0.8"/>
<circle cx="135.5" cy="417.78" r="0.8" fill="#a8062d"/>
<line x1="153.5" y1="397.2" x2="153.5" y2="403.56" stroke="#1a1a1a" stroke-width="0.9"/>
<line x1="152.2" y1="397.2" x2="154.8" y2="397.2" stroke="#1a1a1a" stroke-width="0.7"/>
<line x1="152.2" y1="403.56" x2="154.8" y2="403.56" stroke="#1a1a1a" stroke-width="0.7"/>
<rect x="151.9" y="398.78" width="3.2" height="3.2" fill="#fff" stroke="#a8062d" stroke-width="0.8"/>
<circle cx="153.5" cy="400.38" r="0.8" fill="#a8062d"/>
<line x1="171.5" y1="387.87" x2="171.5" y2="396.95" stroke="#1a1a1a" stroke-width="0.9"/>
<line x1="170.2" y1="387.87" x2="172.8" y2="387.87" stroke="#1a1a1a" stroke-width="0.7"/>
<line x1="170.2" y1="396.95" x2="172.8" y2="396.95" stroke="#1a1a1a" stroke-width="0.7"/>
<rect x="169.9" y="390.81" width="3.2" height="3.2" fill="#fff" stroke="#a8062d" stroke-width="0.8"/>
<circle cx="171.5" cy="392.41" r="0.8" fill="#a8062d"/>
<line x1="63.5" y1="444.32" x2="63.5" y2="452.48" stroke="#1a1a1a" stroke-width="0.9"/>
<line x1="62.2" y1="444.32" x2="64.8" y2="444.32" stroke="#1a1a1a" stroke-width="0.7"/>
<line x1="62.2" y1="452.48" x2="64.8" y2="452.48" stroke="#1a1a1a" stroke-width="0.7"/>
<circle cx="63.5" cy="448.4" r="2" fill="#a8062d"/>
<circle cx="81.5" cy="444.78" r="2" fill="#a8062d"/>
<circle cx="99.5" cy="437.98" r="2" fill="#a8062d"/>
<line x1="117.5" y1="422.41" x2="117.5" y2="429.09" stroke="#1a1a1a" stroke-width="0.9"/>
<line x1="116.2" y1="422.41" x2="118.8" y2="422.41" stroke="#1a1a1a" stroke-width="0.7"/>
<line x1="116.2" y1="429.09" x2="118.8" y2="429.09" stroke="#1a1a1a" stroke-width="0.7"/>
<circle cx="117.5" cy="425.75" r="2" fill="#a8062d"/>
<circle cx="135.5" cy="429.01" r="2" fill="#a8062d"/>
<line x1="153.5" y1="408.91" x2="153.5" y2="419.94" stroke="#1a1a1a" stroke-width="0.9"/>
<line x1="152.2" y1="408.91" x2="154.8" y2="408.91" stroke="#1a1a1a" stroke-width="0.7"/>
<line x1="152.2" y1="419.94" x2="154.8" y2="419.94" stroke="#1a1a1a" stroke-width="0.7"/>
<circle cx="153.5" cy="414.42" r="2" fill="#a8062d"/>
<circle cx="171.5" cy="395.31" r="2" fill="#a8062d"/>
<line x1="63.5" y1="444.32" x2="63.5" y2="452.48" stroke="#1a1a1a" stroke-width="0.9"/>
<line x1="62.2" y1="444.32" x2="64.8" y2="444.32" stroke="#1a1a1a" stroke-width="0.7"/>
<line x1="62.2" y1="452.48" x2="64.8" y2="452.48" stroke="#1a1a1a" stroke-width="0.7"/>
<path d="M61.5 446.4L65.5 450.4L65.5 446.4L61.5 450.4Z" stroke="#a8062d" stroke-width="0.5" fill="#a8062d"/>
<path d="M79.5 440.51L83.5 444.51L83.5 440.51L79.5 444.51Z" stroke="#a8062d" stroke-width="0.5" fill="#a8062d"/>
<path d="M97.5 433.72L101.5 437.72L101.5 433.72L97.5 437.72Z" stroke="#a8062d" stroke-width="0.5" fill="#a8062d"/>
<path d="M115.5 425.83L119.5 429.83L119.5 425.83L115.5 429.83Z" stroke="#a8062d" stroke-width="0.5" fill="#a8062d"/>
<path d="M133.5 418.77L137.5 422.77L137.5 418.77L133.5 422.77Z" stroke="#a8062d" stroke-width="0.5" fill="#a8062d"/>
<path d="M151.5 407.44L155.5 411.44L155.5 407.44L151.5 411.44Z" stroke="#a8062d" stroke-width="0.5" fill="#a8062d"/>
<path d="M169.5 387.69L173.5 391.69L173.5 387.69L169.5 391.69Z" stroke="#a8062d" stroke-width="0.5" fill="#a8062d"/>
<line x1="187.5" y1="357.8" x2="198.7" y2="357.8" stroke="#a8062d" stroke-width="1"/>
<circle cx="193.3" cy="357.8" r="1.5" fill="#fff" stroke="#a8062d" stroke-width="0.8"/>
<text x="202.6" y="360.14" font-size="6.8" stroke="#1a1a1a" stroke-width="0.1">RRMM1</text>
<line x1="187.5" y1="368.42" x2="198.7" y2="368.42" stroke="#a8062d" stroke-width="1"/>
<rect x="191.8" y="366.92" width="3" height="3" fill="#fff" stroke="#a8062d" stroke-width="0.8"/>
<text x="202.6" y="370.76" font-size="6.8" stroke="#1a1a1a" stroke-width="0.1">RRMM2</text>
<line x1="187.5" y1="379.04" x2="198.7" y2="379.04" stroke="#a8062d" stroke-width="1"/>
<path d="M193.3 376.95L195.39 380.56L191.21 380.56Z" stroke="#a8062d" stroke-width="0.8" fill="#fff"/>
<text x="202.6" y="381.38" font-size="6.8" stroke="#1a1a1a" stroke-width="0.1">RRMM3</text>
<line x1="187.5" y1="389.66" x2="198.7" y2="389.66" stroke="#a8062d" stroke-width="1"/>
<path d="M193.3 391.75L195.39 388.14L191.21 388.14Z" stroke="#a8062d" stroke-width="0.8" fill="#fff"/>
<text x="202.6" y="392" font-size="6.8" stroke="#1a1a1a" stroke-width="0.1">RRMM4</text>
<line x1="187.5" y1="400.28" x2="198.7" y2="400.28" stroke="#a8062d" stroke-width="1"/>
<path d="M193.3 398L195.58 400.28L193.3 402.56L191.02 400.28Z" stroke="#a8062d" stroke-width="0.8" fill="#fff"/>
<text x="202.6" y="402.62" font-size="6.8" stroke="#1a1a1a" stroke-width="0.1">RRMM5</text>
<line x1="187.5" y1="410.9" x2="198.7" y2="410.9" stroke="#a8062d" stroke-width="1"/>
<circle cx="193.3" cy="410.9" r="1.5" fill="#fff" stroke="#a8062d" stroke-width="0.8"/>
<text x="202.6" y="413.24" font-size="6.8" stroke="#1a1a1a" stroke-width="0.1">RRMM6</text>
<line x1="187.5" y1="421.52" x2="198.7" y2="421.52" stroke="#a8062d" stroke-width="1"/>
<circle cx="193.3" cy="421.52" r="1.9" fill="#a8062d"/>
<text x="202.6" y="423.86" font-size="6.8" stroke="#1a1a1a" stroke-width="0.1">RRMM7</text>
<line x1="187.5" y1="432.14" x2="198.7" y2="432.14" stroke="#a8062d" stroke-width="1"/>
<rect x="191.8" y="430.64" width="3" height="3" fill="#fff" stroke="#a8062d" stroke-width="0.8"/>
<circle cx="193.3" cy="432.14" r="0.8" fill="#a8062d"/>
<text x="202.6" y="434.48" font-size="6.8" stroke="#1a1a1a" stroke-width="0.1">RRMM8</text>
<line x1="187.5" y1="442.76" x2="198.7" y2="442.76" stroke="#a8062d" stroke-width="1"/>
<circle cx="193.3" cy="442.76" r="1.9" fill="#a8062d"/>
<text x="202.6" y="445.1" font-size="6.8" stroke="#1a1a1a" stroke-width="0.1">RRMM9</text>
<line x1="187.5" y1="453.38" x2="198.7" y2="453.38" stroke="#a8062d" stroke-width="1"/>
<path d="M191.4 451.48L195.2 455.28L195.2 451.48L191.4 455.28Z" stroke="#a8062d" stroke-width="0.5" fill="#a8062d"/>
<text x="202.6" y="455.72" font-size="6.8" stroke="#1a1a1a" stroke-width="0.1">RRMM10</text>
</svg>
</body></html>
